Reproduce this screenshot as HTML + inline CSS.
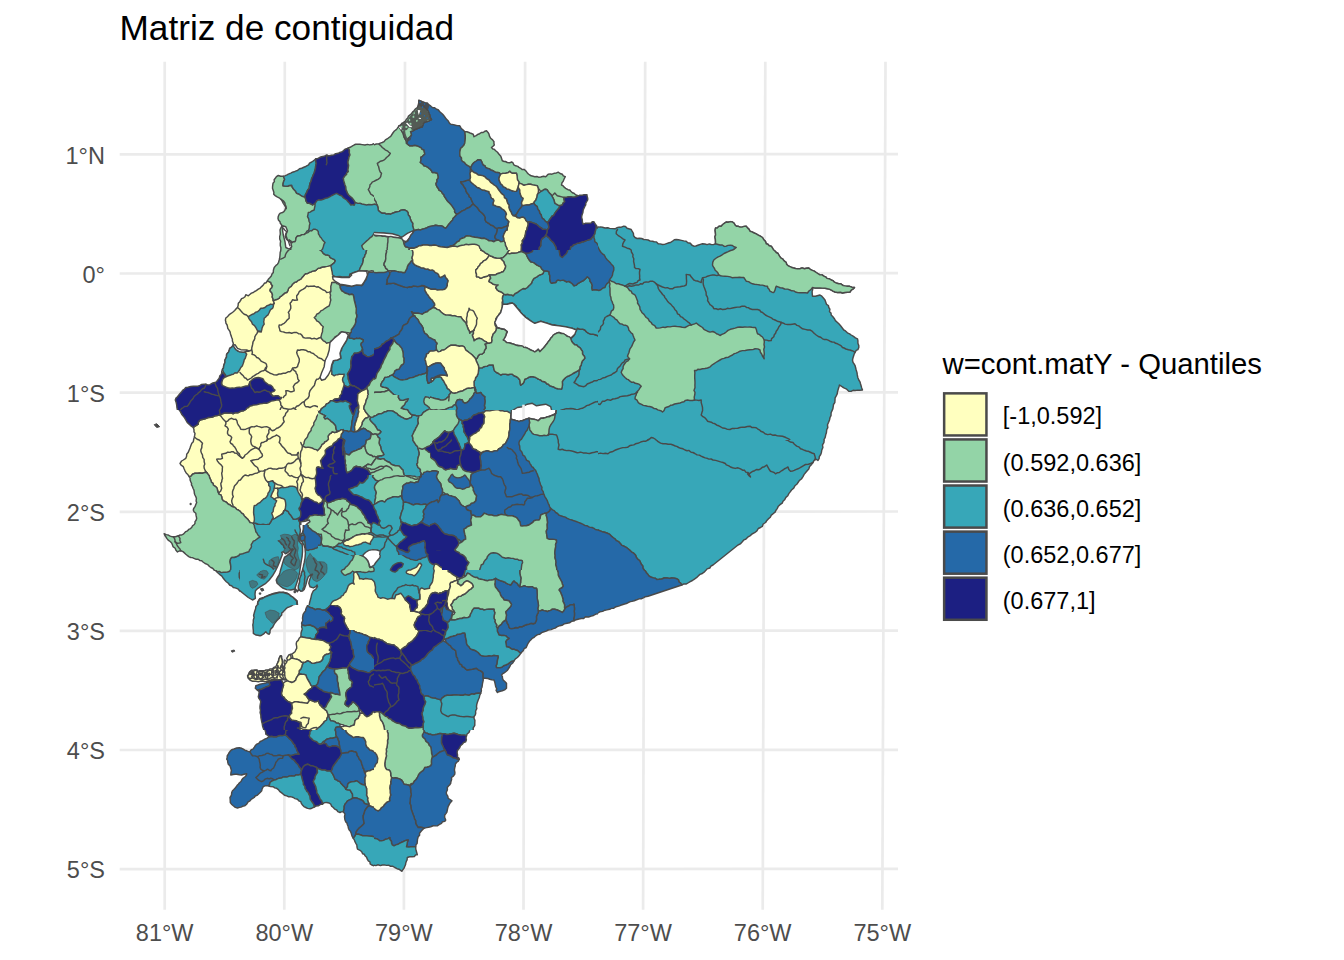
<!DOCTYPE html>
<html><head><meta charset="utf-8"><title>Matriz de contiguidad</title>
<style>
html,body{margin:0;padding:0;background:#fff;}
body{width:1344px;height:960px;overflow:hidden;font-family:"Liberation Sans",sans-serif;}
svg{display:block;}
text{font-family:"Liberation Sans",sans-serif;}
.ax{font-size:23.5px;fill:#4D4D4D;}
.lg{font-size:23.5px;fill:#000;}
.grid line{stroke:#EBEBEB;stroke-width:2.7;}
.p{stroke:#4A4A4A;stroke-width:1.45;stroke-linejoin:round;}
.l{fill:none;stroke:#4A4A4A;stroke-width:1.45;stroke-linejoin:round;stroke-linecap:round;}
</style></head><body>
<svg width="1344" height="960" viewBox="0 0 1344 960">
<defs>
<clipPath id="c0"><rect x="598" y="440" width="336" height="240"/></clipPath>
<clipPath id="c1"><rect x="598" y="90" width="328" height="350"/></clipPath>
<clipPath id="c2"><rect x="150" y="90" width="224" height="160"/></clipPath>
<clipPath id="c3"><rect x="374" y="90" width="224" height="160"/></clipPath>
<clipPath id="c4"><rect x="150" y="250" width="224" height="160"/></clipPath>
<clipPath id="c5"><rect x="374" y="250" width="224" height="160"/></clipPath>
<clipPath id="c6"><rect x="150" y="410" width="224" height="160"/></clipPath>
<clipPath id="c7"><rect x="374" y="410" width="224" height="160"/></clipPath>
<clipPath id="c8"><rect x="150" y="570" width="224" height="160"/></clipPath>
<clipPath id="c9"><rect x="374" y="570" width="224" height="160"/></clipPath>
<clipPath id="c10"><rect x="150" y="730" width="224" height="160"/></clipPath>
<clipPath id="c11"><rect x="374" y="730" width="224" height="160"/></clipPath>
<clipPath id="c12"><rect x="318" y="395" width="112" height="80"/></clipPath>
<clipPath id="c13"><rect x="330" y="550" width="112" height="80"/></clipPath>
<clipPath id="c14"><rect x="240" y="525" width="112" height="80"/></clipPath>
<clipPath id="c15"><rect x="318" y="475" width="112" height="80"/></clipPath>
<clipPath id="c16"><rect x="390" y="90" width="84" height="60"/></clipPath>
</defs>
<rect width="1344" height="960" fill="#fff"/>
<g class="grid">
<line x1="164.7" y1="61.7" x2="164.7" y2="909.7"/>
<line x1="284.8" y1="61.7" x2="284.3" y2="909.7"/>
<line x1="405.0" y1="61.7" x2="403.9" y2="909.7"/>
<line x1="525.1" y1="61.7" x2="523.5" y2="909.7"/>
<line x1="645.2" y1="61.7" x2="643.1" y2="909.7"/>
<line x1="765.3" y1="61.7" x2="762.7" y2="909.7"/>
<line x1="885.5" y1="61.7" x2="882.3" y2="909.7"/>
<line x1="119.7" y1="154.4" x2="898" y2="154.1"/>
<line x1="119.7" y1="273.5" x2="898" y2="273.2"/>
<line x1="119.7" y1="392.7" x2="898" y2="392.4"/>
<line x1="119.7" y1="511.8" x2="898" y2="511.5"/>
<line x1="119.7" y1="630.9" x2="898" y2="630.6"/>
<line x1="119.7" y1="750.0" x2="898" y2="749.8"/>
<line x1="119.7" y1="869.2" x2="898" y2="868.9"/>
</g>
<g id="map">
<g clip-path="url(#c0)">
<polygon class="p" fill="#37A7B8" points="585.5,427.5 824.2,427.5 824.3,430.2 824.6,432.3 823.6,435 824,437.8 824.2,440 823.9,442.6 822.5,444.9 822.9,447.5 821.8,450 821.4,452.4 820.7,454.5 819.3,456.6 819.1,458.6 818,460.5 815.5,458.8 814.1,460.4 813,462.5 811.6,464.4 809.6,466.5 808.8,469 807.4,470.5 805.9,472.3 804,474.6 803,476.6 801.4,479 799.5,480.3 798,482.5 796.8,484.3 794.9,485.8 793.7,488.1 791.5,490 790.4,491.6 788.8,493.6 787.8,495.8 785.9,497.4 784.6,499.8 783,501.2 782.2,503.1 780,504.7 778.1,506.6 777.4,508.3 775.9,510.4 775.1,512.1 773,513.8 771.3,515.1 770.3,517.2 768.3,518.9 766.9,520.4 765.6,522.5 763.2,524 762.3,526.4 760.5,527.5 758.3,528.5 756.9,530.9 754.6,532.7 752,534 750.3,535.6 748.2,536.8 746,539 744,539.8 742.3,541.8 740.3,543.9 738,545 713,565 710.9,566.2 709.8,568 707.1,568.9 705.7,570.6 704.1,572.2 701.7,573.8 699.9,574.4 698,576.2 696.5,577.7 694.1,579.3 692.4,580.5 690.2,581.7 688,583 686.4,583.9 683.8,583.9 681.8,585 680.6,583 679,582 678.5,579.9 676.8,578.8 674.3,578.1 671.8,578 669.4,578.4 666.9,577.9 664.2,578 661.7,579 659.1,579.3 656.8,579.5 655.4,578.3 653.3,577.9 650.7,577 649.2,576.2 648,574.6 646.6,573.1 645.6,571.3 644.2,570 642.9,568.1 642.8,566 641.5,564.6 640.5,562.5 639.6,560.5 637.9,559.3 636.4,557.5 635.5,555 633.7,553.2 631.7,552.1 630,550.4 628,548.8 626.2,547.3 624.2,546.3 621.9,545.4 620.5,543.8 618.7,541.7 616.3,540.7 615.1,539 613,537.5 610.8,535.6 609.3,534.1 606.8,533 604.6,532.2 602.1,531.7 600,530.8 598,530 595.2,530.2 593.3,529.7 590.5,529.1 588.1,528.5 585.5,528.8"/>
<polygon class="p" fill="#2569A8" points="585.5,528.8 588.1,528.5 590.5,529.1 593.3,529.7 595.2,530.2 598,530 600,530.8 602.1,531.7 604.6,532.2 606.8,533 609.3,534.1 610.8,535.6 613,537.5 615.1,539 616.3,540.7 618.7,541.7 620.5,543.8 621.9,545.4 624.2,546.3 626.2,547.3 628,548.8 630,550.4 631.7,552.1 633.7,553.2 635.5,555 636.4,557.5 637.9,559.3 639.6,560.5 640.5,562.5 641.5,564.6 642.8,566 642.9,568.1 644.2,570 645.6,571.3 646.6,573.1 648,574.6 649.2,576.2 650.7,577 653.3,577.9 655.4,578.3 656.8,579.5 659.1,579.3 661.7,579 664.2,578 666.9,577.9 669.4,578.4 671.8,578 674.3,578.1 676.8,578.8 678.5,579.9 679,582 680.6,583 681.8,585 648,596.2 645.3,596.7 643.8,597.6 641.1,598.9 639,598.8 636.7,599.8 634.2,600.7 631.8,601.4 629.7,601.8 627.2,603.2 625.4,603.8 623,604.5 620.6,605.3 618.7,606.1 616,606.7 613.8,608.2 611.4,608.4 609.7,609.3 606.8,609.9 605,610.2 602.6,611.4 600.1,611.7 598,613 595.7,613.7 593.4,614.6 591.9,614.7 589.4,616.1 587.4,616.8 585.5,617.5"/>
<polyline class="l" points="595.5,453 598.2,453.6 600.6,453.1 603.1,453.6 605.3,453.3 608,453.8 609.9,452.3 612.1,451.8 613.9,450.8 615.5,450 617.6,449.2 620.1,448.4 622.8,447.6 625.5,447.5 627.5,447.3 629.5,445.8 631.3,445.2 633.8,444.9 635.5,443.8 637.8,443.3 640,442.4 641.5,441.7 643.8,441.1 645.8,441.2 648,440 649.9,439 651.8,438.8"/>
<polyline class="l" points="654.2,438.8 656.6,440.2 658.1,441.7 660.6,443.1 663,443.8 665.8,443.7 668.1,444.2 670.9,444.2 673,445 675.3,446 676.8,446.4 678.7,447.5 680.7,448.3 683,448.8 685,450 687.1,450.7 688.8,450.4 691.1,452.2 693,452.5 694.8,453.5 697.1,454.9 699.4,455.1 701.1,456.2 703,457 705.2,457.9 707.2,458.3 708.9,459.1 711.1,459 713,460 715.7,460.4 718.1,461.1 720.6,461.9 723,462.5 725.3,463.5 726.3,464.9 728.9,465.9 730.5,467 732.6,467.7 735.2,468.4 738,467.8 740.5,468.8 742.6,470.2 744.4,470.1 745.8,472.1 748,472.5 749.3,474.5 750.5,477 748.7,475.4 747.5,473.8 749.7,473.4 751.5,472.1 753,471.2 754.6,470.7 756.4,469.5 759.1,469.7 760.5,468.8 762.6,467.2 764.5,466.7 766.8,465 767.9,467.2 768.9,469 770.5,471.2 772.4,471.9 774.1,472.5 775.5,473.8 777.5,472.7 779.3,472.5 781.5,470.8 783,470 784.2,469 786.4,467.9 788,467 788.8,469.5 790.5,471.2 792.3,471.1 794.2,470.4 795.8,469.6 798,468.8 800.2,467.7 801.5,466.9 803.6,465.6 805.5,464.5 808.4,464.2 810.7,463.5 813,462.5"/>
<polyline class="l" points="784.2,438.8 786.5,440 788.3,440.6 790.2,442 793,442.5 794.4,444.2 796.7,446.1 799.2,447.1 800.5,448.8 802.3,449.3 804.5,450.3 806.4,451 808,451.2 809.8,452 812,453 814.2,453.8 814.8,455.7 815.4,458.2 815,460"/>
</g>
<g clip-path="url(#c1)">
<polygon class="p" fill="#37A7B8" points="577.5,225 580,225.4 582.1,225.3 584.7,225 587.5,224.5 590.2,225.4 592.8,224.5 595,225 596.2,226.2 598.6,227.1 600.5,226.9 602.5,227.2 605,228 607.8,227.7 609.6,228.4 612.7,228.6 615,228.8 616.8,227.8 619.2,227.1 621.3,227.2 623.8,226.2 625.5,226.5 627.1,228.3 629.6,229 631.2,229.5 632.1,231.2 633.4,233.3 633.6,235.7 635,237.5 637,238.5 639.4,238.3 641.7,238.5 643.8,239.5 645.8,239.6 648.2,240 650.3,241.1 652.5,241.2 654.2,241.8 656.5,241.9 658.2,243.7 660.1,243.9 662.5,244.5 664.5,244.4 666.5,243.6 669,242.8 670.5,242.5 672.5,241.2 674.3,239.8 676.2,239.5 678.5,239.8 681.4,240.4 683.8,240.9 686.2,241.2 687.8,242.7 690.4,243.3 691.7,245 693.8,246.2 695.8,246 698.5,245 700.3,244.4 702.5,243.8 704.9,244 707.1,244.6 709.3,243.9 711.2,244.5 713.4,244.6 715.5,243.8 715.5,241.5 715.4,239.6 714.9,236.8 715.6,235 715.4,232.7 715.1,230.3 715.5,228 717.2,228.1 719,226.3 721.2,226.2 722.7,224.5 724.6,223.2 726.2,222 728,222.3 730.7,221.6 732.5,222 734.2,223.3 735,225 736.4,226.2 738.3,226.3 740,227 741.9,227.1 744,226.4 746.2,226.2 747.5,227.9 749.1,229.4 750,231.2 752,231.9 754.2,233 756.2,233.8 758.3,235.1 760.3,236.2 762.5,237.5 763.6,239.4 765.5,241.4 766.2,243.8 767.9,244.3 769.2,245.8 771.2,246.2 772.5,248 773.4,249.8 774.7,250.8 776.2,252.5 778.1,253.5 779.2,255.7 780.7,257.8 782.5,258.8 784.1,260.9 786.1,262.3 786.7,264.5 788.8,266.2 791.2,267.2 792.7,267.7 795.6,268.5 797.5,268.8 799.8,268.8 802.1,267.9 804.5,268.8 806.3,268.3 808.8,268 810.7,269.7 812.4,270.4 814.3,271.1 816.2,272.5 817.7,273.5 819.6,274.7 822.1,274.9 823.8,276.2 825.8,277 827,278.4 829.1,278.7 831.2,280 832.9,280.6 834.4,282.2 837,283.3 838.8,283.8 840.8,283.8 843.3,285.6 845.1,285.9 847.5,286.2 849.6,286.3 851.8,287.2 854.5,287.5 853.2,288.9 851.2,290.1 850,292 847.4,292.2 844.9,292.5 842.5,293 840.3,292.2 837.5,292.5 835,292 833,291.1 831.4,290.2 829.3,289.1 827.5,288.8 825,288.3 822.5,288.1 820,288 817.7,287.9 814.6,287.9 812.5,287.5 812.7,289.6 812.1,291.6 812.3,294.3 812.5,296.2 815.4,296.3 817.2,295.8 820,295 821.8,296.2 823.6,298.3 825,300 825.7,302 826.5,304.3 828.4,305.5 828.8,307.5 829.9,309.1 829.5,311.7 831,313 831.2,315 832.9,316.7 834.6,319 835.4,320.6 837.5,322.5 839.1,324.1 840.8,326 842.1,327.7 843.8,330 845.5,330.9 847.4,332.8 849.6,333.8 851.2,335 853.5,336.4 855.4,337.8 857.5,338.8 857.9,340.7 857.9,343.2 858.8,345.6 858.8,347.5 857.9,349.6 856.2,350.4 855,352.5 854.2,354 853.6,356.1 853,357.8 852.5,360 853,362.3 854.1,363.9 855.2,365.8 855.6,367.8 856.2,370 857,372.6 857.3,374.9 857.8,377.5 858.8,380 860,381.9 860.5,383.8 861.1,385.8 861.7,387.9 862.5,390 859.8,390.3 857.8,390.1 855,390.5 853.1,390.3 851,391.4 848.8,391.2 846.7,389.2 844.4,388.1 842.5,387 841.2,386.1 839.5,385 839,386.8 838.3,389 837.5,391.7 837.2,393.9 836.1,396.1 835.1,397.9 835,400 834.8,402.7 833.5,404.5 833.2,406.6 832.9,408.6 831.8,411.2 831.1,412.8 831,415.7 830,417.5 829.6,419.7 828.6,422.3 827.5,424.8 827.8,427.6 826.7,429.8 826.4,432.7 825.7,434.8 825.2,437.3 823.8,440 823.4,442.3 822.6,445.1 822.3,447.9 821.2,450 577.5,450"/>
<polygon class="p" fill="#93D4A7" points="715.5,243.8 715.5,241.5 715.4,239.6 714.9,236.8 715.6,235 715.4,232.7 715.1,230.3 715.5,228 717.2,228.1 719,226.3 721.2,226.2 722.7,224.5 724.6,223.2 726.2,222 728,222.3 730.7,221.6 732.5,222 734.2,223.3 735,225 736.4,226.2 738.3,226.3 740,227 741.9,227.1 744,226.4 746.2,226.2 747.5,227.9 749.1,229.4 750,231.2 752,231.9 754.2,233 756.2,233.8 758.3,235.1 760.3,236.2 762.5,237.5 763.6,239.4 765.5,241.4 766.2,243.8 767.9,244.3 769.2,245.8 771.2,246.2 772.5,248 773.4,249.8 774.7,250.8 776.2,252.5 778.1,253.5 779.2,255.7 780.7,257.8 782.5,258.8 784.1,260.9 786.1,262.3 786.7,264.5 788.8,266.2 791.2,267.2 792.7,267.7 795.6,268.5 797.5,268.8 799.8,268.8 802.1,267.9 804.5,268.8 806.3,268.3 808.8,268 810.7,269.7 812.4,270.4 814.3,271.1 816.2,272.5 817.7,273.5 819.6,274.7 822.1,274.9 823.8,276.2 825.8,277 827,278.4 829.1,278.7 831.2,280 832.9,280.6 834.4,282.2 837,283.3 838.8,283.8 840.8,283.8 843.3,285.6 845.1,285.9 847.5,286.2 849.6,286.3 851.8,287.2 854.5,287.5 853.2,288.9 851.2,290.1 850,292 847.4,292.2 844.9,292.5 842.5,293 840.3,292.2 837.5,292.5 835,292 833,291.1 831.4,290.2 829.3,289.1 827.5,288.8 825,288.3 822.5,288.1 820,288 817.7,287.9 814.6,287.9 812.5,287.5 810.9,289.6 808.9,291 807.5,293 805.1,292.8 802.4,292.7 799.9,292.8 797.5,292.5 795.4,292 793.9,290.9 791.7,290.8 790,290 787.6,289.1 784.6,289 782.5,288 780.2,287.7 778.1,286.9 776.2,286.2 775.4,288.6 774.8,290.7 773.8,292.5 772,292.2 770,291.2 769.1,289.3 767.7,287.7 767.5,286.2 765.2,286 762.5,285.1 760,285 757.8,284.6 754.6,284.3 752.5,283.8 750.4,282.8 748.6,281.6 746.2,281.2 744.9,279.1 743.8,277.5 741.6,277.5 739.4,277.2 737.3,277.5 735,277.5 732,277.7 730.3,276.9 727.7,276.4 725,276.2 722.6,276.1 720.6,275.7 718.8,275 717.9,272.9 716.9,271.7 715,270 714.5,268.5 713.2,266.7 712.5,265 712.8,262.1 713.8,260 715.6,258.5 717.7,257.2 720,256.2 721.7,255.1 724,253.5 726.2,252.5 728.2,251.7 730.6,250.5 732.5,250 734.4,249 736.2,247.5 733.9,246.7 732.5,245.5 730.3,245.3 728,245.4 726.2,246.2 724.3,246.4 722.3,245 720,245 718.1,244.5"/>
<polygon class="p" fill="#93D4A7" points="609.5,280 611.4,281.2 614,282.1 616.2,283.8 618.4,283.8 620.4,284.5 623.2,285.3 625,286.2 626.8,287 628.1,288.3 629.6,290.5 631.2,291.2 632.2,293.4 634.1,294.4 635.2,295.3 636.2,297.5 636.8,299.1 637.7,301.2 637.5,303 638.8,305 639.8,306.9 640,309.3 641.2,311.2 642.1,312.8 644,314.4 645,315.9 646.2,317.5 648,318.6 649.4,321.2 651.2,322.5 652.3,324.3 654.7,325.6 656.2,328 658.1,328.1 660.3,327.9 663.1,327.1 665,327.5 667.5,326.7 670,326.9 672.5,326.4 675,326.2 677.6,326.6 680,326.8 682.2,327.2 685,327.5 687.2,326.3 688.9,325.4 691.2,325 693,324.4 694.7,323.9 696.2,323 698.5,324.9 700.3,326.2 702.5,327.5 703.9,329.3 705.4,330.2 707.5,331.2 710,332.1 712.8,331.5 715,332.5 716.5,333.7 718.3,334.4 720,335.5 721.9,334.4 724.4,333.4 726.2,332 728,330.4 730.4,329.3 732.5,328.8 735.1,328.1 737.7,327.3 740,327 742.6,327.3 744.7,327 747.5,327.1 750,327 751.9,327.3 753.9,327.5 755.5,327.5 756.4,329.7 756.8,331.6 757.5,333.8 759.7,334.6 760.5,335.7 762.5,337 763.4,338.5 764.2,340 764.3,342.1 764,344.5 764.5,347 763.8,349.3 764.1,351.8 764.3,354 763.8,356.5 764.2,358.8 762.5,356.2 761.8,354.2 760.4,352.3 760,350 757.8,348.9 755,348.8 752.9,349.6 749.8,349.7 747.5,350 745.2,350.5 742.4,350.6 740,351.2 738.3,352.2 736.2,353.1 734.3,353.6 732.5,355 730.1,356.1 728.5,357.2 726.2,357.5 724,358.4 721.9,358.9 720,360 717.7,361.3 715.8,362.5 713.8,363.8 712,365 710.2,366.8 707.5,368 704.9,368.5 702.4,368.8 700,369.5 697.8,369.3 696.6,370.5 694.5,370.5 694.9,372.9 694.7,375.2 694.7,377.6 694.9,380.4 695,383 694.9,385.2 695,387.6 694,390.5 695,392.3 694.8,394.7 694.2,397.2 694.5,400 692.6,400.5 689.8,400.5 687.5,400 685.4,400.4 684,401.7 681.6,402.3 680,403 677.4,403.5 674.6,404 672.5,405 670.8,405.2 669,406.5 666.5,407.2 665,408 664.1,410.4 662.5,412 660.8,410.7 657.8,409.9 656.2,408.8 654.3,408.6 652.3,407.3 649.7,406.5 647.5,406.2 645.7,405.7 643.3,405.4 641.6,404.4 640,403.8 638.3,402.6 637,400.2 635,398.8 635.2,397 636.3,394.8 636.2,392.5 638,390.9 639.1,389.3 639.8,388.1 641.2,386.2 639.4,384.4 637.5,383.8 635.2,383.3 633.6,382.1 631.7,382.3 630,381.2 628.3,379.6 626.9,379.1 625,377.5 623.3,375.8 622.3,374.5 621.2,372.5 621.9,370.5 623.1,368.7 623.1,366.8 623.8,365 625.2,363 626.3,361.6 628,360.8 629.5,358.8 628.4,357.4 627.5,356.2 628.1,354.6 629,352.4 629.3,351 630,348.8 631.7,346.4 632.5,344.5 633.7,341.7 635,340 634.1,338 633.2,335.8 632.5,333.8 631.1,332.9 630,331.4 628.8,330 628.5,328.1 627.5,326.2 625.4,325.2 623.4,325 622.2,324.1 620,323.8 618.5,322.3 617.1,320.2 615,318.8 613.8,317.3 611.7,316 610,315 610.7,313.2 611.3,311.2 613.3,309.7 613.8,307.5 613.6,305.2 612.7,303.5 612.1,301.5 611.2,300 610.9,297.3 610.2,295.4 610,292.5 610,290.2 610,288.2 609.5,286.2 610,283.9 609.3,281.8"/>
<polygon class="p" fill="#2569A8" points="577.5,232.5 580,233 582.2,232.5 585.1,232.9 587.7,234 590,233.8 591.5,234.7 593.1,236.6 595,237.5 595.4,239.6 595.9,242 596.9,243.6 597.5,246.2 598.5,248.1 599.7,250.5 601.1,252.5 602.5,253.8 604.4,255.2 605.7,257.9 607.2,259.8 608.8,261.2 610,262.4 611.3,264.2 613,265.7 613.8,267.5 613.8,270 612.8,272.7 612.5,275 611.5,277.1 610.6,278.2 609.5,280 608.9,282.1 606.8,283.9 605.6,285.7 605,287.5 603,288 600.9,289.7 598.8,290.5 596.4,289.7 594.1,289.5 591.2,288.8 589.3,288.4 586.7,288.6 584.4,288 581.7,287.8 580.2,287.7 577.5,287.5"/>
<polygon class="p" fill="#1C1F82" points="577.5,222 579.7,222.2 582.7,222.3 584.7,222.2 587.4,222.4 590,222 592.7,222.1 595,221.2 595.5,224.1 596.2,226.2 595.2,228.6 595,231.2 593.4,231.9 591.7,232.8 590,233.8 587.5,233.3 585.4,233.6 582.6,233.7 580,233.9 577.5,233.8 577.2,231.1 577,228.8 577.8,226.9 577.6,224.5"/>
<polyline class="l" points="617.5,229.5 616.4,231.3 616.2,233.8 618,235.3 619.2,236.2 621.2,237.5 622.9,238.9 625,240 623.8,241.9 622.8,243.8 622.5,246.2 625,247.1 627.2,248.2 629.6,248.8 631.2,250 631.4,252 633,254.6 632.8,256.7 633.8,258.8 633.6,261.3 634,263.1 634.5,265.5 634.5,267.5 636,268.6 638.4,268.6 640,269.5 639.5,272 639.5,273.9 639.7,275.9 639.6,278 640,280 638.3,280.5 637,282.4 635,283 633,284 629.7,283.5 627.5,284.5 625,286.2"/>
<polyline class="l" points="625,286.2 627.1,286.6 629.4,285.7 631.2,286.2 633.7,285.7 636.1,284.9 638.8,285 640.7,283.7 642.5,284 643.9,282.4 646.2,282 648.5,282.1 650.3,281.2 652.5,281.2 654.4,282.1 656.2,283.8 658.1,284.8 660.3,286 662.5,287 665.2,287.9 667.5,287.7 670,288.8 672.5,288.8 674.6,287.4 677.5,287 680.1,286.8 682.2,286.3 683.9,286.1 686.2,285 686.5,282.9 686.6,280.9 686.4,278.8 686.4,276.3 686.2,274.5 687.8,274.6 690,275 691.1,276.8 692.4,278.3 693.8,280 695.4,280.7 697.4,281 699.5,281.9 701.2,282.5 701.4,280.5 702.5,278 704.2,277.4 705.7,277.1 707.5,276.2 710.3,275.4 712.5,275 714.3,275 716.9,275.6 718.8,275"/>
<polyline class="l" points="656.2,283.8 657.8,286 658.3,288.5 659.5,290.5 661.2,292.5 662.6,294.5 664.2,295.9 664.9,297.6 666.3,299.3 667.5,301.2 668.9,302.7 670.7,304.1 672.2,305.9 673.8,307.5 674.8,309.4 676.6,311.2 677.5,313.8 679.3,314.7 680.5,316.6 682.5,317.4 683.8,318.8 685.5,320 687.7,321.8 689.3,322.9 691.2,325"/>
<polyline class="l" points="702.5,278 703.4,279.8 703.1,282.1 703.3,284.5 703.8,286.2 704.6,288.2 705.5,290.7 706.1,292.3 706.2,295 707.3,296.8 707.8,298.6 707.6,300.7 708.8,302.5 710,304.6 711.4,305.5 713.1,307.1 713.8,308.8 716.2,308.8 718.1,309.5 720.3,308.8 722.5,309.5 725.3,309.3 727.3,308.3 729.9,308.6 732.5,308 735,307.5 737.3,307.1 740,307 742.1,306.1 745,306.2 746.8,307.6 748.4,307.6 750,308.8 752.3,309.5 754.6,309.4 757.5,309.5 759.8,310.2 760.7,311.8 762.5,312.5 763.8,313.6 765.4,315 767.5,316.2 769.2,316.9 771.3,317.8 772.8,319.1 775,320 777.3,321.2 779.4,321.7 781.2,322.5"/>
<polyline class="l" points="781.2,322.5 780.6,324.6 778.9,326.7 777.6,329.5 776.2,331.2 775.6,333.2 774.3,334.8 773.8,336.8 771.6,338.6 771.2,340.5 768.7,340.8 766.6,340.1 764.2,340"/>
<polyline class="l" points="781.2,322.5 783.5,323.2 785.1,324.1 787.5,324.5 790.4,324.5 792.4,324.2 795,323.8 796.9,325.4 798.8,325.9 800.9,327.7 802.5,328.8 805.2,329.4 807.8,330 810,330 811.6,330.8 813.4,332.6 814.4,333.5 816.2,335 818.3,336.5 820.7,337.3 822.5,338.8 824,339.4 826.2,339.4 828.1,340.1 830,341.2 832.2,342 834,342.1 835.6,343.3 837.5,343.8 839.4,344.8 841,345.7 842.5,347.5 844.1,348 845.9,349 848.4,349.7 850,350 852,350.7 853.7,351.4 855,352.5"/>
<polyline class="l" points="694.5,400 696.8,400.1 698.8,400.5 701.2,400 701.2,402.6 702,405.4 702.5,407.5 702.6,410.5 701.9,412.6 701.2,415 702.9,416.7 704.8,417.7 706.2,419.2 707.5,421.2 709.5,421.8 711.3,422.2 712.7,423.1 715,423.8 716.9,425.2 718.8,425.8 720.3,426.7 722.5,428 724.7,428.2 727.4,429.4 730,429.5 732.4,428.4 734.9,428.4 737.7,428.2 740,427.5 742.3,427.1 744.8,427.3 747.4,426.5 750,426.2 751.7,427.4 753.6,427.4 756.2,427.7 757.5,428.8 759.8,430.1 760.8,431.3 763.4,432.2 765,433.8 767.7,434.6 770.4,434.1 772.6,435.2 775,435 777.5,435.9 779.9,436 782.5,436.2 784.7,437 786.5,437.9 788.7,438.8 790,440"/>
<polyline class="l" points="610,315 608.2,315.7 606.7,316.5 605,317.5 604.2,319.7 603.3,320.9 603.5,323.3 602.5,325 600.8,326.5 600.3,329.3 599.3,330.8 597.5,332.5 595.6,333.3 593.3,334.2 592.1,335 590,336.2"/>
<polyline class="l" points="629.5,358.8 627.6,359.3 625,360 624,362 622.3,362.8 621,364.6 620,366.2 618.3,367.6 617.3,368.9 616.8,371.1 615,372.5 613,373.5 611.2,375 609.2,375.6 607.2,376.4 605,377.5 602.7,378 600.5,379.4 598.2,379.6 596.2,380.1 594.4,381.5 592.2,381.4 590,382.5"/>
<polyline class="l" points="637.5,392.5 635.5,393.5 633.5,394.1 632,394.2 630,395 627.4,395.8 624.9,396 622.5,396.2 620.2,396.6 618.6,397.7 616.8,398.3 615,398.8 612.8,399 610.4,400.3 607.4,399.6 604.7,401.2 602.5,401.2 601.3,402.9 600,404.5 597.5,403.9 595.1,403.6 592.8,403.2 590,402.5"/>
<polyline class="l" points="647.5,440 649.7,439 651.2,437.5 653.4,438 655,439 656.2,440"/>
</g>
<g clip-path="url(#c2)">
<polygon class="p" fill="#37A7B8" points="300,190 383.3,190 383.3,256.7 300,256.7"/>
<polygon class="p" fill="#93D4A7" points="278.3,175.5 280.7,176.3 283.3,176.3 284.7,179.2 283.6,181.6 283.1,183.6 283,185.8 284.9,186.1 287.5,186.3 289.2,185.5 291.7,185.3 292.3,187.3 293.7,189.2 295.4,190.9 296.7,193.3 299,194 300.8,195.3 302.8,196.5 305,196.7 305.7,199.2 306,200.9 307.5,203.3 309.4,203.3 311.2,204 312.5,205 315,203.3 315,205.8 314.5,207.9 314.2,210 312.3,210.7 310.2,212.1 308.3,212.5 307.9,214.8 307.5,216.7 308.7,218.9 309,221.2 310,223.3 309.4,225.6 309.2,228.3 308.5,230.3 306.8,231.2 305.8,233.3 304.1,234.6 302,234.6 300,235.8 298,236 296.7,236.7 295.9,238.4 295.7,240.2 295,241.7 293.5,241.7 291.7,243 290.8,241 289.2,240 289.4,242.5 290,245 290.9,247.1 290.7,249.8 291.2,251.7 291.4,254.5 291.7,256.7 289.1,256.9 286.4,256.8 284,257.3 281.3,256.7 280.6,254.1 280.6,252.2 280.8,250.1 280.9,247.8 280.3,245.6 280.3,243.3 280.6,241.3 279.7,239.1 279.7,236.7 280.3,234.2 280.2,231.9 280,230 280.5,228.7 281.5,226.8 281.7,225 280.3,223.3 280,221.7 278.4,219.9 278,218.3 278.3,216.2 279.2,214.2 280.4,213.1 282.5,212.5 283.9,211.7 285,210 285.8,207.5 284.8,205.6 283.3,203.3 282.2,201.2 280.8,199.2 279.1,197.8 276.7,196.7 275.2,195.6 273.7,194.2 273.9,192.5 273.1,190.1 272.5,188.3 272.6,186.2 273,183.3 274.4,181.6 274.1,179.7 275.3,178.3 276.4,176.6"/>
<polygon class="p" fill="#93D4A7" points="296.7,236.7 298,236 300,235.8 302,234.6 304.1,234.6 305.8,233.3 307.8,232.6 310,230.8 311.6,230.9 313.4,229.3 315,229.2 317.2,230.1 318.3,231.7 318.4,233.8 319.4,235.3 320,236.7 321.3,238 322.5,240 324,241.5 325,242.5 324,244.1 323.3,246.7 322.7,248.6 321.4,250.7 320.7,252.4 319.8,254.6 319.2,256.7 316.5,256.4 314.5,256.4 311.5,256.7 309.5,257.1 306.8,256.6 304.1,257 301.8,256.3 298.9,257.2 296.5,257 293.9,256.9 291.7,256.7 291.4,254.5 291.2,251.7 290.7,249.8 290.9,247.1 290,245 289.4,242.5 289.2,240 290.8,241 291.7,243 293.5,241.7 295,241.7 295.7,240.2 295.9,238.4"/>
<polygon class="p" fill="#FFFFFF" points="282.5,225.8 285.8,226.7 287.5,230.8 285.8,235 287.5,240 290.8,242.5 291.7,246.7 289.2,249.2 285.8,247.5 285,241.7 283.3,235 282.5,230"/>
<polyline class="l" points="283.3,228.3 284.7,230 286.7,231.7 285.7,234.2 285.3,236.7 286.4,239 288.3,240.8 288.9,242.6 289.3,243.9 290,245.8"/>
<polygon class="p" fill="#37A7B8" points="283.3,176.3 284.8,175.9 287,174.9 288.3,174.2 290.8,173.1 292.5,172.2 294.1,171.8 296.1,170.9 297.5,170.5 299.5,168.8 301.7,168.3 303.2,167.5 305.1,166.8 306.7,165.8 308.6,164.8 309.5,163.1 311.7,162 313.4,160.9 314.2,160.2 315.8,158.8 315.7,161.1 316.3,163.3 315.7,165.6 315.5,168.1 315,170 314.4,172.2 313.4,174.5 312.5,176.7 311.6,178.7 311.1,181.1 310,183.3 309.5,185.6 309.2,188.3 307.5,190.2 306.7,192.5 305.5,194.3 305,196.7 302.8,196.5 300.8,195.3 299,194 296.7,193.3 295.4,190.9 293.7,189.2 292.3,187.3 291.7,185.3 289.2,185.5 287.5,186.3 284.9,186.1 283,185.8 283.1,183.6 283.6,181.6 284.7,179.2"/>
<polygon class="p" fill="#1C1F82" points="315.8,158.8 317.6,158.6 319.9,157.3 321.7,156.7 324.2,156.3 326.3,155 328,155.8 329.8,155.8 331.7,155.3 333.8,154.9 335.7,153.7 338.3,153.3 339.6,152.5 341.7,151.9 343.3,150.8 345,149.2 346.5,148.8 348.3,148 349.4,150.1 349.3,152.6 350,155 349,156.8 348.6,159.3 348,161.5 348,163.3 348.6,165.3 348.3,167.6 347.9,169.8 348.3,171.7 346.7,172.8 346.6,174.4 345,175.8 343.3,178.3 343.8,180.9 344.4,182.9 345,185 345.8,186.8 346,189.5 346.9,191.6 347.5,193.3 348.9,195.2 351,197 352.5,198.3 353.8,200.2 355.3,202.5 354.2,205.3 352.8,204.7 350.8,205 349.4,203.1 348.1,201.7 346.7,200 345.1,199 343.1,197.6 341.7,195.8 340,195.3 338.4,194.4 336.7,193.3 334.7,194.1 331.9,195.5 330,196.7 328,197.7 325.6,198.3 323.3,199.2 321,200 318.5,199.8 316.7,200.8 315.5,202.8 314.3,203.9 312.5,205 311.2,204 309.4,203.3 307.5,203.3 306,200.9 305.7,199.2 305,196.7 305.5,194.3 306.7,192.5 307.5,190.2 309.2,188.3 309.5,185.6 310,183.3 311.1,181.1 311.6,178.7 312.5,176.7 313.4,174.5 314.4,172.2 315,170 315.5,168.1 315.7,165.6 316.3,163.3 315.7,161.1"/>
<polyline class="l" points="327.3,155.3 326.6,157.3 326.7,160.3 327,162.8 326.3,164.7"/>
<polygon class="p" fill="#93D4A7" points="348.3,148 350.8,147 352.5,145.8 354.4,144.8 355.8,144.3 357.5,144.2 359.9,144.3 362.1,144.6 365,145 367.4,144.4 369.7,144.9 372.1,144.5 374,143.7 376.5,143.9 378.6,143.4 381.2,143.4 383.3,143.7 383.3,204.2 380.9,204.1 378.6,204.1 376.3,204.8 374,204.2 371.9,204.7 368.8,204.5 366.7,205 364.5,204.5 362,204 360,203.3 357.9,203.4 355.3,202.5 353.8,200.2 352.5,198.3 351,197 348.9,195.2 347.5,193.3 346.9,191.6 346,189.5 345.8,186.8 345,185 344.4,182.9 343.8,180.9 343.3,178.3 345,175.8 346.6,174.4 346.7,172.8 348.3,171.7 347.9,169.8 348.3,167.6 348.6,165.3 348,163.3 348,161.5 348.6,159.3 349,156.8 350,155 349.3,152.6 349.4,150.1"/>
<polyline class="l" points="374,181.3 372.2,182.1 371.4,183.5 370,184.7 369.8,186.7 369.2,188 368.3,189.7 369.5,191.6 370.8,194.2 372.4,195.1 374,196.3"/>
<polygon class="p" fill="#93D4A7" points="383.3,223.3 381.6,225 380.1,226.1 378.5,227.8 377,230.2 375.1,231.4 374,233.3 372.9,235.1 371.7,236.7 369.6,238.2 368.1,239.8 366.7,240.9 365,242.5 363.1,244.3 361.7,245.8 362.6,248.1 364.1,250.3 365,252.1 365.4,254.5 366.7,256.7 369.2,256.9 371.8,256.7 374,257.1 376.2,256.8 378.6,256.2 380.9,256.3 383.3,256.7"/>
<polyline class="l" points="280.8,199.2 283.3,200.8 284.9,203 285.3,205 286,206.4 286.3,208.7"/>
</g>
<g clip-path="url(#c3)">
<polygon class="p" fill="#93D4A7" points="365.7,144.7 367.4,144.7 369.8,145.2 372,144.9 374,144.7 376.3,144 379,143.7 381,142.9 382.3,142.5 384,141.7 385.4,139.9 387.5,138.7 389,137.5 390.7,136.3 391.9,134.5 393.2,132.5 394.4,131 396.3,129.7 397.3,128.3 399,125.8 399.6,127.8 400.7,129.2 402,131.6 403.2,133.3 403.5,134.9 403.9,136.6 404.8,138.3 405.6,139.8 406.4,141.5 406.5,143.3 407.9,144.4 409.8,145.8 412.5,145.8 414.8,145.3 416.9,145.7 419,146.7 421.1,147.7 422,149.1 424,150 424.4,152.2 424.8,154.2 423.7,155.1 422.1,156.7 420.7,157.5 421.1,159.9 420.3,162.5 422.7,164.1 424,165.8 425.6,166.1 427.6,167.1 429,168.3 430.3,169.2 431.5,170.8 432.3,172.5 434.8,172.5 437.3,173.3 438.2,175.9 438.2,178.3 436.9,179.7 437.1,181.6 436,183.3 436.3,185.3 437,186.7 438.2,188.3 439,190.1 441.3,191.3 442.3,193.3 444,194.9 444.3,196.4 445.7,198.3 446.9,200.2 448.2,201.8 449.8,203.3 451.2,204.8 452.4,206.4 453.7,208.3 454.7,209.8 454.6,211.9 455.7,213.3 457,214.2 455.9,215.5 454.5,217 453.2,218.3 452.5,220.3 450.9,221.8 449.8,223.3 448.5,224.6 446.9,226.9 445.7,228.3 443.8,227.4 442.9,226.4 440.7,225.8 438.1,225.7 435.7,225.3 433.7,225.8 431.4,226.1 429,226.7 427.1,227.7 424.5,228.6 422.3,229.2 420.3,230.1 418.4,229.5 416.2,230 414,230.8 413.3,228 412.6,226.1 412.7,223.3 411.3,221.4 410.4,219 409.8,216.7 408.2,214.8 408,212.5 406.5,210.8 404.6,210 403.2,209.7 401.1,210.1 399.2,211.4 397.3,211.7 395.1,212.3 392.6,213.2 390.7,214.2 388.4,213.8 386.2,214.1 384.8,213.2 382.3,213.3 380.8,212.5 379,211.2 378.2,210 378,207.7 377.3,205.3 376.1,204.6 374,204.2 372.1,203.8 370,204.6 367.7,204.3 365.7,204.2"/>
<polyline class="l" points="379,144.2 380.7,145.6 382.3,147.5 384.1,148.8 385.1,149.8 387.3,150.8 388.9,152.2 390.3,153.3 389.2,155.1 388,156.2 386.5,157.5 385.2,159 383.8,160.1 382.3,160.8 380.5,161.2 378.7,162.5 377.3,163.3 377.9,165.3 378.5,166.2 379,168.3 379.4,170 380.2,171.9 381.5,173.3 381,175.1 380.7,176.7 379.8,178 378,179.4 376.5,180 374,181.3"/>
<polyline class="l" points="374,198 374.7,200 376,201.7 376.4,203.5 377.3,205.3"/>
<polygon class="p" fill="#37A7B8" points="365.7,204.2 367.7,204.3 370,204.6 372.1,203.8 374,204.2 376.1,204.6 377.3,205.3 378,207.7 378.2,210 379,211.2 380.8,212.5 382.3,213.3 384.8,213.2 386.2,214.1 388.4,213.8 390.7,214.2 392.6,213.2 395.1,212.3 397.3,211.7 399.2,211.4 401.1,210.1 403.2,209.7 404.6,210 406.5,210.8 408,212.5 408.2,214.8 409.8,216.7 410.4,219 411.3,221.4 412.7,223.3 412.6,226.1 413.3,228 414,230.8 412.4,232.5 411.5,235 409.5,235.6 407.5,236 405.4,236.9 402.7,236.6 400.7,237.5 398.6,237.1 396,236.1 393.2,235.7 391.2,234.6 388.8,234.5 386.4,233.7 384,233.3 381.8,233 379.2,233.3 376.9,233.6 374.7,233.4 372.8,232.8 370.5,233.5 367.9,232.5 365.7,233 365.2,230.4 365.5,228.3 366.1,225.9 365.5,223.1 366,221.4 365.6,218.7 365.9,216.5 365.5,213.9 365.5,211.3 365.6,209.4 366.2,206.5"/>
<polygon class="p" fill="#FAFAFA" points="365.7,232.2 374,232.5 384,233 392.3,233.7 399,235.8 401.5,237.5 407.3,233.3 412.7,230.8 413.2,232.5 409.8,237.5 406.5,241.7 403.2,240.8 400.7,238.3 395.7,237.5 389,236.7 380.7,235.8 374,235.3 365.7,235.3"/>
<polygon class="p" fill="#93D4A7" points="365.7,235.3 367.4,235.2 370,235.7 372.2,235.6 374,235.3 376.1,236 378.3,235.8 380.7,235.8 382.4,236.4 384.9,236.3 386.7,236.7 389,236.7 390.9,236.4 393.6,237.4 395.7,237.5 398.5,237.8 400.7,238.3 402.3,239.2 403.2,240.8 404,243.3 404.7,245.5 405.7,246.7 407.8,247.3 409.8,248.3 409,249.9 408.5,252.1 407.4,254.4 407.3,256.7 365.7,256.7 365.8,254.2 365.7,252.2 365.4,249.5 366.2,247 365.4,244.9 365.4,242.8 365.7,239.8 366.2,237.3"/>
<polyline class="l" points="388.2,236.7 387.9,238.8 387.9,241.8 387.5,244 387.4,246.4 387.1,249.2 387.6,251.5 387.4,254.3 387.3,256.7"/>
<polygon class="p" fill="#2569A8" points="419,100.3 420.5,100.9 422.3,101.7 424.8,102.7 427.3,103 428.7,104.7 430.2,105.6 431.5,106.7 432.8,107.7 434.7,107.8 436.5,109.2 438.2,109.8 439.6,111.5 440.7,112.5 442.4,114 444,115.8 445.2,117.5 446.1,118.8 447.3,120 448.3,121 449.4,123.1 450.7,124.2 453.3,124.6 455.7,125.3 457.5,125.6 459.8,125.8 460.8,127.7 461.4,128.7 463.2,130 464.8,131.7 465.1,134.2 465.3,135.7 465.3,138.3 465.1,140.5 464.8,142.9 464,145 462.2,147.1 460.7,148.3 460.1,150.5 459.8,152 459.8,154.2 460,156 461.5,157.9 461.5,160 462.6,161.4 464.5,162.4 465.7,164.2 467.5,165.4 469.7,166.7 470.7,168.3 470.2,170.2 470.4,172.6 470.3,175 470.5,177.6 469.8,180 467.3,180.4 464.8,181.3 462.8,181.9 460.7,181.7 461.4,183.4 462.9,184.6 464,186.7 465.5,188.7 466.2,191.5 467.3,193.3 468.9,194.9 469.2,196.7 470.8,198 471.5,200 472.5,202.3 473.7,204.2 471.9,204.9 470.6,206.6 469,207.5 466.6,208.5 464.8,209.8 462.3,210.8 460.4,212.1 458.6,213.5 457,214.2 455.7,213.3 454.6,211.9 454.7,209.8 453.7,208.3 452.4,206.4 451.2,204.8 449.8,203.3 448.2,201.8 446.9,200.2 445.7,198.3 444.3,196.4 444,194.9 442.3,193.3 441.3,191.3 439,190.1 438.2,188.3 437,186.7 436.3,185.3 436,183.3 437.1,181.6 436.9,179.7 438.2,178.3 438.2,175.9 437.3,173.3 434.8,172.5 432.3,172.5 431.5,170.8 430.3,169.2 429,168.3 427.6,167.1 425.6,166.1 424,165.8 422.7,164.1 420.3,162.5 421.1,159.9 420.7,157.5 422.1,156.7 423.7,155.1 424.8,154.2 424.4,152.2 424,150 422,149.1 421.1,147.7 419,146.7 416.9,145.7 414.8,145.3 412.5,145.8 409.8,145.8 407.9,144.4 406.5,143.3 407.3,142 407.7,139.9 408.2,138.3 409.8,136.6 411.5,135 410.6,132.9 409.8,131.7 412.4,131.3 414,130 416.4,128.9 418.2,128.3 419.9,127.5 422.3,126.7 423.1,124.4 424,122.5 426,121.8 427.4,121.6 429,120.8 431.5,119.7 430.1,117.3 429.8,115 429,113.8 428.5,111.9 427.3,110 426,108.4 424,106.7 421.3,106.3 419.8,105 419.1,102.5"/>
<polygon class="p" fill="#93D4A7" points="399,125.8 401,125 401.7,123.4 403.2,122.5 405.1,121.3 406.5,119.2 407.9,117.7 408.3,116.4 409.8,115 411.3,113.9 412.5,112.1 414,110.8 415.6,108.8 417.3,107.5 418.5,105.1 418.8,102.4 419,100.3 419.1,102.5 419.8,105 421.3,106.3 424,106.7 426,108.4 427.3,110 428.5,111.9 429,113.8 429.8,115 430.1,117.3 431.5,119.7 429,120.8 427.4,121.6 426,121.8 424,122.5 423.1,124.4 422.3,126.7 419.9,127.5 418.2,128.3 416.4,128.9 414,130 412.4,131.3 409.8,131.7 410.6,132.9 411.5,135 409.8,136.6 408.2,138.3 407.7,139.9 407.3,142 406.5,143.3 406.4,141.5 405.6,139.8 404.8,138.3 403.9,136.6 403.5,134.9 403.2,133.3 402,131.6 400.7,129.2 399.6,127.8"/>
<polygon class="p" fill="#93D4A7" points="464.8,131.7 466.9,131.7 469,132.5 470.8,133.3 473.2,134.2 474,136.7 476.1,135.7 478.2,134.2 479.6,133.7 481.3,132.5 483.2,132.5 485,131.2 486.5,130.8 488,132.4 489,134.2 489.5,136.2 490.7,138.3 492.6,139.9 494,141.7 493.9,143.1 494.3,145 493,146.3 491.5,147.5 492.9,149.1 494.2,149.3 495.7,150.8 497.5,152.3 499,154.2 500.8,156.3 501.5,158.3 502.3,160.8 504.2,161.5 505.5,161.5 507.3,162.5 509.6,162.8 511.5,162 512.9,162.7 513.8,164.8 515.7,165.8 517.8,166.4 518.9,167.4 520.7,168.3 522,169.5 524.1,169.4 525.7,170.8 527,172.4 528.4,174 529.8,175 531.2,175.8 533.2,176.3 534.8,176.7 536.9,176.5 538.5,177.2 540.7,177 543.5,176.3 545.7,176.7 546.9,175.6 548.2,174.2 550.3,173.9 551.9,174.2 554,173.3 556.1,173.1 558.2,172.2 560.1,173.5 562.3,174.2 563.3,175.8 565.3,176.7 564.1,179 563.2,181.3 562,182.7 561.5,185 563.2,185.9 564.2,187.2 565.7,188.3 568,189.7 569.8,190 570.8,191.3 572.4,192.7 574,193.3 575.9,195 578.2,195.8 576.5,196.7 574.2,197.1 572.5,197.1 570.7,196.7 568.6,196.8 566.6,197.4 564,197.5 564.1,199.7 564.8,201.7 563.1,203 562.3,205 559.8,205.8 557.8,205.1 556.7,204.5 554.8,203.3 554.4,201.7 553.9,200 553.2,198.3 551.9,196 550.7,194.2 549.1,192.7 548.1,191.3 547.3,190 545.7,189.2 544.1,189.5 542.6,190.6 540.7,191.7 539.7,190 538.2,188.3 537.3,185.8 535.4,185.4 532.5,184.9 530.7,184.2 528.6,184.2 526.5,184.6 524,185.3 522.5,184.5 521.1,183.6 519,183.3 518.8,181.6 517.5,179.8 517.3,178.3 517.1,175.8 516.5,173.3 514,173.2 512.3,173.3 510.8,172.4 509.8,171.3 507.8,172.8 505.7,173.3 502.7,173.4 500.7,174.2 499.1,172.8 497.3,172.5 495.3,172.2 493.1,170.8 490.7,170 489.5,168.9 487.1,168.2 485.7,167.5 484.9,165.7 483.4,165.3 482.3,163.3 481.6,161.4 480.7,160 478.2,159.7 476.3,161 474,162.5 472.3,164.5 471.3,166.3 470.7,168.3 469.7,166.7 467.5,165.4 465.7,164.2 464.5,162.4 462.6,161.4 461.5,160 461.5,157.9 460,156 459.8,154.2 459.8,152 460.1,150.5 460.7,148.3 462.2,147.1 464,145 464.8,142.9 465.1,140.5 465.3,138.3 465.3,135.7 465.1,134.2"/>
<polyline class="l" points="552,195.8 553.4,194.5 554.8,193 556.1,194.5 557.3,195.8 559.3,196.3 561.8,196.9 564,197.5"/>
<polygon class="p" fill="#2569A8" points="414,230.8 416.2,230 418.4,229.5 420.3,230.1 422.3,229.2 424.5,228.6 427.1,227.7 429,226.7 431.4,226.1 433.7,225.8 435.7,225.3 438.1,225.7 440.7,225.8 442.9,226.4 443.8,227.4 445.7,228.3 446.9,226.9 448.5,224.6 449.8,223.3 450.9,221.8 452.5,220.3 453.2,218.3 454.5,217 455.9,215.5 457,214.2 458.6,213.5 460.4,212.1 462.3,210.8 464.8,209.8 466.6,208.5 469,207.5 470.6,206.6 471.9,204.9 473.7,204.2 475.5,206 477.3,207.5 478.4,209.2 479.9,211.2 481.5,212.5 483.1,214 484.3,215.5 485.3,217.5 485.1,219.8 486,221.7 487.8,222.8 489,223.5 490.7,225 493.1,225.7 495,227.6 497.3,228.7 497.2,230.7 496.5,233.3 495.2,235.6 494.8,237.5 496.1,239 497.3,240 495.5,240.7 494,241.7 491.4,240.8 489,240.8 487.4,239.7 485.5,238.8 484,238.3 481.7,238.5 479.8,238 477.3,237.5 474.9,237.2 472.3,236.7 469.9,236.1 467.3,235.8 465.8,236.2 464.3,237.6 462.3,238.3 460.2,239.1 459.1,241.1 457.3,241.7 455.9,243.3 454.3,244.7 452.3,245.8 450.6,245.7 448.9,247.3 447.3,247.5 445.1,247.3 442.8,247 440.7,246.7 438.2,246.2 436.4,245.4 434,245 432.1,245.4 429.2,245.4 427.3,245 424.7,245 423.2,245 420.7,245.8 419.2,245.7 417.3,247 415.7,247.5 413.8,248.3 411.5,248 409.8,248.3 407.8,247.3 405.7,246.7 404.7,245.5 404,243.3 406.5,241.7 407.9,240.8 408.7,239.4 409.8,237.5 410.7,235.3 411.9,234 413.2,232.5"/>
<polygon class="p" fill="#2569A8" points="460.7,181.7 462.8,181.9 464.8,181.3 467.3,180.4 469.8,180 470.6,181.8 472.3,183.3 474.1,184.8 475.4,185.8 477.3,187.5 478.9,187.8 480.7,189 482.3,190 484.9,190.3 486.5,191 489,191.7 489.2,193.2 490.6,195.2 490.7,196.7 491.7,198.3 493.2,198.9 494,200.8 493.2,202.7 493.2,205 495.2,205.5 496.8,206.5 499,206.7 500.8,207.7 502,208.8 504,210 505.7,212.1 506.5,214.2 505.6,216 505.7,218.3 507.2,219.7 509,221.7 508.2,223.6 508.2,225.8 506.2,226.3 504.7,226.9 503.2,227.5 501.2,228.3 499.2,227.7 497.3,228.7 495,227.6 493.1,225.7 490.7,225 489,223.5 487.8,222.8 486,221.7 485.1,219.8 485.3,217.5 484.3,215.5 483.1,214 481.5,212.5 479.9,211.2 478.4,209.2 477.3,207.5 475.5,206 473.7,204.2 472.5,202.3 471.5,200 470.8,198 469.2,196.7 468.9,194.9 467.3,193.3 466.2,191.5 465.5,188.7 464,186.7 462.9,184.6 461.4,183.4"/>
<polygon class="p" fill="#2569A8" points="497.3,228.7 499.2,227.7 501.2,228.3 503.2,227.5 504.7,226.9 506.2,226.3 508.2,225.8 507.3,227.7 507.3,230 505.7,230.7 504.8,232.5 503.8,234.4 503.2,236.7 503.9,238.4 504,240.8 502.2,241.6 500.7,241.7 498.9,240.2 497.3,240 496.1,239 494.8,237.5 495.2,235.6 496.5,233.3 497.2,230.7"/>
<polygon class="p" fill="#2569A8" points="470.7,168.3 471.3,166.3 472.3,164.5 474,162.5 476.3,161 478.2,159.7 480.7,160 481.6,161.4 482.3,163.3 483.4,165.3 484.9,165.7 485.7,167.5 487.1,168.2 489.5,168.9 490.7,170 493.1,170.8 495.3,172.2 497.3,172.5 499.1,172.8 500.7,174.2 499.6,176.3 499,178.3 499.1,180.1 499.8,181.7 500.7,183.8 502.3,185 503.2,186.7 505.4,187.6 507.3,189.2 509,189.3 510.6,190.1 512.3,190.8 514.3,191.4 516.5,191.3 517.2,189.2 518.2,186.7 518.6,188.1 519.8,190 519.8,192.2 520.7,195 521.5,197 523.2,198.3 522.6,200.3 521.8,201.7 521.5,203.3 522.3,205.8 521.1,207.4 520.2,208.4 519,210 518,211.7 516.9,213.6 515.7,215 513.2,215.8 511.8,214.1 511.1,212 509.8,210 508.9,207.5 509,205 507.8,203.6 506.9,201.1 506.5,199.2 504.4,197.6 504.1,195.5 502.3,194.2 501,192.9 499.4,190.8 498.2,189.2 496.9,187.2 495.7,186 494,185 492,183.3 490.4,182.1 489,180 486.6,178.7 485.4,177.2 483.2,175.8 481,175.4 478.2,175 476.3,173.4 474,172.5 472.8,171.3 471.7,170.2"/>
<polygon class="p" fill="#FFFFBF" points="470.7,169.7 472.4,171.5 474,172.5 476.3,173.4 478.2,175 481,175.4 483.2,175.8 485.4,177.2 486.6,178.7 489,180 490.4,182.1 492,183.3 494,185 495.7,186 496.9,187.2 498.2,189.2 499.4,190.8 501,192.9 502.3,194.2 504.1,195.5 504.4,197.6 506.5,199.2 506.9,201.1 507.8,203.6 509,205 508.9,207.5 509.8,210 511.1,212 511.8,214.1 513.2,215.8 515.3,216.2 517.3,217.5 519.6,217.9 521.4,217.2 523.2,217 525,218.3 526,220.5 527.3,221.7 528,222.9 528.2,225 527.3,227.4 526.9,229.7 525.7,231.7 525.5,234.2 524.8,236.7 523.9,238.7 522.3,240.8 522.5,243 521.3,244.8 521.5,246.7 521.4,249.3 521.2,251.6 521.3,254.1 520.7,256.7 518.7,256.5 516.2,256.5 514.1,256.4 512.3,256.7 511.1,254.5 510.1,253.6 508.5,251.3 507.3,250 506.6,247.5 505.5,245.6 505.2,243.2 504,240.8 503.9,238.4 503.2,236.7 503.8,234.4 504.8,232.5 505.7,230.7 507.3,230 507.3,227.7 508.2,225.8 508.2,223.6 509,221.7 507.2,219.7 505.7,218.3 505.6,216 506.5,214.2 505.7,212.1 504,210 502,208.8 500.8,207.7 499,206.7 496.8,206.5 495.2,205.5 493.2,205 493.2,202.7 494,200.8 493.2,198.9 491.7,198.3 490.7,196.7 490.6,195.2 489.2,193.2 489,191.7 486.5,191 484.9,190.3 482.3,190 480.7,189 478.9,187.8 477.3,187.5 475.4,185.8 474.1,184.8 472.3,183.3 470.6,181.8 469.8,180 470.5,177.6 470.3,175 469.9,173.6 471,171.3"/>
<polygon class="p" fill="#FFFFBF" points="500.7,174.2 502.7,173.4 505.7,173.3 507.8,172.8 509.8,171.3 510.8,172.4 512.3,173.3 514,173.2 516.5,173.3 517.1,175.8 517.3,178.3 517.5,179.8 518.8,181.6 519,183.3 518.6,185.1 518.2,186.7 517.2,189.2 516.5,191.3 514.3,191.4 512.3,190.8 510.6,190.1 509,189.3 507.3,189.2 505.4,187.6 503.2,186.7 502.3,185 500.7,183.8 499.8,181.7 499.1,180.1 499,178.3 499.6,176.3"/>
<polygon class="p" fill="#FFFFBF" points="519,183.3 521.1,183.6 522.5,184.5 524,185.3 526.5,184.6 528.6,184.2 530.7,184.2 532.5,184.9 535.4,185.4 537.3,185.8 538.2,188.3 538.5,190.5 538.2,193.3 537.4,194.5 537,197 536.5,198.3 535.8,200.3 534.3,201.7 534,203.3 532.3,203.7 531,204.2 529,205 527,204.9 524.2,205.4 522.3,205.8 521.5,203.3 521.8,201.7 522.6,200.3 523.2,198.3 521.5,197 520.7,195 519.8,192.2 519.8,190 518.6,188.1 518.2,186.7 518.6,185.1"/>
<polygon class="p" fill="#37A7B8" points="538.2,193.3 540.7,191.7 542.6,190.6 544.1,189.5 545.7,189.2 547.3,190 548.1,191.3 549.1,192.7 550.7,194.2 551.9,196 553.2,198.3 553.9,200 554.4,201.7 554.8,203.3 556.7,204.5 557.8,205.1 559.8,205.8 559,208.3 557.6,209.6 556.1,211.5 554.8,213.3 553.6,215.6 552,216.2 550.7,218.3 549.5,219.7 548.9,221.1 547.3,222.5 545.4,221.4 544,219.4 542.3,218.3 541.6,216.8 541.1,214.8 539.8,213.3 539.4,211.2 537.6,208.9 537.3,206.7 535.2,205.2 534,203.3 534.3,201.7 535.8,200.3 536.5,198.3 537,197 537.4,194.5"/>
<polygon class="p" fill="#2569A8" points="522.3,205.8 524.2,205.4 527,204.9 529,205 531,204.2 532.3,203.7 534,203.3 535.2,205.2 537.3,206.7 537.6,208.9 539.4,211.2 539.8,213.3 541.1,214.8 541.6,216.8 542.3,218.3 544,219.4 545.4,221.4 547.3,222.5 548.2,223.9 548.7,225.9 549,227.5 547.3,230 545.2,229.4 542.3,229.2 541.5,228 539.8,227.2 538.2,225.8 536.2,224 534,223.3 532.5,222.6 530.3,222 528.2,221.7 527.3,221.7 526,220.5 525,218.3 523.2,217 521.4,217.2 519.6,217.9 517.3,217.5 515.7,215 516.9,213.6 518,211.7 519,210 520.2,208.4 521.1,207.4"/>
<polygon class="p" fill="#2569A8" points="545.7,235 547.5,236.6 549.5,238.3 550.7,240 552,241.3 553.7,242.9 554.8,245 556.1,247.1 556.5,249.5 556.8,251.9 558.1,254.4 559,256.7 556.6,256.2 554,256.4 551.8,256.2 549.5,257.2 546.7,257 544.8,257.1 542.2,256.5 539.4,256.3 537.3,256.7 538.1,254.4 538,251.9 538.9,249.9 539.1,247.8 540.7,245.7 540.7,243.3 540.9,241.6 541.4,239.9 542.3,238.3 544.6,236.8"/>
<polygon class="p" fill="#2569A8" points="567.3,256.7 568.3,254.4 568.1,252.7 569.7,250.6 570.3,248.9 570.7,246.7 572.5,246.3 573.4,244.7 575.7,244.2 577.6,243.2 579,243 580.7,242.5 582.1,241.8 583.8,241.7 585.7,240.8 587.1,240.4 588.7,239.8 590.7,239.2 591.6,238 593.3,236.3 594,235 596.1,235.5 598,236.7 600.2,237.2 602.7,236.3 605.2,236.6 607.3,236.7 607.4,239.4 607.4,241.9 606.8,244.2 607.4,247 607,249 607,251.5 607.8,254.5 607.3,256.7"/>
<polygon class="p" fill="#1C1F82" points="578.2,195.8 579.9,195.1 582.3,195.3 584.2,194.6 587,194.7 587.1,196.2 587.7,198.3 587.7,200 586.8,201.5 585.8,203.1 585.7,205 584.8,206.5 583.9,208.5 583.2,210 582.9,212.4 582,215 581.6,217.2 582.3,220 582.4,222 583.2,224.2 585.2,223.3 587.3,223.3 589,223.3 591,223.1 592.2,221.7 594,221.7 595,223.8 596.5,225.8 596.3,227.6 595.7,230 595.2,231.7 595,233.8 594,235 593.3,236.3 591.6,238 590.7,239.2 588.7,239.8 587.1,240.4 585.7,240.8 583.8,241.7 582.1,241.8 580.7,242.5 579,243 577.6,243.2 575.7,244.2 573.4,244.7 572.5,246.3 570.7,246.7 570.3,248.9 569.7,250.6 568.1,252.7 568.3,254.4 567.3,256.7 565.2,256.4 563,256.3 561.3,257.2 559,256.7 558.1,254.4 556.8,251.9 556.5,249.5 556.1,247.1 554.8,245 553.7,242.9 552,241.3 550.7,240 549.5,238.3 547.5,236.6 545.7,235 546.5,233.8 547.1,231.5 547.3,230 549,227.5 548.7,225.9 548.2,223.9 547.3,222.5 548.9,221.1 549.5,219.7 550.7,218.3 552,216.2 553.6,215.6 554.8,213.3 556.1,211.5 557.6,209.6 559,208.3 559.8,205.8 562.3,205 563.1,203 564.8,201.7 564.1,199.7 564,197.5 566.6,197.4 568.6,196.8 570.7,196.7 572.5,197.1 574.2,197.1 576.5,196.7"/>
<polygon class="p" fill="#1C1F82" points="528.2,221.7 530.3,222 532.5,222.6 534,223.3 536.2,224 538.2,225.8 539.8,227.2 541.5,228 542.3,229.2 545.2,229.4 547.3,230 547.1,231.5 546.5,233.8 545.7,235 544.6,236.8 542.3,238.3 541.4,239.9 540.9,241.6 540.7,243.3 540.7,245.7 539.1,247.8 538.9,249.9 538,251.9 538.1,254.4 537.3,256.7 534.6,256.6 532.5,257 530,256.9 527.5,256.6 525.5,256.5 522.9,256.2 520.7,256.7 521.3,254.1 521.2,251.6 521.4,249.3 521.5,246.7 521.3,244.8 522.5,243 522.3,240.8 523.9,238.7 524.8,236.7 525.5,234.2 525.7,231.7 526.9,229.7 527.3,227.4 528.2,225 528.3,223.4"/>
<polygon class="p" fill="#37A7B8" points="596.5,225.8 598,228.3 600.1,228.2 602.6,228.7 604.8,228.9 607.3,228.3 607.1,230.9 607.7,233 607.5,235.3 607,237.2 607.7,239.6 607,241.9 607.5,244 607.3,246.7 604.7,245.8 602.5,246 600.4,245.6 598,245 596.6,242.8 594.8,241.7 594.7,239.8 594,237.6 594,235 595,233.8 595.2,231.7 595.7,230 596.3,227.6"/>
<polygon class="p" fill="#93D4A7" points="452.3,245.8 454.3,244.7 455.9,243.3 457.3,241.7 459.1,241.1 460.2,239.1 462.3,238.3 464.3,237.6 465.8,236.2 467.3,235.8 469.9,236.1 472.3,236.7 474.9,237.2 477.3,237.5 479.8,238 481.7,238.5 484,238.3 485.5,238.8 487.4,239.7 489,240.8 491.4,240.8 494,241.7 495.5,240.7 497.3,240 498.9,240.2 500.7,241.7 502.2,241.6 504,240.8 505.2,243.2 505.5,245.6 506.6,247.5 507.3,250 508.5,251.3 510.1,253.6 511.1,254.5 512.3,256.7 447.3,256.7 447.6,254.6 447.3,251.8 446.8,250.1 447.3,247.5 448.9,247.3 450.6,245.7"/>
<polygon class="p" fill="#FFFFBF" points="409.8,248.3 411.5,248 413.8,248.3 415.7,247.5 417.3,247 419.2,245.7 420.7,245.8 423.2,245 424.7,245 427.3,245 429.2,245.4 432.1,245.4 434,245 436.4,245.4 438.2,246.2 440.7,246.7 442.8,247 445.1,247.3 447.3,247.5 450,246.8 452.3,246.2 454.5,246 457.3,246.7 459.8,245.8 462,245.3 464,245 466.2,244.3 468.5,244.8 469.9,244.5 472.3,244.2 474.5,244.3 477,244.8 479,245.8 479.9,248.3 481.5,250 481.5,252.3 482.5,254.1 482.3,256.7 407.3,256.7 407.4,254.4 408.5,252.1 409,249.9"/>
</g>
<g clip-path="url(#c4)">
<polygon class="p" fill="#FFFFBF" points="267.5,280.8 266.1,282.7 264.3,283.3 263.3,285 261.6,286.6 260.2,288.1 258.3,289.2 256.3,290.6 254.6,291.5 253.3,292.5 251.4,293.1 250.1,294.2 248.3,295.8 245.8,294.7 245,296.7 243.6,297.8 241.6,298.7 240.8,300 239.8,301.7 238.3,303.3 238.1,305.6 237.5,307.5 235.8,309.1 234.7,310.5 233.3,311.7 231.4,313.2 229.6,314.3 228.3,315.8 227.1,317 225.8,318 225.4,320.1 225.8,321.7 225.9,323.2 227.1,325 227.5,326.7 227.8,328.3 229.2,330.4 230,331.7 230.4,333.5 231,335.6 231.7,337.5 232.4,339.2 232.4,341.1 233.3,343.3 233,345.3 231.7,347.2 229.7,348.3 229.3,350 228.7,351.9 227.5,353.3 226.6,354.5 226.5,357.1 225.8,358.3 224.9,360.3 225,362.3 224.2,364.2 223.6,366.2 223.5,368 222.5,369.2 221.7,371.5 221.7,373.3 221.7,416.7 358.3,416.7 358.3,266.7 355.8,266.4 353.5,265.9 351,265.9 348,266.5 345.5,266.5 343.4,265.3 340.7,266.1 338.5,265.6 335.7,264.9 333.6,264.8 330.8,265 328.8,265.3 327.1,265.7 325,266.7 322.4,267 320,268 318.3,268.3 316.5,269.8 315,270.8 312.6,271.1 311.1,271.9 309.2,272.5 307.4,273.6 305.4,273.8 304.2,275 303.2,276.2 301.8,277.8 300.8,279.2 298.3,280.3 296.7,281.7 294.6,282.4 292.5,284.2 291.2,286.3 289.2,287.5 288.4,289 287.8,290.8 286.7,292.5 285,292.9 283.3,294.4 281.7,295.8 279.9,296.9 279.3,298.2 277.5,299.2 275.5,299.7 273.3,300.8 273.1,299.1 272.2,297 272.5,295 271.9,292.9 270,290.8 270.4,289 271.8,287.7 272.5,285.8 271.4,284.5 270.8,282.5 269.5,281.8"/>
<polygon class="p" fill="#93D4A7" points="280.8,243.3 320,243.3 319.5,245.9 319.9,247.4 320,250 321.8,251.1 323.3,253.3 325.2,254.7 327.5,255 329.5,255.8 329.9,257.4 331.7,258.3 334,259.3 335.3,260.8 334.2,262.9 332.5,264.2 330,265.8 327.4,266.4 325,266.7 322.4,267 320,268 318.3,268.3 316.5,269.8 315,270.8 312.6,271.1 311.1,271.9 309.2,272.5 307.4,273.6 305.4,273.8 304.2,275 303.2,276.2 301.8,277.8 300.8,279.2 298.3,280.3 296.7,281.7 294.6,282.4 292.5,284.2 291.2,286.3 289.2,287.5 288.4,289 287.8,290.8 286.7,292.5 285,292.9 283.3,294.4 281.7,295.8 279.9,296.9 279.3,298.2 277.5,299.2 275.5,299.7 273.3,300.8 273.1,299.1 272.2,297 272.5,295 271.9,292.9 270,290.8 270.4,289 271.8,287.7 272.5,285.8 271.4,284.5 270.8,282.5 269.5,281.8 267.5,280.8 268.3,279.2 270,277.5 271.3,276 272,274 273.3,272.5 273.4,270.2 274.2,267.5 276,265.4 277.5,264.2 278.6,262.3 279.2,260 279.8,257.3 280,255 280.2,252.3 280.8,250.7 280.1,247.9 280.4,245.3"/>
<polyline class="l" points="280.8,259.2 283,258.2 285,257 285.5,254.7 286.3,253 287.7,251.1 289.7,249.2"/>
<polygon class="p" fill="#37A7B8" points="320,243.3 368.3,243.3 367.6,245.7 367.7,247.6 366.7,250 366.2,251.6 366,253.3 365,255 364.6,256.8 363.3,258.4 363.3,260 362.8,262.6 362.1,264.5 360.8,266.7 360,268.5 359.2,270.8 357.4,271.5 356,271.9 354.2,272.5 352,273.4 350,274.2 349.2,276.7 346.9,277 344.6,276.9 341.7,276.7 339.4,276.4 336.8,276.7 335,276.7 332.5,275 332.2,272.2 331.7,270 331.3,267.9 330.8,265.8 332.5,264.2 334.2,262.9 335.3,260.8 334,259.3 331.7,258.3 329.9,257.4 329.5,255.8 327.5,255 325.2,254.7 323.3,253.3 321.8,251.1 320,250 319.9,247.4 319.5,245.9"/>
<polygon class="p" fill="#93D4A7" points="368.3,243.3 370.7,243.4 373.2,243.2 375.8,243.9 378.6,243.7 381,243.3 383.3,243.3 383.3,246.2 383.5,248.5 382.7,251.3 383.9,253.3 383.7,256.4 383.5,258.4 383.8,261.3 383.5,263.9 383.2,266.4 383.7,269.5 383.3,271.7 381.1,271.9 378.6,271.6 376.6,271 374,271.3 371.8,270.8 368.9,271.4 366.7,270.8 364.4,271 361.9,270.9 359.2,270.8 360,268.5 360.8,266.7 362.1,264.5 362.8,262.6 363.3,260 363.3,258.4 364.6,256.8 365,255 366,253.3 366.2,251.6 366.7,250 367.7,247.6 367.6,245.7"/>
<polygon class="p" fill="#2569A8" points="340,285.8 342.8,285.2 345,285.3 347.4,286.1 349.5,285.8 351.7,286.7 354.1,285.4 356.7,285.3 359.2,285 361.7,285.7 363.3,284.2 363.9,281.9 365.8,280 366.6,278.2 366.6,276.2 367.5,275 368.3,272.5 369.9,272.3 372.1,272.4 374,271.7 376.3,272.1 378.9,272 381.3,272.1 383.3,271.7 383.3,356.7 381.1,356.2 378.8,355.2 376.5,354.3 374,354.2 372.4,355.5 370.1,356.4 368.3,356.7 366.7,356.4 364.8,355 363.3,354.2 362.5,351.8 362.5,349.2 361.8,347.1 360.8,345 361,343.3 362.9,341.7 363.3,340 361.3,339 360,338.3 357.9,338.6 356.4,338.3 354.2,339.2 352,338.4 349.2,338.3 349.6,335.7 350,333.3 351.3,331.9 351.3,329.7 352.5,328.3 353.7,326.5 355,324.4 355.8,321.7 355.6,319.5 356.7,317 356.7,315 356,313 356.2,311 356.3,308.4 355.8,306.7 355.3,304.2 354.8,302.2 354.2,300 353.8,297.4 353.3,295 351.8,294.2 349.1,294.7 347.5,293.7 344.9,293 343.3,291.7 341.7,290.8 340.8,289.2 340.1,287.7"/>
<polygon class="p" fill="#93D4A7" points="331.7,282.5 334.1,282.3 335.8,282.5 337.3,283.9 338.8,284.1 340,285.8 340.1,287.7 340.8,289.2 341.7,290.8 343.3,291.7 344.9,293 347.5,293.7 349.1,294.7 351.8,294.2 353.3,295 353.8,297.4 354.2,300 354.8,302.2 355.3,304.2 355.8,306.7 356.3,308.4 356.2,311 356,313 356.7,315 356.7,317 355.6,319.5 355.8,321.7 355,324.4 353.7,326.5 352.5,328.3 351.3,329.7 351.3,331.9 350,333.3 348,332.7 345.8,332.5 343.9,332.6 341.7,331.7 339.9,332.9 338.3,335 337,335.9 335,337 334.2,338.3 332.6,340 330.9,341.1 330,342.5 327.9,342.7 326.7,343.3 324.9,341.5 323.3,340.8 322,339.3 320.8,337.5 321.3,335.6 321.7,333.7 322.5,331.7 322.6,328.8 323.3,326.7 321.5,325.3 320,323.3 318.3,321.6 316.7,320.8 315.8,319.2 314.2,317.5 315.7,316.4 316.7,314.2 318.4,313.5 319.9,312.2 320.8,310.8 323.1,309.8 325,308.3 326.8,307.2 329.2,305.8 329.8,303.9 330.2,302.1 330.8,300 330.2,297.5 330.6,295.2 330,293.3 330.9,290.6 330.8,288.3 330.8,286.2 331.4,284.6"/>
<polygon class="p" fill="#FFFFFF" points="332.5,276.7 335,276.7 341.7,277.5 349.2,277.5 351.7,275 350,274.2 354.2,272.5 359.2,270.8 366.7,271.3 367.5,275 365.8,279.2 363.3,283.3 361.7,285.3 356.7,285 351.7,286.3 345,285 340,284.2 335.8,281.7 333,279.2"/>
<polygon class="p" fill="#37A7B8" points="348.3,335 348.8,336.3 349.2,338.3 352,338.4 354.2,339.2 356.4,338.3 357.9,338.6 360,338.3 361.3,339 363.3,340 362.9,341.7 361,343.3 360.8,345 361.8,347.1 362.5,349.2 361.4,351.1 359.2,352.5 357.1,353.1 354.2,353.3 353.2,355.3 351.7,356.7 351.5,359.1 350.9,361.4 350.8,363.3 351.1,365.4 350.8,367.8 350,370 348.7,372.1 347.5,374.2 348.2,376.2 348.4,379.1 349.2,380.8 349.6,382.9 350.8,385 349.7,385.9 348.3,387 346.1,386.5 344.2,385 343.9,383 343.1,382 342.5,380 342.8,377.9 343.8,376.5 344.2,374.2 342,374.4 339.2,374.2 337.4,374.8 335.7,374.9 334.2,375.8 331.7,374.2 331.9,372 331.5,369.7 331.9,367 331.7,365 333,363.1 333.3,360.8 335.1,360.2 337.5,360 339,358.9 340.8,358.3 340.7,355.9 340,353.3 340.2,351.3 341.5,350.4 341.7,348.3 342.8,346 344.2,344.2 345.6,342.3 346.7,340 347.3,338.1 347.8,336.7"/>
<polygon class="p" fill="#FFFFFF" points="341.7,331.7 345.8,332.5 348.3,335 346.7,340 344.2,344.2 341.7,348.3 340,353.3 340.8,358.3 337.5,360 333.3,360.8 331.7,365 330.8,370 328.3,375 325,379.2 321.7,380.3 320,377.5 321.7,372.5 324.2,366.7 325,360.8 327.5,355.8 329.2,350 330,342.5 334.2,338.3 338.3,335"/>
<polygon class="p" fill="#1C1F82" points="351.7,356.7 353.2,355.3 354.2,353.3 357.1,353.1 359.2,352.5 361.4,351.1 362.5,349.2 362.5,351.8 363.3,354.2 364.8,355 366.7,356.4 368.3,356.7 370.1,356.4 372.4,355.5 374,354.2 376.4,353.8 378.9,354.4 381.2,354.1 383.3,354.2 382.7,356.6 383.3,359.7 383.3,362.1 382.8,364.3 383,367.2 383.8,369.6 383,372.2 383.4,374.9 383.5,377.8 383.3,380 380.7,379.9 378.4,378.8 375.9,379.1 374,378.3 372.7,379.7 370.9,381.5 370,383.3 369.2,384.7 368,385.8 366.7,387.5 365,388.8 363.6,390.1 361.7,390.8 360,389.7 358.3,388.3 355.8,387 354.2,385.8 352.7,386 350.8,385 349.6,382.9 349.2,380.8 348.4,379.1 348.2,376.2 347.5,374.2 348.7,372.1 350,370 350.8,367.8 351.1,365.4 350.8,363.3 350.9,361.4 351.5,359.1"/>
<polygon class="p" fill="#93D4A7" points="374,378.3 376.6,378 379,378.4 380.8,378.3 383.3,378.3 383.3,416.7 381,416.4 378.9,416.3 376.1,416.5 373.8,416.4 372,416.3 369.6,416.3 367.2,417.2 365,416.7 364.9,414.7 365.1,412.1 365.8,410 366.6,408.7 367.7,407.2 368.3,405 368.1,403.1 367.4,401.2 366.7,400 367.7,398.6 368.1,397.1 368.3,395 367.8,393.2 367.8,390.8 366.7,388.3 367.5,386.5 369.2,385.1 370,383.3 370.9,381.5 372.7,379.7"/>
<polygon class="p" fill="#FFFFBF" points="366.7,388.3 367.8,390.8 367.8,393.2 368.3,395 368.1,397.1 367.7,398.6 366.7,400 367.4,401.2 368.1,403.1 368.3,405 367.7,407.2 366.6,408.7 365.8,410 365.5,412.4 364.5,414.4 364.2,416.7 362,417.3 360.1,416.9 357.5,416.7 357.7,414.2 358.6,411.9 358.3,410 357.8,407.6 357.4,405.6 357.5,403.3 357.5,400.8 357.3,398.8 356.7,396.7 357.7,394 359.2,392.5 361.7,390.8 363.8,390 365,389.5"/>
<polygon class="p" fill="#1C1F82" points="344.2,385 346.1,386.5 348.3,387 349.7,385.9 350.8,385 352.7,386 354.2,385.8 355.8,387 358.3,388.3 360,389.7 361.7,390.8 359.2,392.5 357.7,394 356.7,396.7 357.3,398.8 357.5,400.8 357.5,403.3 357.4,405.6 357.8,407.6 358.3,410 358.6,411.9 357.7,414.2 357.5,416.7 355.5,416.5 353.6,416.5 351.2,416.4 349.2,416.7 349.6,414.1 349.8,412 349.9,409.2 350,406.7 349.9,404.6 349.2,402.5 347,402.5 344.6,401.2 341.7,400.8 339.5,401.1 337.3,401.1 335,401.7 332.4,401.1 330,400.8 331.7,400.4 333.1,399.4 335,399.2 336.9,398.1 338.3,398 340,396.7 340.6,395.1 341.7,393.5 341.7,391.7 342.7,389.5 343.3,387.5"/>
<polygon class="p" fill="#37A7B8" points="330,400.8 332.4,401.1 335,401.7 337.3,401.1 339.5,401.1 341.7,400.8 344.6,401.2 347,402.5 349.2,402.5 349.9,404.6 350,406.7 349.9,409.2 349.8,412 349.6,414.1 349.2,416.7 346.6,417.1 344.1,417 341.5,416.2 338.8,416.7 337,416.3 334.6,416.6 332,417.1 329,417 326.9,416.6 324.6,416.8 321.7,416.7 321.9,414.6 322.5,412.1 323.3,410 324.4,408.3 325.4,406.5 325.8,405 327.4,403.6 328.8,402.1"/>
<polygon class="p" fill="#37A7B8" points="248.3,316.7 250.4,315.4 252.5,314.2 253.9,313.8 255.8,312.1 257.5,311.7 259.2,310.2 260.8,308.3 262.8,308.3 265,307.5 267.1,305.6 269.2,305 270.4,304.1 272.7,304.5 274.2,303.3 273.5,304.9 273.2,307 272.5,308.3 270.9,309.4 270,310.6 269.2,312.5 268.1,314.8 266.7,315.8 265.5,317.2 264.2,318.3 264,320.2 263.7,321.9 264.2,324.2 262.8,326.2 262,328.3 261.8,329.6 261.3,331.7 259.7,331.3 257.5,330.8 256.8,329.4 255.8,327.5 254.5,325.6 252.5,324.2 251.5,321.7 250,320 248.8,318.3"/>
<polygon class="p" fill="#37A7B8" points="233,345.3 234.6,346.6 235,348.3 236.3,349.1 237.5,350.8 239.4,351.5 240.8,351.3 243.1,352.2 245,352 246.7,354.2 245.8,356.5 245.3,358.3 244.2,359.8 243.8,361.8 243.3,363.3 242.3,365.9 240.8,367.5 239.7,369.8 238.3,371.7 237.1,373 235,372.8 233.3,374.2 231.7,374.5 230,375.3 228.3,375.8 225.8,376.7 225.6,375 224.2,373.3 223.2,371.6 222.5,369.2 223.5,368 223.6,366.2 224.2,364.2 225,362.3 224.9,360.3 225.8,358.3 226.5,357.1 226.6,354.5 227.5,353.3 228.7,351.9 229.3,350 229.7,348.3 231.7,347.2"/>
<polygon class="p" fill="#FFFFFF" points="233,345.3 235,344.7 237.5,348.3 240.8,349.7 246.7,350 248.7,351 243.3,352.3 239.2,351.7 235.8,349.7"/>
<polygon class="p" fill="#1C1F82" points="222,372.5 224.2,374.2 225.8,376.7 223.3,378.3 222.4,380.3 221.7,381.9 221.3,383.3 222.1,385.1 223.3,385.8 225.7,386.9 227.5,387.6 230,388.3 232.4,387.9 234.2,388.1 236.7,387.5 239.2,387.1 241.1,387.5 243.3,386.7 246,386 248.3,385.8 249.3,383.4 250,381.7 251.6,380.3 253,379.1 254.2,378.3 256.4,377.8 258.3,377.5 259.7,377.8 262.1,378.5 263.3,379.2 264.1,380.9 265.3,382.2 266.7,383.3 268.3,384.6 270.8,385.2 272.5,386.7 273.5,388.9 275,390 274,391.4 271.9,392.1 270.8,393.3 271.9,395.2 273.3,396.3 275.5,395.8 278.3,395.8 280,397.2 281.7,397.5 280.7,399 279.2,400 277.1,399.8 275.5,400.4 273.3,400.8 271.2,401.1 268.5,402.5 266.7,403.3 264.3,403.1 262.5,403.5 260.2,403.7 258.3,404.2 256.5,404.9 253.4,405 251.7,405.8 249.6,406.3 248.6,407.5 246.7,408.3 245.6,410.6 246.1,412.7 245.9,414.4 245,416.7 178.3,416.7 178.2,414.1 177.5,412.1 177.4,409.9 176.9,407.3 176.7,405 176.1,402.2 175.3,400 176,398.1 177.5,396.7 178.9,394.9 180.1,393.4 181.7,391.7 182.6,390.4 184.5,389 185.8,387.5 187.9,387.2 190.8,386.5 193.3,386.3 195.4,386.3 198.1,386.2 200,385.3 201.7,384.4 204.1,384.2 205.8,384.2 207.6,384.9 210,384.7 211.6,383.7 212.9,383 215,382.5 216.7,381.5 218,379.7 219.2,378.3 219.8,375.9 221,374.8"/>
<polyline class="l" points="205.8,384.2 205.4,386.4 204.2,388.3 202.7,388.8 201.1,390.3 200,391.7 198.3,392.9 197.5,394 195.8,395 194.1,396.5 193.1,398.5 191.7,400 190.5,401.3 189.7,403 188.3,405 187.2,406.2 184.5,406.5 183.3,407.5 181.5,408.7 180,410.8"/>
<polyline class="l" points="204.2,391.7 206.1,392.3 208.1,392.5 210,393.3 211.7,394.2 213.2,394.4 215,395 217.3,395.6 219.2,395.8"/>
<polyline class="l" points="215,383.3 215.8,385.2 216.2,386.4 217.5,388.3 217.9,390.8 218.4,393 219.2,395.8 220.1,397.6 220.5,398.9 220.8,400.8 221.1,402.8 221.7,405 221.4,407 220.2,409 219.2,410.8"/>
<polyline class="l" points="250,381.7 250.3,383.7 251,386.5 251.7,388.3 253.1,389.5 253.7,390.9 255,392.5 257.1,391.7 259,392.3 260.8,391.7 262.5,390.8 265,390 266.9,391.2 269.2,391.7 270.4,393.6 271.5,394.6 273.3,396.3"/>
<polyline class="l" points="237.5,307.5 239.3,309 240.8,310.8 242.5,312.7 244.2,314.2 246.5,315 248.3,316.7"/>
<polyline class="l" points="274.2,303.3 273.3,300.8"/>
<polyline class="l" points="261.3,331.7 259.5,331.7 257.5,331.7 257.1,333.4 255.8,335 254.8,336.8 254.8,338.5 254.2,340 253.1,341.6 252.9,343 252.5,345 251.8,347.8 251.7,350 249.9,350.7 248.3,351.3"/>
<polyline class="l" points="251.7,350 252.4,352.3 252,354.2 254,354.9 255.5,355.9 256.7,357.5 258.3,358 259.8,359.4 260.8,360.8 262.1,361.7 264.2,362.6 265.8,363.3 266.6,364.9 266.7,366.7 266.2,368.9 265,370 266.4,371 268.7,372.3 270,373.3 272,373.9 274.1,374.9 276.7,375 279,374 280.8,374 283.3,373.3 285.6,373.2 288,371.8 290,371.7 291.8,370.1 292.5,368.3 294.3,367.6 295.7,367.8 297.5,366.7 297.9,365.1 298.5,363.4 299.2,361.7 299.3,359 298.3,356.7 297.2,354.3 296.7,352.5 297.5,350 299.7,350.2 301,349.8 303.3,349.7 305.8,350.2 307.9,351.7 310,351.7 311.3,352.9 313.4,353.5 315,355 316.6,356 318.1,357.6 320,358.3 321.6,358.7 323.5,360.5 325,360.8"/>
<polyline class="l" points="330.8,291.7 329.1,292.1 326.7,292.5 325.1,290.6 323.3,290 321.8,289.2 319.6,287.7 318.3,286.7 316.2,287 314.5,286 312.5,286.3 310.9,286.1 308.4,286.5 306.7,285.8 305.2,287.9 303.3,289.2 301.3,290.1 299.2,291.7 298.2,294 296.7,295.8 296.7,297.9 297.5,300 294.6,300.2 292.5,299.7 291.5,301.8 290,303.3 290.7,305.7 290.8,308.3 289.9,310.2 288.3,312.5 289.1,314 289.1,316.3 289.2,318.3 287,320.1 285.8,321.7 284.2,323.3 282.5,324.2 281.2,325.1 279.2,325 278.9,326.7 279.6,328.9 280,330.8 281.4,331.6 283.2,331.9 285,332.5 286.9,332.9 289.2,332.5 291.7,333.3 294.2,332.4 296.7,332.5 298.5,333.7 300.4,333.9 301.7,335 303.3,337.5 305.4,338.1 307.6,337.9 310,338 311.9,338.9 314.5,338.3 316.7,339.2 318.9,338 320.8,337.5"/>
<polyline class="l" points="266.7,366.7 265.4,368.1 264.8,369.8 263.3,370.8 261.6,371.1 260,372 258.3,373.3 256.5,374.1 254.4,375.7 252.5,376.7 251.3,378 249.3,379.2 247.5,380 246,378.3 244.6,377.8 243.3,375.8 241.7,374.4 240,372.5"/>
<polyline class="l" points="292.5,368.3 294,370.4 295.8,371.7 296.1,373.1 297.3,374.8 297.5,376.7 297.9,379.1 299.2,380.8 297.5,382.5 295.8,383.3 294.5,384.6 293.3,386.7 294,389.1 294.2,390.8 292.2,391.7 290,391.7 287.7,390.7 285.8,390.8 286.2,393.2 285.8,395 284.2,396.2 283.3,397.5"/>
<polyline class="l" points="320,377.5 318.4,379 316.7,379.2 315.4,381.4 315,383.3 314.3,385.6 312.5,387.5 311.4,388.9 310,390.8 309.2,393.4 309.2,395.8 308.2,397.9 306.7,399.2 305.4,400.1 304.2,401.7 304.3,403.9 304.8,405.3 305.8,406.7 308,406.8 310,407.5 311.3,406.8 313.3,405.9 315,405.8 317.8,406.8 320,406.7 322.2,405.7 323.3,404.2 325.8,405"/>
<polyline class="l" points="279.2,400 280.2,401.9 280.7,402.9 280.8,405 282.3,406.7 283.3,408.3 286,408.7 288.3,409.2 291.2,409.1 293.3,408.3 295.4,407.9 296.6,406.3 298.3,405.8 300,404.5 302.2,402.4 304.2,401.7"/>
<polyline class="l" points="293.3,408.3 295.2,409 296.7,410.8"/>
<polyline class="l" points="281.7,406.7 280.4,408.8 280,410.8"/>
</g>
<g clip-path="url(#c5)">
<polygon class="p" fill="#37A7B8" points="478.7,368.3 480.2,367.9 482.5,367.7 484,366.7 485.4,366.4 487.2,366.2 489,365 490.8,364.9 493.2,365 493.4,366.8 494,369.2 494.6,371 496.5,372.5 498.6,373.5 500.7,375 502.9,374.1 505.7,374.2 508.1,374.7 510,374.2 512.3,374.2 514,375.8 516.5,376.7 518.2,378 519.8,380 520.1,381.7 520.3,383.9 520.7,385.3 522,384.2 523.2,383.3 524.2,381.4 524.8,379.2 527.1,378.4 528.7,377.3 530.7,376.7 533,376.8 535.7,377.5 537.3,378.5 538.9,379.4 540.7,380 542,381.2 544.3,381.7 545.7,382.5 546.7,383.7 548.4,384.3 549.8,385.8 552,386.5 553.9,387 555.7,388.3 557.9,388.7 559.9,388.9 561.5,389.2 562.3,386.6 562.5,384.2 562.3,381.7 563.1,380.3 564.5,378.7 565.7,377.5 567.2,376.5 569.3,375.7 570.7,375 573,373.5 574.8,372.5 576.5,371.6 578.5,370.5 579.8,369.2 580,366.8 581.2,365.2 581.5,363.3 582.2,361.3 583.3,360.1 584.8,358.3 584.5,356.5 583.2,355 582.5,353.8 582.5,351.4 581.5,350 580.1,347.9 578.2,346.7 576.7,345 574.9,344.9 573.2,343.3 571.8,341.5 571.2,340 570.7,338.3 572.4,337.3 573.9,335.7 574.8,334.2 575.1,332 576.5,330 577.3,328.3 579.9,329.2 582.7,329.1 584.8,330 586.6,332 588.7,333.4 590.7,334.2 592.9,334.1 596,335 598,335.8 600.2,335.6 602.2,336.4 605,336.1 607.3,336.7 607.3,416.7 484,416.7 484.6,414.8 484.2,412.1 483.9,409.6 485.1,408.1 484.4,405.7 484.8,403.3 485,401.1 484.6,398.5 484.8,396.7 483.4,395.8 481.7,393.9 480.7,392.5 478.7,393.1 476.5,393.3 475.6,391.3 475.7,389.5 474.8,387.5 474.1,385.6 474.1,383.8 474,381.7 475.2,379.5 475.7,377.5 477.1,375.9 478.2,373.3 478.5,370.7"/>
<polygon class="p" fill="#37A7B8" points="502.3,298.3 502.7,296.2 504,294.2 505.8,294.7 507.3,294.2 509.2,294.7 511.6,294.9 513.2,295.8 514.3,294.4 515.3,293.3 517.3,292.5 519.1,291.2 520.7,290 523.1,288.5 525.2,288.8 527.3,287.5 528.9,285.8 530,284.8 531.5,283.3 532,281.7 532.9,280 534,278.3 536.5,277.2 538.2,275.8 539.5,275 541.6,274.4 543.2,273.3 544,270.8 546.8,271 549,271.7 549.2,274.1 549.9,275.8 549.8,278.3 549.9,279.7 550.5,282.1 551.5,283.3 553.3,282.7 555.7,282.5 556.9,280.7 558.2,280 560.2,280.6 563,280.1 564.8,280.8 566.5,281.9 568.8,281.4 570.7,282.5 572.3,283.8 574,285.8 576.4,285.1 578.2,283.3 580,282.4 581.6,281.4 583.2,280.8 584.7,279.4 585.9,278.2 587.3,276.7 588.8,278 589.8,279.2 590.1,281.4 591.5,283.3 592.3,285.4 591.9,287.5 592.3,290 594,289.6 596.1,289.7 598,290 600.4,289.7 602.6,290.2 605.1,290.7 607.3,290.8 607.3,336.7 605,336.1 602.2,336.4 600.2,335.6 598,335.8 596,335 592.9,334.1 590.7,334.2 588.7,333.4 586.6,332 584.8,330 582.7,329.1 579.9,329.2 577.3,328.3 576.5,330 574.5,329.1 572.3,328.3 569.7,327.9 567.5,327.5 565.7,326.7 563.6,326.7 561.3,326.5 559,325.8 556.7,325.7 554.7,324.8 552.3,325 551,324.5 548.7,323.9 547.3,323.3 544.7,322.8 542.5,322 540.7,321.3 538.7,322.1 536.8,322.9 534.8,323.3 532.8,322.6 530.7,320.8 529.4,319.9 527.4,318.1 525.7,317.5 524.4,315.4 522.9,314.8 521.5,313.3 519.8,312.1 519.9,310.4 518.2,309.2 516.4,307.4 516.1,305.8 514,304.2 512.3,303 509.7,303.1 507.3,304.2 505.2,304.6 502.7,304.2 502.8,302.1 502.4,300.4"/>
<polygon class="p" fill="#2569A8" points="365.7,271.7 367.5,271.2 370.1,272.5 371.7,272.5 374,272 376.3,272.3 379.1,272 381.3,271.7 384,272.2 386.2,271.2 388.2,270.8 389.8,272.5 389.7,274.5 389.2,275.9 388.2,277.5 387.2,279.6 387.2,282.3 386.5,284.2 388.6,283.4 391.5,283.4 394,283.3 396.1,284 398.1,284.8 400.7,285.8 402.8,286.5 405.1,287.1 407.3,287.5 409.6,286.8 411.3,287 413.5,286 415.7,286.3 417.7,286.6 420,286.3 421.8,285.5 424,285.8 425,287.5 424.8,290.1 425.7,291.7 426.6,293.4 427.7,294.7 429,296.7 430.6,298.8 432.3,300 433.3,302 434.4,303.2 434.8,305 433.2,307.5 431.5,308.7 428.9,310.2 427.3,311.7 425.3,312.3 423.6,313.2 422.3,314.2 420.2,313.6 418,313.3 415.7,313.3 413.5,313 411.5,311.7 412.6,314 414,315.8 411.9,316.5 409.8,318.3 409,319.7 408.4,321.5 407.3,323.3 406,324.1 404,325 402.6,326.5 402.4,328.3 401.5,330 400,331.8 399,334.2 396.9,335.3 394.8,336.7 392.4,337.7 390.7,338.3 389.5,339.7 387.7,340.6 385.7,341.7 384,343.3 381.9,344.5 381.1,346.1 379.5,347.2 377.3,348.3 374.4,348.9 373.1,350.6 370.5,351.6 368.3,352.6 365.7,353.3"/>
<polygon class="p" fill="#2569A8" points="388.2,277.5 387.2,279.6 387.2,282.3 386.5,284.2 388.6,283.4 391.5,283.4 394,283.3 396.1,284 398.1,284.8 400.7,285.8 402.8,286.5 405.1,287.1 407.3,287.5 409.6,286.8 411.3,287 413.5,286 415.7,286.3 417.7,286.6 420,286.3 421.8,285.5 424,285.8 426.1,287 428.2,288 430.7,289.2 432.8,289.2 435.3,289.2 437.3,290 440.1,289.7 442.2,289.9 444.8,289.2 446.5,287.4 447.3,285.8 447.3,283.6 448.2,280.8 447.2,279.1 445.7,277.5 444.8,275 442.7,276.4 440.7,277.5 439.2,276.6 438.5,274.5 437.3,273.3 435.1,272.4 434,270.8 432.3,270 430.2,270.3 427.8,269 425.7,269.2 423.5,268 420.9,267.7 419,266.7 417.1,266 414.9,264.9 413.2,263.3 412.7,260.3 410.8,261.7 409.8,263 408.2,264.7 407.3,266.7 407,268.4 405.8,270.5 404.8,272.5 402.8,272.5 400.9,271.9 399,271.7 397,271.4 394.7,270.8 392.3,270.8 389.8,272.5 389.7,274.5 389.2,275.9"/>
<polygon class="p" fill="#93D4A7" points="365.7,243.3 367.8,243.1 371.1,242.9 372.9,243.4 375.5,243.3 378.4,243 380.3,243.4 383,243.6 385.7,243.3 385.9,245.3 386.7,247.7 386.5,250 386.6,252.1 386,254.1 385.7,256.7 385.8,258.6 385.4,260.9 384.2,263.1 384,265 385.2,266.5 385.7,268.3 387.1,269.2 388.2,270.8 386.2,272 384,272.5 381.8,272.5 378.9,272.5 376.3,272.8 374,272.5 371.8,272.7 370,272.5 367.5,273 365.7,272.5 365.7,270.4 365.6,268 365.3,265.1 365.5,263 365.7,260.1 365.2,258.2 365.3,255.7 365.9,253.4 366,250.9 366,248.4 366,245.7"/>
<polygon class="p" fill="#93D4A7" points="385.7,243.3 388,243.6 390.8,243.5 392.8,242.8 395.4,243.4 398.2,242.8 400.4,243.8 402.4,243.4 404.8,243.4 407.7,242.9 410.1,243.9 412.3,243.3 411.7,245.3 411.9,247.5 412.3,250 413,252.3 412.9,254.8 412,257.9 412.7,260 411.1,261.1 409.8,263 408.2,264.7 407.3,266.7 407,268.4 405.8,270.5 404.8,272.5 402.8,272.5 400.9,271.9 399,271.7 397,271.4 394.7,270.8 392.3,270.8 390.6,270.8 388.2,270.8 387.1,269.2 385.7,268.3 385.2,266.5 384,265 384.2,263.1 385.4,260.9 385.8,258.6 385.7,256.7 386,254.1 386.6,252.1 386.5,250 386.7,247.7 385.9,245.3"/>
<polygon class="p" fill="#FFFFBF" points="412.3,243.3 480.7,243.3 481.3,245.6 480.4,247.6 480.7,250 482.6,250.8 484,251.7 485.4,253.1 487.6,254 489,255 488.2,257.1 487.3,258.3 486,259.8 483.5,260.9 482.3,262.5 480.4,263.7 479.6,265.5 478.2,266.7 477.5,268.2 475.8,270.1 475.7,271.7 476.5,273.9 476.5,276.7 478.4,276.9 480.7,278.3 483,277.3 484.8,276.7 487.1,276.3 489,275 490.1,276.3 490.7,278.3 489.5,279.8 489,281.7 491,282.6 493.2,284.2 496,284.9 498.2,285 496.8,286 495.7,287.5 497.3,290 499.1,291.3 500.7,291.7 502.5,292.8 504,294.2 502.7,296.2 502.3,298.3 502.7,300.7 502.1,302.4 502.3,304.7 502.3,306.7 502.1,308.6 501.1,310.9 500.7,312.5 499.4,313.5 498.5,315.7 497.3,316.7 495.8,318.7 495.8,320.2 494.8,322.5 494.9,324.4 495.3,325.7 496.5,327.5 496.3,329.4 496,330.7 494.8,332.5 493.2,334.1 492.3,336.7 491.7,338.5 492.1,340.3 491.5,342.5 489.8,343.2 487.3,343.3 486.2,341.8 484,340.8 482,339.2 479.8,338.3 478,338.5 475.6,339.6 474,340.8 473.7,338.8 472.9,337.2 472.3,335 473.5,333.1 473.1,331.9 474,330 473.1,331.2 471.2,331.7 469.8,333.3 469.3,331 468,329.1 467.3,326.7 466.4,324.7 465.9,323.1 464.8,321.7 463.3,320.4 461.8,318.4 460.7,316.7 458.8,316.8 456.5,316.4 454.2,315.6 452.3,315.8 450.2,315.2 447.8,315.1 445.7,315 443.7,314.1 442.2,313 440.7,311.7 439.4,310.1 437,309.4 435.7,308.3 433.2,307.5 434.8,305 434.4,303.2 433.3,302 432.3,300 430.6,298.8 429,296.7 427.7,294.7 426.6,293.4 425.7,291.7 424.8,290.1 425,287.5 424,285.8 426.1,287 428.2,288 430.7,289.2 432.8,289.2 435.3,289.2 437.3,290 440.1,289.7 442.2,289.9 444.8,289.2 446.5,287.4 447.3,285.8 447.3,283.6 448.2,280.8 447.2,279.1 445.7,277.5 444.8,275 442.7,276.4 440.7,277.5 439.2,276.6 438.5,274.5 437.3,273.3 435.1,272.4 434,270.8 432.3,270 430.2,270.3 427.8,269 425.7,269.2 423.5,268 420.9,267.7 419,266.7 417.1,266 414.9,264.9 413.2,263.3 412.7,261.6 412.7,260 412,257.9 412.9,254.8 413,252.3 412.3,250 411.9,247.5 411.7,245.3"/>
<polyline class="l" points="469,308.3 470.2,309.9 472.8,310.4 474,311.7 475.1,314.2 476.3,316.5 477.3,318.3 476.6,320.3 476.6,322.5 476.5,324.2 475.9,325.9 474.9,327.8 474,330 473.1,331.2 471.2,331.7 469.8,333.3 469.3,331 468,329.1 467.3,326.7 466.5,324.3 466.9,322 466.5,320 466.6,317.9 467.2,315.8 467.3,313.3 468.2,311.4 468.9,310.3 469,308.3"/>
<polygon class="p" fill="#FFFFBF" points="489,255 490.4,256 492.2,256.5 494,257.5 496.6,258 498.2,258.1 500.7,258.3 502.5,260.3 504,261.7 504.6,264.1 505.7,265.8 505.4,267.9 504.4,269.9 503.2,271.7 501.2,272.3 499,273.3 497.1,273.8 495.9,274.7 494,275 491.7,274.9 489,275 487.1,276.3 484.8,276.7 483,277.3 480.7,278.3 478.4,276.9 476.5,276.7 476.5,273.9 475.7,271.7 475.8,270.1 477.5,268.2 478.2,266.7 479.6,265.5 480.4,263.7 482.3,262.5 483.5,260.9 486,259.8 487.3,258.3 488.2,257.1"/>
<polygon class="p" fill="#93D4A7" points="480.7,243.3 512.3,243.3 511.3,245.7 510.1,246.9 509.7,249.7 508.3,251.4 507.3,253.3 505.6,255.3 504,256.7 502.8,257.8 500.7,258.3 498.2,258.1 496.6,258 494,257.5 492.2,256.5 490.4,256 489,255 487.6,254 485.4,253.1 484,251.7 482.6,250.8 480.7,250 480.4,247.6 481.3,245.6"/>
<polygon class="p" fill="#FFFFBF" points="507.3,253.3 508.3,251.4 509.7,249.7 510.1,246.9 511.3,245.7 512.3,243.3 514.7,243.3 517.4,242.9 519.5,243.3 521.4,243 524,243.3 523.6,245.3 522.3,247.8 521.6,249.6 520.7,251.7 518.5,252.3 516.5,253.1 514,253.3 511.6,253.2 509.6,253.9"/>
<polygon class="p" fill="#93D4A7" points="500.7,258.3 502.8,257.8 504,256.7 505.6,255.3 507.3,253.3 509.6,253.9 511.6,253.2 514,253.3 516.5,253.1 518.5,252.3 520.7,251.7 522.8,251.9 524.3,252.8 525.7,253.3 526.5,254.8 527.2,256.5 528.2,258.3 529.5,260.3 530.7,261.7 532.8,262.4 534.1,262.7 535.7,264.2 537.1,265.2 539.1,266.1 540.7,266.7 541.6,268.6 542.3,269.5 544,270.8 543.2,273.3 541.6,274.4 539.5,275 538.2,275.8 536.5,277.2 534,278.3 532.9,280 532,281.7 531.5,283.3 530,284.8 528.9,285.8 527.3,287.5 525.2,288.8 523.1,288.5 520.7,290 519.1,291.2 517.3,292.5 515.3,293.3 514.3,294.4 513.2,295.8 511.6,294.9 509.2,294.7 507.3,294.2 505.8,294.7 504,294.2 502.5,292.8 500.7,291.7 499.1,291.3 497.3,290 495.7,287.5 496.8,286 498.2,285 496,284.9 493.2,284.2 491,282.6 489,281.7 489.5,279.8 490.7,278.3 490.1,276.3 489,275 491.7,274.9 494,275 495.9,274.7 497.1,273.8 499,273.3 501.2,272.3 503.2,271.7 504.4,269.9 505.4,267.9 505.7,265.8 504.6,264.1 504,261.7 502.5,260.3"/>
<polygon class="p" fill="#2569A8" points="528.2,258.3 527.2,256.5 526.5,254.8 525.7,253.3 524.9,251.1 524.3,248.4 523.9,246 524,243.3 607.3,243.3 607.3,290.8 605.1,290.7 602.6,290.2 600.4,289.7 598,290 596.1,289.7 594,289.6 592.3,290 591.9,287.5 592.3,285.4 591.5,283.3 590.1,281.4 589.8,279.2 588.8,278 587.3,276.7 585.9,278.2 584.7,279.4 583.2,280.8 581.6,281.4 580,282.4 578.2,283.3 576.4,285.1 574,285.8 572.3,283.8 570.7,282.5 568.8,281.4 566.5,281.9 564.8,280.8 563,280.1 560.2,280.6 558.2,280 556.9,280.7 555.7,282.5 553.3,282.7 551.5,283.3 550.5,282.1 549.9,279.7 549.8,278.3 549.9,275.8 549.2,274.1 549,271.7 546.8,271 544,270.8 542.3,269.5 541.6,268.6 540.7,266.7 539.1,266.1 537.1,265.2 535.7,264.2 534.1,262.7 532.8,262.4 530.7,261.7 529.5,260.3"/>
<polygon class="p" fill="#1C1F82" points="520.7,243.3 522.7,243.5 525.1,243.5 527.4,243.1 529.8,243 531.8,243.8 534,243.3 533.2,245.1 532.9,247.1 533,249.6 532.3,251.7 530.6,252.4 529,253.1 527.3,253.3 525.2,252.9 522.9,252 521.5,250.8 521.4,248.5 520.4,245.5"/>
<polygon class="p" fill="#1C1F82" points="559,243.3 561,242.8 564,243.6 565.8,242.8 568.1,243.8 570.7,243.3 570.1,245.8 569.1,247.3 567.9,249.6 567.3,251.7 566.2,253.8 564.2,255.5 562.3,257.5 560.5,256.4 559.8,255 559.6,253 559.1,250.5 559.5,247.6 558.9,245.8"/>
<polygon class="p" fill="#FFFFFF" points="502.7,304.2 507.3,304.2 512.3,303 514,304.2 518.2,309.2 521.5,313.3 525.7,317.5 530.7,320.8 534.8,323.3 540.7,321.3 547.3,323.3 552.3,325 559,325.8 565.7,326.7 572.3,328.3 576.5,330 574.8,334.2 570.7,338.3 565.7,335 559,332.5 554.8,334.2 550.7,338.3 547.3,343.3 543.2,348.3 539.8,351.7 538.2,349.2 534.8,352 530.7,350 525.7,347.5 520.7,345.8 515.7,345 510.7,343.3 506.5,342.5 503.2,340 505.7,335.8 507.3,331.7 504,329.2 499.8,328.3 497.3,327.5 494.8,322.5 497.3,316.7 500.7,312.5 502.3,306.7"/>
<polyline fill="none" stroke="#EBEBEB" stroke-width="2.6" points="523.8,318 523.8,347"/>
<polygon class="p" fill="#93D4A7" points="496.5,327.5 498.4,328.3 499.8,328.3 502,329.3 504,329.2 505.9,330.6 507.3,331.7 506.3,333.4 505.7,335.8 504.4,338.3 503.2,340 505.1,340.9 506.5,342.5 508.8,342.7 510.7,343.3 512.1,343.8 514.2,344.3 515.7,345 518.3,345.8 520.7,345.8 522.8,346.1 523.7,347.3 525.7,347.5 527.4,348.2 528.8,348.9 530.7,350 533,350.9 534.8,352 536.5,350.9 538.2,349.2 539.8,351.7 541.7,349.8 543.2,348.3 544.9,346.4 545.9,344.9 547.3,343.3 548.2,341.7 549.8,340 550.7,338.3 552.3,336.8 553.1,335.1 554.8,334.2 557,333 559,332.5 561.2,333.5 563.4,333.5 565.7,335 567,336.2 569.6,336.9 570.7,338.3 571.2,340 571.8,341.5 573.2,343.3 574.9,344.9 576.7,345 578.2,346.7 580.1,347.9 581.5,350 582.5,351.4 582.5,353.8 583.2,355 584.5,356.5 584.8,358.3 583.3,360.1 582.2,361.3 581.5,363.3 581.2,365.2 580,366.8 579.8,369.2 578.5,370.5 576.5,371.6 574.8,372.5 573,373.5 570.7,375 569.3,375.7 567.2,376.5 565.7,377.5 564.5,378.7 563.1,380.3 562.3,381.7 562.5,384.2 562.3,386.6 561.5,389.2 559.9,388.9 557.9,388.7 555.7,388.3 553.9,387 552,386.5 549.8,385.8 548.4,384.3 546.7,383.7 545.7,382.5 544.3,381.7 542,381.2 540.7,380 538.9,379.4 537.3,378.5 535.7,377.5 533,376.8 530.7,376.7 528.7,377.3 527.1,378.4 524.8,379.2 524.2,381.4 523.2,383.3 522,384.2 520.7,385.3 520.3,383.9 520.1,381.7 519.8,380 518.2,378 516.5,376.7 514,375.8 512.3,374.2 510,374.2 508.1,374.7 505.7,374.2 502.9,374.1 500.7,375 498.6,373.5 496.5,372.5 494.6,371 494,369.2 493.4,366.8 493.2,365 490.8,364.9 489,365 487.2,366.2 485.4,366.4 484,366.7 482.5,367.7 480.2,367.9 478.7,368.3 478.5,365.9 477.3,363.3 476.3,361.1 475.7,359.2 477.2,358.1 478.2,355.8 479.7,354.4 482.1,354 484,352.5 484.6,350.1 486,348.3 485.9,346.1 484.8,344.2 487.3,343.3 489.8,343.2 491.5,342.5 492.1,340.3 491.7,338.5 492.3,336.7 493.2,334.1 494.8,332.5 496,330.7 496.3,329.4"/>
<polygon class="p" fill="#93D4A7" points="411.5,311.7 413.5,313 415.7,313.3 418,313.3 420.2,313.6 422.3,314.2 423.6,313.2 425.3,312.3 427.3,311.7 428.9,310.2 431.5,308.7 433.2,307.5 435.7,308.3 437,309.4 439.4,310.1 440.7,311.7 442.2,313 443.7,314.1 445.7,315 447.8,315.1 450.2,315.2 452.3,315.8 454.2,315.6 456.5,316.4 458.8,316.8 460.7,316.7 461.8,318.4 463.3,320.4 464.8,321.7 465.9,323.1 466.4,324.7 467.3,326.7 468,329.1 469.3,331 469.8,333.3 471.2,331.7 473.1,331.2 474,330 473.1,331.9 473.5,333.1 472.3,335 472.9,337.2 473.7,338.8 474,340.8 475.6,339.6 478,338.5 479.8,338.3 482,339.2 484,340.8 486.2,341.8 487.3,343.3 484.8,344.2 485.9,346.1 486,348.3 484.6,350.1 484,352.5 482.1,354 479.7,354.4 478.2,355.8 477.2,358.1 475.7,359.2 474.9,357.8 473.6,356.4 472.3,355 470.4,353.5 469,352.5 467.6,351.3 465.7,350 465.1,348.3 464,346.7 462,345.9 459.4,346.3 457.3,345.8 455.4,345.2 452.9,345.1 450.7,345.3 449.3,346.2 447.3,347.5 445.5,349 444,350 442,350.1 440.3,351.4 438.2,351.7 436.5,350 436.2,347.4 436.3,345.2 437,343.3 435.5,341.7 434.8,340 433,339.5 430.7,338.1 429,337.5 427.7,335.8 426.6,334.3 424.8,333.3 423.8,331.4 423.3,330 423.2,328.3 422.3,326.5 420.7,324.2 419.2,322.6 418.2,320 416.8,318.5 415.6,317.5 414.8,315.8 413.4,315 412.6,312.9"/>
<polygon class="p" fill="#2569A8" points="414,315.8 414.8,315.8 415.6,317.5 416.8,318.5 418.2,320 419.2,322.6 420.7,324.2 422.3,326.5 423.2,328.3 423.3,330 423.8,331.4 424.8,333.3 426.6,334.3 427.7,335.8 429,337.5 430.7,338.1 433,339.5 434.8,340 435.5,341.7 437,343.3 436.3,345.2 436.2,347.4 436.5,350 434.3,350.9 433,351.1 430.7,350.8 429.4,351.6 428.2,353.3 426.5,354.2 426.4,355.9 425.4,357.8 424.8,359.2 425.6,361 426,363.1 426.5,365 427.3,366.7 426.7,368.9 426.9,370.4 426.5,372.5 424.5,373.8 422.3,374.2 421,374.9 419,374.8 417.3,375.8 415.5,376.3 413.8,377.2 412.3,377.5 410.2,377.8 408.8,378.4 407.3,379.2 405,379.6 402.3,380 400.3,379.7 399.1,379.4 397.3,378.3 395.7,377.6 393.6,376.3 392.3,375 394.1,373.1 394.8,370.8 396.7,369.5 399,369.2 400.2,367 401.5,365 402.9,364.4 404,362.5 403.8,360.4 404,358.6 403.2,356.7 403.2,354.4 402.9,351.8 402.3,350 401.8,348.4 400,346.3 399,345 397.5,344.1 395.7,342.5 394,340 392.8,338.9 390.7,338.3 392.4,337.7 394.8,336.7 396.9,335.3 399,334.2 400,331.8 401.5,330 402.4,328.3 402.6,326.5 404,325 406,324.1 407.3,323.3 408.4,321.5 409,319.7 409.8,318.3 411.9,316.5"/>
<polygon class="p" fill="#1C1F82" points="390.7,338.3 392.8,338.9 394,340 393.3,341.6 392.7,343.5 391.5,345 389.9,347.4 389.9,349.4 388.2,351.7 386.9,354 386,356.2 384.8,358.3 383.8,360.2 382.7,363.2 381.5,365 380.9,367.3 379.6,369.5 378.2,371.7 376.9,373.6 376.4,375.7 375.7,378.3 373.3,379.4 371.9,380.3 369.6,381.3 367.6,382 365.7,383.3 365.7,353.3 368.3,352.6 370.5,351.6 373.1,350.6 374.4,348.9 377.3,348.3 379.5,347.2 381.1,346.1 381.9,344.5 384,343.3 385.7,341.7 387.7,340.6 389.5,339.7"/>
<polygon class="p" fill="#93D4A7" points="394,340 395.7,342.5 397.5,344.1 399,345 400,346.3 401.8,348.4 402.3,350 402.9,351.8 403.2,354.4 403.2,356.7 404,358.6 403.8,360.4 404,362.5 402.9,364.4 401.5,365 400.2,367 399,369.2 396.7,369.5 394.8,370.8 394.1,373.1 392.3,375 390.3,375.6 389,376.7 387.3,377.1 384.8,377.5 383.8,379.9 382.3,381.7 381.3,383.5 380.7,385.8 382,386.8 383.8,387.3 385.7,387.5 387.9,388.5 389,390 386.9,390.8 384.5,391.7 382.3,391.7 380.6,392.3 378.4,392.3 375.8,392.3 374,392.5 371.7,392.7 370.2,393.2 368.1,393.2 365.7,393.3 365.9,391.2 365.7,388.6 366,386.2 365.7,383.3 367.6,382 369.6,381.3 371.9,380.3 373.3,379.4 375.7,378.3 376.4,375.7 376.9,373.6 378.2,371.7 379.6,369.5 380.9,367.3 381.5,365 382.7,363.2 383.8,360.2 384.8,358.3 386,356.2 386.9,354 388.2,351.7 389.9,349.4 389.9,347.4 391.5,345 392.7,343.5 393.3,341.6"/>
<polygon class="p" fill="#37A7B8" points="392.3,375 393.6,376.3 395.7,377.6 397.3,378.3 399.1,379.4 400.3,379.7 402.3,380 405,379.6 407.3,379.2 408.8,378.4 410.2,377.8 412.3,377.5 413.8,377.2 415.5,376.3 417.3,375.8 419,374.8 421,374.9 422.3,374.2 424.5,373.8 426.5,372.5 427.1,374.2 426.5,376.1 427,378.3 427.3,380.6 428.2,383.3 430.1,382.4 431.5,381.7 433.2,380.4 434.3,378.5 435.7,377.5 437.8,377.1 439.8,376.7 441.2,377.3 442.3,379.2 443.7,381 444.8,383.3 445.7,384.7 446.8,386.7 447.3,388.3 449.2,389.6 450.7,391.7 450.6,393.4 449.2,394.5 449,396.7 447.4,397.5 445.7,399.2 442.9,400.1 440.7,400 438.5,399.3 435.9,398.7 434,398.3 432.2,397.6 429.3,397 427.3,396.7 425.9,398.5 424,400 423.6,402.2 423.2,404.2 424.8,404.9 426.1,406.5 427.3,407.5 429,408.3 430.7,409.4 432.2,409.7 434,410 436.2,409.6 438.6,410.4 440.7,410 442.9,409.7 445,409.4 447.3,408.3 448.7,407.6 450.6,407.1 452.3,406.7 453.7,405.1 455.7,404.2 456.6,406.5 457.3,408.3 456.5,410 456.7,412.3 455.8,414.7 455.7,416.7 400.7,416.7 402.2,414.4 402.5,412.6 403.3,410.8 404,408.3 405.2,406.5 406.4,404.7 408.2,403.3 407,401.6 405.7,400 403,399.1 400.7,399.2 399.4,398.2 397.8,396.7 396.5,395.8 394.1,394.9 392.3,393.3 390.8,391.9 389,390 387.9,388.5 385.7,387.5 383.8,387.3 382,386.8 380.7,385.8 381.3,383.5 382.3,381.7 383.8,379.9 384.8,377.5 387.3,377.1 389,376.7 390.3,375.6"/>
<polygon class="p" fill="#93D4A7" points="365.7,392.5 367.4,392.8 370.1,392.8 371.9,392.1 374,392.5 375.8,392.3 378.4,392.3 380.6,392.3 382.3,391.7 384.5,391.7 386.9,390.8 389,390 390.8,391.9 392.3,393.3 394.1,394.9 396.5,395.8 397.8,396.7 399.4,398.2 400.7,399.2 403,399.1 405.7,400 407,401.6 408.2,403.3 406.4,404.7 405.2,406.5 404,408.3 403.3,410.8 402.5,412.6 402.2,414.4 400.7,416.7 365.7,416.7 365.1,414.5 365.9,411.6 366,409.2 365.7,407.2 366.1,404.2 365.8,402.2 365.2,400.1 365.4,397.2 365.5,394.8"/>
<polygon class="p" fill="#FFFFBF" points="436.5,350 438.2,351.7 440.3,351.4 442,350.1 444,350 445.5,349 447.3,347.5 449.3,346.2 450.7,345.3 452.9,345.1 455.4,345.2 457.3,345.8 459.4,346.3 462,345.9 464,346.7 465.1,348.3 465.7,350 467.6,351.3 469,352.5 470.4,353.5 472.3,355 473.6,356.4 474.9,357.8 475.7,359.2 476.3,361.1 477.3,363.3 478.5,365.9 478.7,368.3 478.5,370.7 478.2,373.3 477.1,375.9 475.7,377.5 475.2,379.5 474,381.7 474.1,383.8 474.1,385.6 474.8,387.5 472.9,387.8 470.6,388.4 469,388.3 467.1,388.4 465.9,389.2 464,390 462.5,391.1 461.1,391.3 459,391.7 457.3,392.6 454.8,393.3 452.5,393 450.7,391.7 449.2,389.6 447.3,388.3 446.8,386.7 445.7,384.7 444.8,383.3 443.7,381 442.3,379.2 441.2,377.3 439.8,376.7 437.8,377.1 435.7,377.5 434.3,378.5 433.2,380.4 431.5,381.7 430.7,379.2 432.1,377.9 433.8,377.9 435.7,376.7 438,375.8 440.2,375 442.3,375 445.2,375.3 447.3,375.8 446.6,374 445.7,371.7 444.4,370 444.3,368.1 443.2,366.7 441.7,365 440.7,363.3 438,362.9 435.7,363.3 433.8,364 431.5,365 429.5,366.4 427.3,366.7 426.5,365 426,363.1 425.6,361 424.8,359.2 425.4,357.8 426.4,355.9 426.5,354.2 428.2,353.3 429.4,351.6 430.7,350.8 433,351.1 434.3,350.9"/>
<polygon class="p" fill="#2569A8" points="427.3,366.7 429.5,366.4 431.5,365 433.8,364 435.7,363.3 438,362.9 440.7,363.3 441.7,365 443.2,366.7 444.3,368.1 444.4,370 445.7,371.7 446.6,374 447.3,375.8 445.2,375.3 442.3,375 440.2,375 438,375.8 435.7,376.7 433.8,377.9 432.1,377.9 430.7,379.2 431.5,381.7 430.1,382.4 428.2,383.3 427.3,380.6 427,378.3 426.8,376.7 427.2,374.4 427.3,372.5 427.6,370.7 427.2,368.3"/>
<polygon class="p" fill="#93D4A7" points="450.7,391.7 452.5,393 454.8,393.3 457.3,392.6 459,391.7 461.1,391.3 462.5,391.1 464,390 465.9,389.2 467.1,388.4 469,388.3 470.6,388.4 472.9,387.8 474.8,387.5 474.7,389.6 475.7,391.7 474.2,393 473.4,395.2 472.3,396.7 471.2,398.2 469.8,399.2 469,400.8 467.1,402.5 464.8,403.3 463,401.9 462.3,400 459.6,399.5 457.3,400 456.1,402.4 455.7,404.2 453.7,405.1 452.3,406.7 450.6,407.1 448.7,407.6 447.3,408.3 445,409.4 442.9,409.7 440.7,410 438.6,410.4 436.2,409.6 434,410 432.2,409.7 430.7,409.4 429,408.3 427.3,407.5 426.1,406.5 424.8,404.9 423.2,404.2 423.6,402.2 424,400 425.9,398.5 427.3,396.7 429.3,397 432.2,397.6 434,398.3 435.9,398.7 438.5,399.3 440.7,400 442.9,400.1 445.7,399.2 447.4,397.5 449,396.7 449.2,394.5 450.6,393.4"/>
<polyline class="l" points="449,396.7 448.9,398.9 448.7,400.8"/>
<polygon class="p" fill="#2569A8" points="474.8,387.5 475.7,389.5 475.6,391.3 476.5,393.3 478.7,393.1 480.7,392.5 481.7,393.9 483.4,395.8 484.8,396.7 484.6,398.5 485,401.1 484.8,403.3 484.4,405.7 485.1,408.1 483.9,409.6 484.2,412.1 484.6,414.8 484,416.7 481.1,416.8 478.8,416.2 476.7,416.3 473.5,416.8 471.2,416.8 468.7,416.5 466.3,416.8 463.3,416.5 461.2,416.9 457.9,416.2 455.7,416.7 455.8,414.7 456.7,412.3 456.5,410 457.3,408.3 456.6,406.5 455.7,404.2 456.1,402.4 457.3,400 459.6,399.5 462.3,400 463,401.9 464.8,403.3 467.1,402.5 469,400.8 469.8,399.2 471.2,398.2 472.3,396.7 473.4,395.2 474.2,393 475.7,391.7 474.7,389.6"/>
<polyline class="l" points="579.8,369.2 579.1,371.4 579,374.2 578,376.6 576.5,378.3 575.4,380.7 574,382.5 575.5,383.3 577.5,384.7 579,385.8 581.5,386.3 584,386.7 585.5,385.9 587.2,384 589,383.3 590.7,382.5 592.4,382 594,380.8 596.4,380.7 599,380"/>
<polygon class="p" fill="#FFFFFF" points="513.2,410 517.3,407.5 522.3,406.7 527.3,404.2 532.3,403.3 536.5,405.8 540.7,405 545.7,404.2 550.7,406.7 553.2,416.7 512.3,416.7"/>
<polyline fill="none" stroke="#EBEBEB" stroke-width="2.6" points="523.5,404.7 523.5,416.7"/>
<polyline class="l" points="557,411 559.2,411 561.6,410 563.6,409.5 566.3,408.6 568.5,408.7 570.8,408.5 573.1,408.8 575.9,409.5 578,409.7 580.4,408.6 582.3,408.3 584.6,407.2 586.6,405.6 589,405 590.6,404.2 592.3,403.3 594,402.5 595.7,401.8 597.4,401.9 599,400.8"/>
</g>
<g clip-path="url(#c6)">
<polygon class="p" fill="#FFFFBF" points="193.3,427.5 195.1,426.1 196.4,425.3 198.3,424.2 198.2,422.6 199.2,420.8 200.9,419.7 203.3,419.2 205.1,418.8 206.9,418.1 208.3,417.5 211,417.4 213.3,416.7 215.5,415.7 217.1,415.6 219.2,415 221.7,414.2 224.4,413 226.7,413 229,413.1 231.5,413 233.3,413.7 235.2,412.7 237.8,412.8 240,411.7 241.4,411 243.6,410.7 245,410 245.2,408 244.8,405.9 245,403.3 383.3,403.3 383.3,526.7 250,526.7 250.2,524.6 250,522.5 249.1,521.1 248.1,519.6 246.7,518.3 245.2,516.9 244.1,515.6 243.3,514.2 241.6,513.1 240.2,511.4 238.3,510 236.7,509.3 235.3,507.7 233.3,506.7 231.5,506.3 229.9,504.8 228.3,504.2 226.7,502.5 225.3,501.7 223.3,500.8 222,499.1 221.7,496.7 220.8,494.7 219.1,494.4 218.3,492.5 217.7,491.1 217.3,489 216.7,487.5 214.9,486.1 213.3,485 213,483.4 211.4,482.1 210.8,480 209.7,477.9 209.2,475.8 208.1,474.4 206.7,472.5 204.6,472.5 202.4,473.2 200,473 197.5,473.3 195,473.3 192.5,474.2 191.1,476.1 189.2,476.7 187.5,474.2 186.2,473 185,470.8 184.1,468.7 183.3,466.7 181.1,465.2 180,463.3 181.6,461 183.3,460 185.8,458.3 186.6,456.3 186.7,454.2 188.1,452.6 189.2,450 190,448.1 190.8,445.8 191.8,443.2 193.3,441.7 193.7,439.4 194.2,437.5 194.7,435.4 195,433.3 194,431.8 194,429.7"/>
<polygon class="p" fill="#1C1F82" points="179.2,403.3 245,403.3 244.8,405.9 245.2,408 245,410 243.6,410.7 241.4,411 240,411.7 237.8,412.8 235.2,412.7 233.3,413.7 231.5,413 229,413.1 226.7,413 224.4,413 221.7,414.2 219.2,415 217.1,415.6 215.5,415.7 213.3,416.7 211,417.4 208.3,417.5 206.9,418.1 205.1,418.8 203.3,419.2 200.9,419.7 199.2,420.8 198.2,422.6 198.3,424.2 196.4,425.3 195.1,426.1 193.3,427.5 190.8,425.8 188.8,423.9 187.2,422.5 185.8,420 184.6,417.8 183.2,416.1 181.7,414.2 180.4,411.7 179.2,410 179,407.4 179.4,405.5"/>
<polyline class="l" points="219.2,409.2 219.6,411.6 220,414.2"/>
<polygon fill="#4A4A4A" stroke="#4A4A4A" stroke-width="1" points="154.2,424.7 156.7,423.7 159.7,426.7 156.7,427.5"/>
<polygon fill="#4A4A4A" stroke="#4A4A4A" stroke-width="1" points="190,503.3 191.2,503.3 191.2,504.7 190,504.7"/>
<polygon class="p" fill="#93D4A7" points="189.2,476.7 191.1,476.1 192.5,474.2 195,473.3 197.5,473.3 200,473 202.4,473.2 204.6,472.5 206.7,472.5 208.1,474.4 209.2,475.8 209.7,477.9 210.8,480 211.4,482.1 213,483.4 213.3,485 214.9,486.1 216.7,487.5 217.3,489 217.7,491.1 218.3,492.5 219.1,494.4 220.8,494.7 221.7,496.7 222,499.1 223.3,500.8 225.3,501.7 226.7,502.5 228.3,504.2 229.9,504.8 231.5,506.3 233.3,506.7 235.3,507.7 236.7,509.3 238.3,510 240.2,511.4 241.6,513.1 243.3,514.2 244.1,515.6 245.2,516.9 246.7,518.3 248.1,519.6 249.1,521.1 250,522.5 251.9,522.9 253.3,523.3 254.1,525 255,526.7 255.2,529.1 256.3,530.2 256.7,532.5 257.6,534.5 258.8,535.5 260,537.5 258.3,538.7 256.7,540 254.7,541.3 253.3,543.3 252.4,545.3 250.8,546.7 250.8,549.6 250,551.7 248,551.9 246.3,552.6 245,553.3 242.1,553.4 240,554.2 238.5,555.9 236.7,556.7 234.3,557.5 231.7,557.5 230.5,559.1 230,561.7 230.5,564.2 230.8,566.7 230.7,569 230.3,571.9 230.1,574 230,576.7 227.4,577 225.3,576.9 222.6,576.4 220,576.7 218.3,575.3 217.3,573.5 215.7,571.3 214.2,570 212.6,568.2 210.8,567.5 209.5,566.5 208.1,564.9 206.7,564.2 205.1,563.5 203,562 201.7,560.8 200,560.6 198.2,559.2 195.8,559.2 193.9,558.3 192.4,557.6 190.8,557.5 189.2,556.8 187.1,555.3 185.8,554.2 184.4,552.9 183,551.6 180.8,550.8 179.1,551 177.5,552 175.8,550 175.2,548.3 173,546.6 172.5,545 171.9,543.4 170.7,542 169.2,540.8 167.9,539.9 166.8,538.4 165.8,536.7 164.9,535.5 164.2,533.7 166.2,534.6 168.3,535 169.6,535.9 171.6,536.6 173.3,536.7 175.5,536.7 178.3,535.8 180.1,535 181.3,535.1 183.3,534.2 184.4,533.1 185.8,531.6 187.5,530.8 189,529.2 190,528.8 191.7,527.5 192.5,525.8 194.3,524.5 195,523.3 195,521.6 196.1,520.2 196.7,518.3 196.1,515.7 195.8,513.3 194,511.7 193.3,510 193.7,508.5 195,506.7 195.7,504.8 196.7,502.5 196.1,501 196.4,498.2 195.8,496.7 194.9,495 194.4,493.6 194.2,491.7 193.9,490 193,488.2 192.5,486.7 191.4,484.8 191.6,483.6 190.8,481.7 190.1,479.9 190.1,478.2"/>
<polyline class="l" points="173.3,536.7 174.4,538.2 175,539.9 175,541.7 177.5,543.3 179.4,543.1 180.8,542.5 179.8,540.3 180,538.3 178.3,535.8"/>
<polyline class="l" points="175,541.7 176.2,543.2 177.3,545.7 178.6,547.4 179.8,548.7 180.8,550.8"/>
<polygon class="p" fill="#37A7B8" points="253.3,523.3 255.5,523.2 258.3,524.2 260.8,524.8 263.1,524.3 265,524.7 267,524.5 269.2,524.2 270.6,522.2 271.7,520 273.3,519 275,518.3 276.4,517.4 278.5,516.1 280.2,515.2 281.7,514.2 283.2,512.9 283.6,511.1 285,510 286.6,510.6 288.3,511.7 289.3,513.8 290.7,515.1 291.7,516.7 293.3,519.2 296,519.1 298.3,518.3 298.6,519.7 299.5,521.6 300,523.3 300,525.4 299.9,528.1 299.2,530 299.5,532.1 300.7,534.6 300.8,536.7 301.5,539 302,541.1 302.5,543.3 303.5,545.6 304.1,547.2 304.2,550 304.6,551.4 305.3,553.2 305.8,555 307.3,553.9 308.2,552.8 310,551.7 312.6,550.9 314.5,550.1 316.7,549.2 318,548 320,547.7 321.7,546.7 324.2,547.1 326.7,547.5 328.8,548.1 330.9,548.1 332.5,548.3 333.8,547.7 335.3,546 336.7,545 338.4,544.4 340,543.3 342.5,543.3 344.6,544.3 345.8,545.8 348.2,546.5 350,546.7 352.5,546.8 354.2,546.4 356.7,545.3 358.8,544.9 361.3,545.4 363.3,545 365.3,544.7 367.5,544.1 370,543.3 372,541.9 374,541.7 376.2,541.8 378.8,541.3 381,542.2 383.3,541.7 383.3,576.7 230,576.7 230.1,574 230.3,571.9 230.7,569 230.8,566.7 230.5,564.2 230,561.7 230.5,559.1 231.7,557.5 234.3,557.5 236.7,556.7 238.5,555.9 240,554.2 242.1,553.4 245,553.3 246.3,552.6 248,551.9 250,551.7 250.8,549.6 250.8,546.7 252.4,545.3 253.3,543.3 254.7,541.3 256.7,540 258.3,538.7 260,537.5 258.8,535.5 257.6,534.5 256.7,532.5 256.3,530.2 255.2,529.1 255,526.7 254.1,525"/>
<polygon class="p" fill="#37A7B8" points="267.5,481.7 269.8,481.5 272.5,480.8 273.8,482.3 275,483.3 274.5,486.1 274.2,488.3 273.6,490.7 272.5,492.5 271.7,494.4 270.8,496.7 272.9,498 274.2,499.2 276.7,500.8 275.9,502.5 275,504.1 275,505.8 273.8,507.4 273.3,510 273.1,511.6 271.7,513.3 272.4,515.1 273.3,517.5 271.7,520 270.6,522.2 269.2,524.2 267,524.5 265,524.7 263.1,524.3 260.8,524.8 258.3,524.2 255.5,523.2 253.3,523.3 254.1,521.5 254.4,519.2 254.2,516.7 253.8,514.7 253.6,512.6 253.7,510 253.8,508 254.2,505.8 256.3,505.1 258.3,503.3 260.1,502.5 261.3,501.1 262.5,500 264.1,498.6 265.3,498.3 266.7,496.7 267.8,494.8 268,493.1 269.2,491.7 270.1,489.5 270,486.7 268.7,485.4 268.7,482.9"/>
<polygon class="p" fill="#37A7B8" points="277.5,488.3 279.4,488.2 281.4,487.5 283.3,487.5 285.3,487.6 287.8,487 290,486.3 292.3,486.1 295,486.7 296.9,488.3 297.5,490 298,491.5 299.1,493.7 300,495 301.1,496.7 301.6,499.2 302.5,500.8 301.4,502.6 300.8,505 300.3,507 299.2,508.3 299.6,510.1 300.6,511.2 300.8,513.3 300.7,515.4 300,517.5 298.3,518.3 296,519.1 293.3,519.2 291.7,516.7 290.7,515.1 289.3,513.8 288.3,511.7 286.6,510.6 285,510 285.5,507.2 285.8,505 285.6,502.7 285,500 283.9,498.9 281.7,498.3 280,497.5 278.3,497.5 277.8,495.8 277.5,493.3 278.1,490.7"/>
<polyline class="l" points="274.2,499.2 276.4,497.9 278.3,497.5"/>
<polyline class="l" points="275,488.3 277.5,488.3"/>
<polyline class="l" points="281.7,514.2 283.2,512.9 283.6,511.1 285,510"/>
<polygon class="p" fill="#1C1F82" points="302.5,500.8 303.8,498.7 305.8,497.5 307.9,497.7 310,499.2 312.5,500.4 314.2,501.7 316.5,502.1 318.3,503.3 320.9,502.4 323.3,502.5 325,505 324.9,507.8 324.2,510 324.9,512.2 325,514.2 322.1,514.5 320,515 317.4,515.3 315,514.7 312.6,515.5 310,515.8 308.8,517.2 307.5,519.2 306,519.3 304.2,520.8 301.9,522.3 300,523.3 299.5,521.6 298.6,519.7 298.3,518.3 300,517.5 300.7,515.4 300.8,513.3 300.6,511.2 299.6,510.1 299.2,508.3 300.3,507 300.8,505 301.4,502.6"/>
<polygon class="p" fill="#93D4A7" points="325,500.8 326.7,501.7 328.3,501.7 329.8,501.2 331.5,500.6 333.3,500 335,499.8 336.7,499.3 338.3,498.3 340.6,497.8 343.3,497.5 346.1,497.4 348.3,498.3 350,499.6 351.7,500.8 353.7,501.7 354.5,502.8 355.8,504.2 357.1,505.9 358.8,506 360,507.5 360.7,509.2 362,510.5 363.3,511.7 364.5,512.9 365.7,514.5 366.7,516.7 367.6,517.7 368.7,519.4 370,520.8 372.2,521.5 374,523.3 376.6,523.4 379,524.2 381,525 383.3,525 383.3,527.2 383,529.3 383.3,530.9 383.3,533.3 380.7,533.9 378.3,533.7 376.5,534 374,534.2 371.8,534.3 369.1,535.1 366.7,535 364.8,535.6 362.1,535.1 360,535.8 358,536.1 355.5,537.3 353.3,537.5 351,538.3 349.5,538.3 347.5,539.2 345.5,540.1 343.3,540.8 341.6,541.6 340,543.3 338.4,544.4 336.7,545 335.3,546 333.8,547.7 332.5,548.3 330.9,548.1 328.8,548.1 326.7,547.5 324.2,547.1 321.7,546.7 321.8,544.5 320.8,541.7 320.4,540 320.2,538.3 319.2,536.7 317.3,535.4 316.7,533.5 315,532.5 313.2,531.6 311.9,529.9 310,529.2 308.7,528.1 306.7,526.7 306.9,525 305.8,523.3 306.9,521.1 307.5,519.2 308.8,517.2 310,515.8 312.6,515.5 315,514.7 317.4,515.3 320,515 322.1,514.5 325,514.2 324.9,512.2 324.2,510 324.9,507.8 325,505 323.3,502.5"/>
<polygon class="p" fill="#1C1F82" points="338.3,438.3 339.8,439.2 341.5,439.5 343.3,440 343.4,441.7 343.8,443.7 344.2,445.8 343.7,447.7 343.7,450 343.3,451.7 344.2,454.2 344.1,456.3 344.2,458.3 344.6,460.1 345,462.8 345,465 345.7,467.4 345.9,469.6 345.8,472.5 347.5,471.2 350,470.8 351.6,470.4 353.7,469 355,468.3 357.9,468.7 360,469.2 362,469.9 363.2,469.7 365,470.8 367.5,470.7 369.2,471.7 367.6,474 366.7,475.8 364.7,477.6 363.3,479.2 361.2,480 359.2,481.7 357.5,483.2 355,484.2 353,484.8 351.8,486.4 350,487.5 349.2,490 350.9,491.6 352.5,493.3 354.3,493.8 355.6,494.7 357.5,495.8 358.8,496.6 360.6,497.9 362.5,498.3 364.3,499 365.2,500.6 366.7,501.7 367.7,502.8 368.9,504.7 370,505.8 370.5,507.9 372.5,510 373.8,511.5 374,513.3 376.7,513.9 378.4,513.8 380.6,513.5 383.3,513.3 383.1,515.6 382.9,517.8 383.5,520.5 383.7,522.8 383.3,525 381,525 379,524.2 376.6,523.4 374,523.3 372.2,521.5 370,520.8 368.7,519.4 367.6,517.7 366.7,516.7 365.7,514.5 364.5,512.9 363.3,511.7 362,510.5 360.7,509.2 360,507.5 358.8,506 357.1,505.9 355.8,504.2 354.5,502.8 353.7,501.7 351.7,500.8 350,499.6 348.3,498.3 346.1,497.4 343.3,497.5 340.6,497.8 338.3,498.3 336.7,499.3 335,499.8 333.3,500 331.5,500.6 329.8,501.2 328.3,501.7 326.7,501.7 325,500.8 323.3,502.5 322.5,500 321.4,498.7 320,496.7 318.2,495.1 316.7,493.3 315.7,491.4 315.6,490.3 315,488.3 315.9,485.9 315.8,483.3 315.6,480.9 315,478.3 315.4,476.7 316.2,475.2 316.7,473.3 316.5,471 316.3,469.3 316.7,467.5 317.9,466.8 320.1,466.6 321.7,465.8 322.5,463.7 323.3,461.9 323.3,460 324.7,458 325.8,455.8 325.7,453.3 326.7,450.8 328.1,450.3 329.3,448.6 330.8,447.5 332.1,446.4 334.2,445.8 335.5,444.2 336.7,441.7 337.9,439.9"/>
<polyline class="l" points="334.2,445.8 334.2,448.4 333.3,450.7 333.3,453.3 334.1,455.2 333.3,457.6 334.2,460 333.5,461.2 332.8,463.4 332.5,465 331.1,466.3 329.2,466.7 331.7,468.3 332.7,470.1 334.2,471.7 333.9,473.9 333.3,476.7 332.7,478.5 330.8,480 330.4,482.3 330,485 329.3,486.6 329.5,489 329.2,490.8 328.2,492.8 326.7,495 326.6,497.2 325.8,498.9 325,500.8"/>
<polyline class="l" points="334.2,471.7 336.2,473.4 338.3,474.2 340.3,473.2 343.1,473.3 345.8,472.5"/>
<polygon class="p" fill="#2569A8" points="340.8,435 342.6,433.2 344.2,432.5 346.9,431.7 349.2,431.7 351,432.1 353.3,432.5 355.2,431.6 357.5,430.8 359.5,430 361.3,429.8 362.5,429.2 364.4,429.8 366.7,430.8 368.3,432 370.8,433.3 371.5,434.9 371.7,436.7 370.5,438.8 369.2,440.8 367.9,442.5 366.7,443.3 365.5,445.6 364.2,447.5 361.7,448.1 360,449.2 357.6,449.6 355,450 352.9,451.2 350.8,452.5 349.1,452.7 347.5,454.2 346.3,453.1 345,451.7 344.6,449.9 344.5,448.2 344.2,445.8 343.8,443.7 343.4,441.7 343.3,440 341.5,439.5 339.8,439.2 338.3,438.3 340,436.7"/>
<polygon class="p" fill="#37A7B8" points="321.7,403.3 324.2,403.1 326.8,403 329.1,403.2 332.3,402.9 334.2,402.7 337.2,403 339.5,403.7 342.4,403.9 345.2,403.8 347.5,402.8 350,403.3 350.5,405.6 351.1,407.8 352.5,410 352.6,412.2 352.3,414.8 351.7,416.7 351.8,418.6 351,421.3 350.8,423.3 351.6,426.1 351.7,428.3 350.2,430.2 349.2,431.7 346.9,431.7 344.2,432.5 342.6,432.1 340.8,430.8 338.8,429.9 336.7,428.3 335.7,426.6 334.1,425.9 333.3,424.2 331.6,422.8 331.2,421.1 330,420 328.8,418.7 326.7,417.5 325.4,415.8 323.3,415 321.7,414.4 320,413.3 319.4,411.6 318.3,410 319,407.5 320.6,405.5"/>
<polygon class="p" fill="#1C1F82" points="350,403.3 352,403.6 354.2,403 355.8,403.7 358.3,403.3 358.4,405.4 357.5,407.1 357.2,409.4 357.5,411.7 356.5,413.1 356.7,415.1 355.8,416.7 355.4,418.6 354.2,420 352.5,418.3 351.9,416.1 351.7,413.3 351.5,410.5 351.1,407.9 350.5,406.1"/>
<polygon class="p" fill="#2569A8" points="352.5,418.3 354.2,420 355.4,418.6 355.8,416.7 356.3,418.7 356.7,420 355.8,422 355.8,425 355.8,427.2 356.5,429.1 356.7,431.7 355.2,432.4 353.3,432.5 352.8,430.3 351.7,428.3 351.6,426.1 350.8,423.3 351.9,421.9 352.2,419.9"/>
<polygon class="p" fill="#FFFFBF" points="358.3,403.3 360.8,403.2 363.2,402.9 365.2,403 367.9,403.1 370,403.3 369.6,406.2 368.8,408.4 368.1,411 368.3,413.3 367.1,415.1 366,416.3 365,418.3 363.3,419.1 362.2,421.1 360.8,421.7 360.3,423.7 358.7,424.9 358.3,426.7 357.5,428.5 357.5,430.8 356.7,431.7 356.5,429.1 355.8,427.2 355.8,425 355.8,422 356.7,420 356.3,418.7 355.8,416.7 356.7,415.1 356.5,413.1 357.5,411.7 357.2,409.4 357.5,407.1 358.4,405.4"/>
<polygon class="p" fill="#93D4A7" points="370,403.3 372.3,403.4 374.7,403.8 377,403.8 379,402.7 381.2,403.2 383.3,403.3 383.8,405.7 383.8,408.8 383.3,411.3 383.6,413.4 383.5,416.1 383.2,419.1 383.3,421.2 382.8,423.9 383.4,426.4 383.6,429.5 383.3,431.7 381.1,431 379,430.3 376.3,430.3 374,429.2 372.7,430.3 372.1,432.5 370.8,433.3 368.3,432 366.7,430.8 364.4,429.8 362.5,429.2 363.4,427.2 363.3,425 364.8,423.3 366.7,421.7 367.7,420 368.3,418.3 368.8,415.6 368.3,413.3 368.1,411 368.8,408.4 369.6,406.2"/>
<polygon class="p" fill="#93D4A7" points="318.3,414.2 321.2,414.3 323.3,415 325.4,415.8 326.7,417.5 328.8,418.7 330,420 331.2,421.1 331.6,422.8 333.3,424.2 334.1,425.9 335.7,426.6 336.7,428.3 335,430.8 333.6,431.9 331.6,432.7 330,434.2 328.6,435.8 328.1,437.5 326.7,438.3 325.8,440.6 324,441.7 323.3,443.3 322.4,445.6 320.9,446.8 320,448.3 318.8,449.2 317.5,450.8 316.4,449.6 314.2,449.2 312.1,448 310,447.5 308,447.1 305.8,447.5 304,446.8 302.5,445.8 304,443.6 304.2,441.7 305,439.8 306.1,438.6 307.5,436.7 308,434.9 308.8,433.2 310,431.7 311.1,430.5 311.2,428.6 312.5,426.7 313.8,424.9 313.8,422.8 315,420.8 316.1,419.1 316.7,416.7"/>
<polyline class="l" points="336.7,428.3 338.8,429.9 340.8,430.8 343.3,430.8 342,432.6 340.8,435"/>
<polygon class="p" fill="#93D4A7" points="347.5,454.2 349.1,452.7 350.8,452.5 352.9,451.2 355,450 357.6,449.6 360,449.2 361.7,448.1 364.2,447.5 365.5,445.6 366.7,443.3 367.9,442.5 369.2,440.8 370.5,438.8 371.7,436.7 371.5,434.9 370.8,433.3 372.1,432.5 372.7,430.3 374,429.2 376.3,430.3 379,430.3 381.1,431 383.3,431.7 383.3,471.7 380.9,471.1 378.7,471.6 376.1,471.1 374,470.8 371.7,470.7 369.2,471.7 367.5,470.7 365,470.8 363.2,469.7 362,469.9 360,469.2 357.9,468.7 355,468.3 353.7,469 351.6,470.4 350,470.8 347.5,471.2 345.8,472.5 345.9,469.6 345.7,467.4 345,465 345,462.8 344.6,460.1 344.2,458.3 344.7,456.3 345,455"/>
<polyline class="l" points="365,447.5 366,449 366.2,451.7 366.7,453.3 368.6,454.9 370,456.7 371.9,457 373.1,457.9 375,458.3"/>
<polyline class="l" points="366.7,468.3 368.5,467.7 370.1,465.7 371.7,465 373.3,464.2 375,463.3"/>
<polygon class="p" fill="#37A7B8" points="369.2,471.7 371.7,470.7 374,470.8 376.1,471.1 378.7,471.6 380.9,471.1 383.3,471.7 383.3,513.3 380.6,513.5 378.4,513.8 376.7,513.9 374,513.3 373.8,511.5 372.5,510 370.5,507.9 370,505.8 368.9,504.7 367.7,502.8 366.7,501.7 365.2,500.6 364.3,499 362.5,498.3 360.6,497.9 358.8,496.6 357.5,495.8 355.6,494.7 354.3,493.8 352.5,493.3 350.9,491.6 349.2,490 350,487.5 351.8,486.4 353,484.8 355,484.2 357.5,483.2 359.2,481.7 361.2,480 363.3,479.2 364.7,477.6 366.7,475.8 367.6,474"/>
<polyline class="l" points="327.5,505.8 328.7,507.7 330.5,508.9 331.7,510 332.9,511.3 333.9,513.1 335,514.2 336.6,513 337.8,511.5 339.2,510 341.7,508.3 343.2,506.9 344.2,505 346.2,504.7 348.3,505.1 350,505.8"/>
<polyline class="l" points="335,514.2 333,515.5 330.8,516.7 330.4,518.3 328.6,519.7 328.3,521.7 326.9,523.5 326.9,524.8 325.8,526.7 323.9,527.9 322.5,529.2 324.6,530.6 326.7,531.7 328.2,532.8 330.2,534.2 331.7,535 333.4,536.7 335,537.5 336.7,538.3 339.4,538.7 341.1,539.4 343.3,540.8"/>
<polyline class="l" points="341.7,508.3 341.8,510.7 341.7,513.3 342.8,515.4 344.2,516.7 346.7,517.3 348.3,518.3 349.3,520.9 349.2,523.3 349.5,525.4 350.3,527.4 350,529.2 348.4,530.1 346.6,531.8 345,532.5 344.2,534.3 344.1,536.7 344.2,538.3"/>
<polyline class="l" points="349.2,523.3 350.8,523.6 352.7,523.8 355,524.2 356.2,523.6 358.5,523.4 360,522.5 362.4,523 364.3,524.4 366.7,525 368,523.3 368.8,521.7 370,520.8"/>
<polyline class="l" points="350,529.2 352.2,528.5 354.5,528.5 356.7,527.5 358.7,527.9 361.1,528 363.3,528.3 365.6,528.4 367.5,529.2 370,530 371.8,530.8 373.7,532.4 375,534.2"/>
<polyline class="l" points="350,505.8 351.1,508.2 352.5,510 354.1,511.2 356.5,512.1 358.3,513.3 359.8,512.2 362.1,512.7 363.3,511.7"/>
<polygon class="p" fill="#FFFFBF" points="343.3,540.8 345.5,540.1 347.5,539.2 349.5,538.3 351,538.3 353.3,537.5 355.5,537.3 358,536.1 360,535.8 362.1,535.1 364.8,535.6 366.7,535 369.1,535.1 371.8,534.3 374,534.2 376.5,534 378.3,533.7 380.7,533.9 383.3,533.3 383.1,535.8 383.3,537.3 383.4,539.9 383.3,541.7 381,542.2 378.8,541.3 376.2,541.8 374,541.7 372,541.9 370,543.3 367.5,544.1 365.3,544.7 363.3,545 361.3,545.4 358.8,544.9 356.7,545.3 354.2,546.4 352.5,546.8 350,546.7 348.2,546.5 345.8,545.8 344.6,544.3 342.5,543.3"/>
<polygon class="p" fill="#2569A8" points="304.2,520.8 305.8,523.3 306.9,525 306.7,526.7 308.7,528.1 310,529.2 311.9,529.9 313.2,531.6 315,532.5 316.7,533.5 317.3,535.4 319.2,536.7 320.2,538.3 320.4,540 320.8,541.7 321.8,544.5 321.7,546.7 320,547.7 318,548 316.7,549.2 314.5,550.1 312.6,550.9 310,551.7 308.2,552.8 307.3,553.9 305.8,555 305.3,553.2 304.6,551.4 304.2,550 304.1,547.2 303.5,545.6 302.5,543.3 302,541.1 301.5,539 300.8,536.7 300.7,534.6 299.5,532.1 299.2,530 299.9,528.1 300,525.4 300,523.3 301.9,522.3"/>
<polygon fill="#4A4A4A" fill-opacity="0.5" stroke="#4A4A4A" stroke-opacity="0.7" stroke-width="0.8" points="281.7,535 288.3,534.2 293.3,536.7 296.7,533.3 298.3,540 296.7,546.7 300,551.7 299.2,558.3 300.8,565 300,576.7 286.7,576.7 288.3,568.3 285.8,563.3 288.3,558.3 283.3,555 280,550 283.3,545 279.2,541.7"/>
<polygon fill="#4A4A4A" fill-opacity="0.5" stroke="#4A4A4A" stroke-opacity="0.7" stroke-width="0.8" points="266.7,560 271.7,557.5 276.7,559.2 280,556.7 281.7,563.3 278.3,568.3 273.3,566.7 268.3,565"/>
<polygon fill="#4A4A4A" fill-opacity="0.5" stroke="#4A4A4A" stroke-opacity="0.7" stroke-width="0.8" points="308.3,560 312.5,556.7 315,561.7 320,563.3 325,562.5 326.7,566.7 321.7,569.2 316.7,576.7 308.3,576.7 310,566.7"/>
<polyline class="l" points="263.3,560.8 264.3,563.1 265.8,565 267.6,566.6 270,567.5 271.5,567.8 273.5,569.1 275,570"/>
<polyline class="l" points="310,555 311.3,553.8 312.5,551.7 313.3,553.6 314,555 314.2,556.7"/>
<polyline class="l" points="316.7,560 317.3,557.8 318.3,556.7 319.4,559.1 320.8,560.8"/>
<polygon class="p" fill="#FFFFFF" points="283.3,552.5 288.3,550.8 293.3,548.3 290,553.3 285.8,556.7 283.3,563.3 281.7,576.7 277.5,576.7 280,563.3 281.7,556.7"/>
<polygon class="p" fill="#FFFFFF" points="300.8,521.7 305,521.3 309.2,520 310,521.7 306.7,524.2 304.2,526.7 303.3,531.7 301.7,536.7 303.3,541.7 305.8,545 306.7,551.7 305.8,560 306.7,576.7 302.5,576.7 302.5,560 303.3,551.7 301.7,545.8 299.2,541.7 298.3,536.7 300,531.7 300.8,526.7"/>
<polygon class="p" fill="#2569A8" points="300.8,536.7 302.5,535.8 303.3,537.9 304.2,539.2 302.5,541.7 302.2,539.9 301.1,538.3"/>
<polygon class="p" fill="#FFFFFF" points="365,555 370,551.7 374,550.8 383.3,550.8 383.3,568.3 374,566.7 370,563.3 366.7,559.2"/>
<polygon class="p" fill="#93D4A7" points="355,555 357.8,555.1 360,555.8 362.2,555.2 365,555 366,557.1 366.7,559.2 367.5,560.7 369,561.6 370,563.3 371.5,564.1 372.6,565.7 374,566.7 376.2,566.5 378.7,567.7 380.9,567.4 383.3,568.3 383.2,570.6 382.9,572.1 382.7,574.2 383.3,576.7 343.3,576.7 344.5,574.5 345.2,572.6 345.6,570.6 346.7,568.3 347.3,566 349.4,563.8 350,561.7 351.5,560.1 352.5,557.5 354.1,556.5"/>
<polyline class="l" points="332.5,548.3 335.1,549.4 336.7,550.8 339.3,551.3 341.5,552.6 343.3,553.3 345.3,554.1 347.4,554.9 350,555.8 352.5,555.7 355,555"/>
<polyline class="l" points="340,543.3 341.7,544.5 344.2,545.8"/>
<polyline class="l" points="195,437.5 197.1,439.2 199.2,440 200.8,441.5 202.5,443.3 201.9,445.3 201.8,447.6 200.8,450 201,451.8 201.5,453.1 202.5,455 202.7,457.3 204.1,459.3 204.2,461.7 204.8,464.1 204,466.1 204.2,468.3 205.3,470.8 206.7,472.5"/>
<polyline class="l" points="219.2,415 220.9,416.1 222.2,417.9 223.3,419.2 224.5,420.4 225.8,421.7 225.9,423.9 225,425.8 227.1,427.1 228.3,429.2 227.6,431.4 227.5,433.3 228.4,435 230.7,436.1 231.7,437.5 231.1,439.6 230,441.7 230.8,443.4 232.7,444.5 233.3,445.8 234.8,447.1 235.8,448.8 236.7,450.8 237.9,452.5 239.2,453.6 240,455.8 240.8,457.2 242.5,458.3 244.3,456.6 245,455 246.7,454 248.3,452.5 249.5,451.2 250.9,450 252.5,449.2 254.1,448.4 255.8,447.5"/>
<polyline class="l" points="225.8,421.7 227.7,421.1 229.5,419.1 231.7,418.3 233.8,419.4 235.8,419.2 236.9,420.7 237.4,423.2 238.3,425 239.9,427.1 240.8,429.2 243.5,429.5 245.8,429.2 247.8,428.4 250,427.5 252,426.6 254.2,426.9 256.7,425.8 258,426.4 259.9,426.9 261.7,427.5 264.3,426.9 266.7,426.7 268.3,427.4 270,428.3 270.8,429.6 272.5,430.8 274.6,430 276.7,428.3 278.4,427.7 280,426.6 281.7,425 283.1,423 284.2,421.7 283.5,419.9 283.3,417.5 285.1,415.6 285.8,413.3 287.7,411.3 288.3,409.2"/>
<polyline class="l" points="250,427.5 249.3,429.5 249.2,431.7 249.4,433.4 250.9,435 251.7,436.7 250.9,439.5 250.8,441.7 251.3,444.1 252.5,445.8 253.8,446.4 255.8,447.5 257.5,448.5 259.2,449.2 259.5,447.6 260.8,445.8 260.8,443.7 261.7,442.5 263.2,442.5 264.7,441.6 266.7,440.8 267.5,438.9 266.8,436.6 267.5,435 268.9,432.8 268.8,430.1 270,428.3"/>
<polyline class="l" points="266.7,440.8 267.9,439.3 270.3,438.6 271.7,437.5 273.3,436.6 275.2,435.8 276.7,435 278.8,436.3 280,437.5 279.9,440.2 279.2,442.5 280.6,444 281.7,445.8 282.7,446.9 284.2,448.3 285.6,450.2 286.7,451.7 287.9,453 290.5,453.8 291.7,455 294.4,454.9 296.7,455 298.3,452.5"/>
<polyline class="l" points="255.8,447.5 257.4,448.3 258.7,449.3 260,450.8 261,452.7 262.1,454 262.5,455.8 261.4,457.2 259.4,458.2 258.3,459.2 255.7,459.6 253.3,460 250.8,460.8 252.1,462.2 252.9,463.3 254.2,465 255.5,466.2 257.5,467.5 258.4,469.8 259.2,471.7 260.9,471.1 263.4,471.1 265,470 266.7,469.6 268.7,468.4 270.8,468.3 272.9,469 274.5,468.9 276.7,469.2 279,468.3 281.7,468.3 284.1,467.6 285.8,466.7 286.9,464.5 288.3,463.3 290.9,463.5 293.3,462.5 294.7,461.2 296.2,459.5 298.3,458.3 298,456.1 297.8,454.5 298.3,452.5"/>
<polyline class="l" points="242.5,458.3 240.6,456.8 238.7,455.4 236.7,453.3 234.6,453.1 233.4,451.8 231.7,451.7 230.1,452.4 227.7,452.2 225.8,453.3 223.4,453.7 221.7,454.2 222,456.5 222.5,458.3 220.4,459.1 218.3,459 216.7,459.2 217.5,461.1 219.2,463.3 221.1,464.9 222.5,466.7 222.3,468.9 222.3,471.3 221.7,473.3 222.1,476.1 222.5,478.3 221.9,480.1 221.7,481.8 220.8,483.3 221,485.5 221.7,488.3 220.7,491 219.2,492.5 218.3,492.5"/>
<polyline class="l" points="259.2,471.7 257.4,473 255.1,473.4 253.3,474.2 251.7,474.8 249.8,474.8 248.3,475.8 246.9,475.5 245,475 243.3,476.3 241.7,478.3 240.4,480 238.7,480.5 237.5,482.5 236.6,483.7 234.9,485.4 234.2,486.7 233.8,488.5 233.1,489.9 232.5,491.7 232.5,494.5 233.3,496.7 232.3,498.4 231.7,500.8 232,502.8 232.9,505.1 233.3,506.7"/>
<polyline class="l" points="265,470 264.6,472.2 264.2,473.8 264.2,475.8 264.9,477.9 265.8,480 267.5,481.7"/>
<polyline class="l" points="285.8,466.7 285.4,468.8 285,470.8 286.3,472.3 287.8,473.6 288.3,475 290.1,476.1 291.5,475.6 293.3,476.7 295.9,477.6 298.3,477.5 299.9,476 300.8,474.2 301,472.1 300.4,470.2 300,468.3 301,465.9 300.8,463.3 300.2,461.7 299.4,459.6 298.3,458.3"/>
<polyline class="l" points="272.5,480.8 273.8,482.5 274.9,483.1 276.7,484.2 278.1,484.7 279.7,485.1 281.7,485.8 283.3,487.5"/>
<polyline class="l" points="298.3,477.5 298.1,479.4 296.7,481.7 297.6,483.9 297.5,486.7 297.6,488.2 297.5,490"/>
<polyline class="l" points="302.5,445.8 302.2,447.7 301.9,449.6 300.8,451.7 300.4,454.1 300.4,456.4 300,458.3 300.5,460.9 300.8,463.3"/>
<polyline class="l" points="300.8,474.2 302.7,475.4 304.2,476.7 305.9,477.6 308.5,477.4 310,478.3 312.2,478.7 315,478.3"/>
<polyline class="l" points="300.8,474.2 301.9,475.9 302.9,478.2 303.3,480 303.4,481.6 301.7,483.5 301.7,485 300.8,486.6 300.6,488.2 300,490 300.8,492 301.8,493 302.5,495 302,497.2 302.3,498.9 302.5,500.8"/>
<polyline class="l" points="302.5,445.8 301.5,444.4 300.8,442.5"/>
</g>
<g clip-path="url(#c7)">
<polygon class="p" fill="#37A7B8" points="365.7,401.7 607.3,401.7 607.3,576.7 365.7,576.7"/>
<polygon class="p" fill="#93D4A7" points="365.7,403.3 409,403.3 409.2,405.2 409.1,407.6 409.4,409.9 409.3,411.7 410.9,413.1 411.5,415 411.1,416.4 409.8,418 407.6,418.6 406,418.4 404,418.3 402.7,417.4 400.5,416.4 399,415.8 397.7,415.1 395.5,414.4 394,414.2 391.9,414 390,413 388.2,412.5 386.4,412.4 384.4,412.2 382.3,412 380.8,412.6 379.3,413.3 377.3,414.2 376,415.4 374,416.7 371.7,416.6 370,417.4 367.6,417.3 365.7,417.5 365.3,415.3 365.6,412.7 365.4,410.1 365.2,407.7 365.6,405.7"/>
<polyline class="l" points="409.3,411.7 411.4,412.2 412.8,413.3 414,414.2 416.7,415.1 419,415 420.8,413.8 422.5,413.2 424,412.5 424.7,410.7 425.7,409.2"/>
<polygon class="p" fill="#93D4A7" points="425.7,403.3 428.3,403.3 431.1,402.8 432.9,403.3 436.1,403.6 438.3,402.9 440.7,403.2 443.4,403.1 445.4,403.6 448.6,402.9 450.9,403.3 452.8,403 455.7,403.3 456.2,405.7 456.3,408.1 456.4,410.1 456.6,412.4 456.5,415 457.7,417.6 459,419.2 459,421.2 458.2,423.3 457.3,424.8 455.7,426.7 454.5,428.3 453.2,430.8 451.4,431.7 449,432.5 446.5,432 444.8,430.8 443.2,432.6 441.5,434.2 440.5,435.6 439,437 437.3,438.3 435.8,439.4 434.3,440.4 433.2,441.7 432.3,443.7 430.7,445 428.5,445.5 426.6,447.7 424.8,448.3 422.9,448.4 420.6,447.2 419,447.5 417.8,445.1 416.5,443.3 415.4,441.3 414,440 413.7,437.9 413.3,436.1 412.3,435 412.7,433.4 413.9,431.8 414.8,430 415.6,428.1 416.4,426.6 416.5,425 417.2,422.8 417.7,420.9 417.3,419.2 418.3,417.5 419.8,415.8 421,414.2 422.8,413.4 424,412.5 424.7,410.7 425.7,409.2 425.2,407.4 425.5,405.5"/>
<polygon class="p" fill="#2569A8" points="455.7,403.3 487.3,403.3 486.7,405.9 486.5,408.6 485.7,410.8 484.1,412.2 482.3,412.5 480.6,412.9 478.2,413.3 476.3,414.5 474,415 472.2,416.5 471.5,418.3 469.5,418.5 467.3,420 464.7,420.2 462.3,421.3 461.1,420.1 459,419.2 457.7,417.6 456.5,415 456.6,412.4 456.4,410.1 456.3,408.1 456.2,405.7"/>
<polyline class="l" points="459,419.2 461.1,420.1 462.3,421.3 462.1,423.5 463.5,425 463.2,426.7 463.9,428.8 464,431.7 465.1,433.2 466,435.3 467.3,436.7 467.8,438.6 468.4,439.7 469,441.7 466.8,443.4 464.8,444.2 464.8,446.4 464,449.2"/>
<polygon class="p" fill="#1C1F82" points="462.3,421.3 464.7,420.2 467.3,420 469.5,418.5 471.5,418.3 472.2,416.5 474,415 476.3,414.5 478.2,413.3 480.6,412.9 482.3,412.5 483.8,414.2 484.8,416.7 484.1,418.7 484.1,421.4 484,423.3 482.4,425 481.5,427.5 480,428.3 479.2,430.6 477.3,431.7 475.6,433.2 473.2,434.2 471.6,435.5 469.8,436.7 469.7,439.4 469,441.7 468.4,439.7 467.8,438.6 467.3,436.7 466,435.3 465.1,433.2 464,431.7 463.9,428.8 463.2,426.7 463.5,425 462.1,423.5"/>
<polygon class="p" fill="#FFFFBF" points="482.3,412.5 484.1,412.2 485.7,410.8 487.7,410.8 489.9,410.9 492.1,410.3 494,410 495.9,409.8 498.1,409.7 500,410.7 502.3,410.5 504.4,411.4 507.3,411.3 509.4,412.5 511,413.7 510.7,416.2 510.7,418.3 510.3,420 510.2,422.8 509.7,424.2 509.8,426.7 509.9,428.5 509.6,430.5 509,432.8 509,435 508.4,437.7 507.6,439.3 506.5,441.7 505.2,443.8 503.4,444.6 502.3,446.7 500.8,447.8 498.6,449 497.3,450.8 494.6,450.9 492.3,451.7 489.6,451.5 487.3,450.8 485.3,451.3 484.1,451.5 482.3,452.5 480.3,452.4 479,451.7 477,450.8 476.2,449.7 474,449.2 472.5,448.2 471.7,446.3 470.7,445 469.2,443.3 469,441.7 469.7,439.4 469.8,436.7 471.6,435.5 473.2,434.2 475.6,433.2 477.3,431.7 479.2,430.6 480,428.3 481.5,427.5 482.4,425 484,423.3 484.1,421.4 484.1,418.7 484.8,416.7 483.8,414.2 482.3,412.5"/>
<polygon class="p" fill="#FFFFFF" points="511.5,403.3 557.3,403.3 555.7,413.3 550.7,415.8 545.7,417.5 540.7,418.3 538.2,420.8 534,419.2 529,418.3 524,420 519,421.7 514,420 511,419.2"/>
<polyline fill="none" stroke="#EBEBEB" stroke-width="2.6" points="523.5,403.3 523.5,418.7"/>
<polygon class="p" fill="#93D4A7" points="529,418.3 531.4,419.1 534,419.2 536.5,419.9 538.2,420.8 539.7,419.4 540.7,418.3 543.1,418.4 545.7,417.5 547.5,416.8 549.5,416.7 550.7,415.8 552.9,415.3 554.5,414.3 555.7,413.3 555,415.5 554.7,418 554,420 553.2,421.5 551.6,423.6 550.7,425 549.7,426.9 549.3,428.4 549,430 548.9,432.6 548.2,435 546.4,435.6 544.2,435.3 542.3,435.8 539.7,435.7 537.3,435 535.2,434.6 533.9,434.4 532.3,433.3 531.1,431.5 529.8,430 529.6,427.8 529,425 529.6,422.9 529.3,420.6"/>
<polyline class="l" points="557.3,403.3 556.5,405.6 556.4,408.3 556.1,410.6 555.7,413.3"/>
<polyline class="l" points="548.2,435 549.8,434.1 552.3,434.2 554.4,434.6 556.5,435 557.2,436.6 557.7,438.5 558.2,440 558.3,442.6 559,445 558.6,446.7 558.2,449.2 560.2,449.8 562.2,449.3 564,450 566.5,450.6 568.2,450.4 570.7,450.8 572.8,451.2 575.1,452 577.2,452.7 579,452.5 580.7,452.1 583.1,452.9 585.6,452.9 587.3,453.3 589.6,453.5 592,452.8 594.6,452.3 596.5,451.6 599,451.7"/>
<polygon class="p" fill="#2569A8" points="511,419.2 514,420 515.7,420.5 517.6,420.8 519,421.7 520.4,420.8 522.7,420.7 524,420 525.4,419.3 527.6,418.8 529,418.3 529.3,420.6 529.6,422.9 529,425 528.7,426.8 527.8,428.5 527.3,430 525.7,431.8 525,433.4 524,435 522.8,436.8 521.5,439.2 519.8,440.5 519,442.5 519,444.2 519.7,446 519.8,448.3 520.1,450.1 521.7,451.7 522.3,453.3 523,455.3 524.7,456.2 525.7,458.3 526.5,460.1 529.1,461.5 529.8,463.3 531,465 531.8,466.7 533.2,467.5 534.4,469.3 535.6,470.4 536.5,472.5 537.5,474.6 537.9,476.2 539,478.3 539.2,480.7 540.1,483.1 540.7,485 542,487.3 541.7,489.4 543.2,491.7 543.6,493.6 544.2,494.8 544.8,496.7 546.4,499 547.4,500.9 548.2,503.3 549.2,505.2 549.5,506.6 550.7,508.3 550.1,510.2 549,511.7 546.5,513.3 544.6,513.3 542.6,514.1 540.7,515 540.3,517.1 540.2,518.3 539,520 536.4,520.1 534,520.8 532.9,522.3 530.5,523.9 529,525 526.2,525.8 524,525.8 522.1,526.1 520.7,525.8 520.3,523.9 519.8,521.7 518.3,520 517.3,518.3 515.6,517 514.1,516.5 512.3,515.8 509.8,515.8 507.8,515.8 505.7,515 503.3,514.8 501.3,514.4 499,515 496.9,515.8 494,515.8 491.2,514.9 489,515 487.1,514.4 485.4,513.6 484,513.3 482.8,515 480.7,516.7 478.2,516.9 475.7,516.7 473.8,515.3 471.5,515 470.8,513.3 470.7,510.8 469,510.5 467.3,510 466.3,508.7 465.7,506.7 467.4,505.7 469.8,505 471.3,503.3 473.8,502.6 475.7,500.8 476,498.4 476.5,495.8 474.7,493.7 474,491.7 473.2,490.4 473.2,487.9 472.3,486.7 471.2,484.8 469.8,483.3 470.4,480.8 470.5,478.7 470.7,476.7 471,474.7 472.3,473.3 474.2,472.4 476.4,471.5 478.4,470.9 480.7,470 480.5,468.2 481.1,465.8 480.7,463.3 480.6,460.8 480.1,458.7 479.8,456.7 480.7,454.2 482.3,452.5 484.1,451.5 485.3,451.3 487.3,450.8 489.6,451.5 492.3,451.7 494.6,450.9 497.3,450.8 498.6,449 500.8,447.8 502.3,446.7 503.4,444.6 505.2,443.8 506.5,441.7 507.6,439.3 508.4,437.7 509,435 509,432.8 509.6,430.5 509.9,428.5 509.8,426.7 509.7,424.2 510.2,422.8 510.3,420 510.7,418.3"/>
<polyline class="l" points="480.7,470 482.6,470 484.8,470 486.7,469.1 489,468.3 490.1,469.9 490.8,471.1 491.5,473.3 493.8,475 495.7,475.8 498.4,476.7 500.7,476.7 502.3,478.7 503.2,480.8 503.7,482.9 504.4,484.8 505.7,486.7 505.9,488.4 505.2,490.2 504.8,492.5 505.6,494.3 506.5,496.7 508.7,496.7 510.2,496.6 512.3,496.7 514.6,495.6 516.6,495 519,494.2 521.5,493.9 523.5,495.3 525.7,495 528.2,495.5 530,496.9 532.3,497.5 533.7,496.6 535.6,495.9 537.3,495.8 539.4,495.1 540.8,494.4 543.2,494.2"/>
<polyline class="l" points="507.3,447.5 509,448.8 510.5,448.8 512.3,450 513.1,451.2 514.5,452.5 515.7,454.2 516.7,456.2 516.3,458.2 517.3,460 517.7,462.3 518.6,464.9 519.8,466.7 521.1,468.6 521.8,471.1 522.3,473.3 524.6,473.1 527.3,472.5 529.1,472.4 531,471.2 533.2,470.8"/>
<polyline class="l" points="532.3,497.5 529.8,498.3 527.3,498.3 526.3,500 524.8,501.7 524.7,503.6 524,505 521.8,504.5 519.9,504.6 517.3,504.2 514.5,504.7 512.3,505 510.6,506.7 508.7,507.2 507.3,508.3 504.8,510 504.7,512.5 505.7,515"/>
<polygon class="p" fill="#1C1F82" points="424.8,448.3 426.6,447.7 428.5,445.5 430.7,445 432.3,443.7 433.2,441.7 434.3,440.4 435.8,439.4 437.3,438.3 439,437 440.5,435.6 441.5,434.2 443.2,432.6 444.8,430.8 446.5,432 449,432.5 451.4,431.7 453.2,430.8 453.8,432.3 454,434.2 455.2,436 456.5,438.3 457.2,440 458,441.9 459,443.3 459.5,445.3 460.3,446.9 460.7,448.3 461.5,450 461.2,452.6 460.7,455 459.7,457.7 459.8,460 460.1,462.2 460.7,465 459.1,465 457.3,465.8 457.3,467.3 456.5,469.2 454.2,469.2 452.3,469 450.7,468.3 449.5,469.1 447.3,469.4 445.7,470 444,469.2 442.3,467.5 439.8,466.8 438.2,465.8 436.6,463.5 435.7,461.7 434.8,460.6 432.9,459.1 431.5,458.3 430.5,457.1 429.9,454.9 429.8,453.3 428.4,451.9 427.3,450.8 426.7,449.4"/>
<polyline class="l" points="433.2,441.7 435.3,442.6 437.3,443.3 439.1,441.9 441.7,441.9 443.2,440.8 444.8,439.9 445.9,438.4 447.3,436.7 448.3,434.3 449,432.5"/>
<polyline class="l" points="438.2,450.8 439.1,449.7 441.3,448.8 442.3,447.5 443.9,446.8 445.8,445.9 447.3,444.2 449.1,442.7 450.6,441.4 451.5,440"/>
<polyline class="l" points="438.2,450.8 439.8,451 442.3,451.1 444,451.7 446.3,452.3 448.3,452.4 449.8,453.3 451.8,452.6 453.9,451.3 455.7,450.8 457.6,450.7 459.9,450.4 461.5,450"/>
<polyline class="l" points="433.2,441.7 434.4,443.3 435.3,445.4 435.7,447.5 436.5,449.1 438.2,450.8"/>
<polygon class="p" fill="#1C1F82" points="464,449.2 464.8,446.4 464.8,444.2 466.8,443.4 469,441.7 469.2,443.3 470.7,445 471.7,446.3 472.5,448.2 474,449.2 476.2,449.7 477,450.8 479,451.7 480.7,454.2 479.8,456.7 480.1,458.7 480.6,460.8 480.7,463.3 481.1,465.8 480.5,468.2 480.7,470 478.8,470.6 477.3,470.8 475.3,472 473.2,472.5 470.9,472.3 469,471.7 466.7,471.5 464.8,470.8 463,469.6 462.3,468.3 461.1,466.9 460.7,465 460.1,462.2 459.8,460 459.7,457.7 460.7,455 461.2,452.6 461.5,450"/>
<polygon class="p" fill="#93D4A7" points="419,447.5 420.6,447.2 422.9,448.4 424.8,448.3 426.7,449.4 427.3,450.8 428.4,451.9 429.8,453.3 429.9,454.9 430.5,457.1 431.5,458.3 432.9,459.1 434.8,460.6 435.7,461.7 436.6,463.5 438.2,465.8 439.8,466.8 442.3,467.5 444,469.2 445.7,470 447.3,469.4 449.5,469.1 450.7,468.3 452.3,469 454.2,469.2 456.5,469.2 457.3,467.3 457.3,465.8 459.1,465 460.7,465 461.1,466.9 462.3,468.3 463,469.6 464.8,470.8 466.7,471.5 469,471.7 470.9,472.3 473.2,472.5 472.3,473.3 471,474.7 470.7,476.7 470.5,478.7 470.4,480.8 469.8,483.3 471.2,484.8 472.3,486.7 473.2,487.9 473.2,490.4 474,491.7 474.7,493.7 476.5,495.8 476,498.4 475.7,500.8 473.8,502.6 471.3,503.3 469.8,505 467.4,505.7 465.7,506.7 463.6,506.4 461.5,505 460.1,503.4 459,500.8 457.1,498.9 455.7,497.5 454.4,496.9 452,496.3 450.7,495.8 448.8,495.4 447.6,494.3 445.7,494.2 444.1,492.8 442.3,491.7 442.5,489.7 441.5,487.5 441.1,486 440.7,483.6 439.8,482.5 438.5,480.9 437.3,479.2 436.5,477.2 436.5,475.8 437.6,473.6 438.2,471.7 435.8,471 433.2,470.8 430.9,471.4 428.2,471.7 425.8,471.4 423.2,470.8 422.4,469.1 421.5,466.7 419.7,465.8 419.1,464.2 417.3,463.3 417.7,461.3 418.4,459.3 419,457.5 419.5,455.1 419.8,452.5 419.1,449.9"/>
<polygon class="p" fill="#2569A8" points="452.3,474.2 453.8,476.3 455.7,477.5 457.9,477.9 460.7,477.5 463.1,476.4 464.8,475 466.2,476.6 467.3,478.3 468.7,479.8 469.8,481.7 470,484.1 470.3,485.8 468.9,487.1 466.5,487.5 464.4,488.8 462.3,489.2 460.3,488.3 457.3,488.3 455.3,487.3 454,485.8 452.8,484.1 450.7,482.5 449.1,481.8 448.2,480 449.8,477.5 451,475.3"/>
<polygon class="p" fill="#2569A8" points="423.2,470.8 425.8,471.4 428.2,471.7 430.9,471.4 433.2,470.8 435.8,471 438.2,471.7 437.6,473.6 436.5,475.8 436.5,477.2 437.3,479.2 438.5,480.9 439.8,482.5 440.7,483.6 441.1,486 441.5,487.5 442.5,489.7 442.3,491.7 442.3,493.8 441.5,495 440.5,496.5 439.8,498.3 439.6,500.4 438.2,502.5 437.3,500 436,500.5 434.4,501.5 432.3,501.7 431.1,502.5 428.7,503 427.3,503.3 424.6,504.3 422.3,504.2 419.5,505 417.3,505 414.9,505.1 412.3,505.3 410.5,505 408.8,504.5 407.3,503.3 404.7,502.2 403.2,500.8 403.5,498.8 402.2,496.8 402.3,495 402.7,493.3 402.7,491.3 403.2,489.2 404,487.2 404,485 405.6,484.2 407.3,483.1 409,482.5 411.3,482.6 412.8,482.5 414.8,481.7 416.7,480.2 419,479.2 419.7,477.3 420.7,475 421.7,472.6"/>
<polygon class="p" fill="#2569A8" points="441.5,495 443.5,494.8 445.7,494.2 447.6,494.3 448.8,495.4 450.7,495.8 452,496.3 454.4,496.9 455.7,497.5 457.1,498.9 459,500.8 460.1,503.4 461.5,505 463.6,506.4 465.7,506.7 466.3,508.7 467.3,510 469,510.5 470.7,510.8 470.8,513.3 471.5,515 471.6,517.3 470.7,520 471.2,522.7 471.5,525 469.1,526 467.3,526.7 465.9,528.2 464,529.2 464.3,531.8 464.8,534.2 465.5,536.5 465.7,539.2 463.7,540 462.3,541.7 460.4,541 459,539.5 457.3,539.2 456.1,537.2 454,535.8 451.7,535.3 449,535 447.3,534.5 445.2,534 444,533.3 442.7,532 441.5,530.9 440.7,529.2 439.1,527.6 438.2,525.8 436.3,524.4 434.8,523.3 432.8,524.1 430.7,525 428.6,524.4 426.5,524.2 424.1,524.6 422.3,525 422.7,523.2 423.9,522.2 424,520 424.5,517.6 424.8,515 423.7,512.9 422.3,510.8 422.9,509.2 424,507.5 424.6,505.9 426.3,504.8 427.3,503.3 428.7,503 431.1,502.5 432.3,501.7 434.4,501.5 436,500.5 437.3,500 438.2,502.5 439.6,500.4 439.8,498.3 440.5,496.5"/>
<polyline class="l" points="403.2,500.8 402.4,503.2 402.7,505.6 402.3,507.5 402.5,509.2 401.7,511.2 401.5,513.3 401.6,516 400.7,518.3 401.7,520.6 403.2,522.5"/>
<polygon class="p" fill="#1C1F82" points="403.2,522.5 405.4,523.4 407.3,524.2 408.8,525 410.2,525.3 412.3,525.8 414,525.3 415.4,524.3 417.3,524.2 420,524.7 422.3,525 424.1,524.6 426.5,524.2 428.6,524.4 430.7,525 432.8,524.1 434.8,523.3 436.3,524.4 438.2,525.8 439.1,527.6 440.7,529.2 441.5,530.9 442.7,532 444,533.3 445.2,534 447.3,534.5 449,535 451.7,535.3 454,535.8 456.1,537.2 457.3,539.2 458.3,541 459,543.3 458.2,545.3 457.3,546.7 455.8,548.4 454.8,550 456.5,551.4 459,552.5 460.2,553.9 462.4,554.7 464,555.8 465.8,557.8 466.5,560 467.7,561.3 469,562.5 467.7,564.9 466.5,566.7 466.6,569.5 466.2,571.8 465.6,573.9 465.7,576.7 463.1,577.1 461.1,577 458.8,576.8 455.9,576.4 453.5,576.7 451,576.3 448.9,576.6 446.4,577.1 444,576.7 443.4,574 442.2,571.8 440.5,569.6 439.7,567.6 439,565 437.2,564.8 434.8,564.2 433.3,562.8 432.1,561.7 430.7,560.8 429.3,558.9 428.2,556.7 427.8,554.8 427.3,552.5 425.6,550.4 424.8,548.3 424.6,545.4 424,543.3 422,543.2 419.8,541.7 418.1,542.1 415.9,542.6 414,543.3 411.3,543.8 409.8,545 409.7,547.4 409,550 406.9,550.3 404.8,551.7 403.1,551.1 400.7,550.8 398.9,549.8 397.3,547.5 398.4,545.3 399,543.3 400.5,542.5 401.6,540.8 403.2,539.2 405,537.6 405.7,535.8 404.5,534.1 403.2,531.7 402.2,529.3 400.7,527.5 401.5,525.4 402,523.8"/>
<polygon class="p" fill="#2569A8" points="409.8,545 411.3,543.8 414,543.3 415.9,542.6 418.1,542.1 419.8,541.7 422,543.2 424,543.3 424.6,545.4 424.8,548.3 425.6,550.4 427.3,552.5 427.8,554.8 428.2,556.7 426.1,557.4 424,558.3 422.2,558.6 420.7,560 419,560 416.6,560 414,560.8 412.2,560.1 410.7,559.3 409,558.3 407.2,557.5 405.9,555.9 404.8,555 403.2,554.1 401.6,553.2 400.7,551.7 402.9,551.7 404.8,551.7 406.9,550.3 409,550 409.7,547.4"/>
<polygon class="p" fill="#93D4A7" points="471.5,515 473.8,515.3 475.7,516.7 478.2,516.9 480.7,516.7 482.8,515 484,513.3 485.4,513.6 487.1,514.4 489,515 491.2,514.9 494,515.8 496.9,515.8 499,515 501.3,514.4 503.3,514.8 505.7,515 507.8,515.8 509.8,515.8 512.3,515.8 514.1,516.5 515.6,517 517.3,518.3 518.3,520 519.8,521.7 520.3,523.9 520.7,525.8 522.1,526.1 524,525.8 526.2,525.8 529,525 530.5,523.9 532.9,522.3 534,520.8 536.4,520.1 539,520 540.2,518.3 540.3,517.1 540.7,515 542.6,514.1 544.6,513.3 546.5,513.3 546.2,515.3 547.1,518 547.3,520 547.6,522.5 547.2,524.7 547.3,526.7 547.4,528.7 546.3,531.1 546.5,533.3 547,536 547.3,538.3 549.4,539.2 552.3,539.2 554.7,539.4 556.5,540 556.6,542.3 555.6,544.1 555.7,546.7 555.3,549.1 555,551 554.8,553.3 555.2,555.3 555,557.5 555.7,560 556.1,562.4 555.7,564.3 556.5,566.7 556.8,569.1 556.9,571.5 556.5,574.3 556.5,576.7 520.7,576.7 521.2,574 521.1,571.5 521.2,569.5 521.5,566.7 521.8,564.3 522.6,562.6 522.3,560.8 521,560.3 519.1,560.3 517.3,559.2 514.8,559.2 513.2,558.4 510.7,558.3 508.2,557.7 505.7,558.3 504.2,557.8 502.3,557.3 500.7,555.8 499,554.4 497.3,553.4 495.7,553 493.3,552.8 490.7,553.3 488.7,554.9 487.3,556.7 486.8,558.5 485,560.3 484,561.7 483.3,563.8 481.2,565 480.7,566.7 480,568.7 479.6,570.7 478.6,572.4 478.3,574.4 477.3,576.7 474.6,576.4 472.7,576.4 470.6,576.6 467.7,577.3 465.7,576.7 465.6,573.9 466.2,571.8 466.6,569.5 466.5,566.7 467.7,564.9 469,562.5 467.7,561.3 466.5,560 465.8,557.8 464,555.8 462.4,554.7 460.2,553.9 459,552.5 456.5,551.4 454.8,550 455.8,548.4 457.3,546.7 458.2,545.3 459,543.3 461,542.5 462.3,541.7 463.7,540 465.7,539.2 465.5,536.5 464.8,534.2 464.3,531.8 464,529.2 465.9,528.2 467.3,526.7 469.1,526 471.5,525 471.2,522.7 470.7,520 471.6,517.3"/>
<polygon class="p" fill="#2569A8" points="550.7,508.3 552.5,509.9 554.2,510.6 555.7,512.5 557.6,513.5 558.8,515 560.7,515.8 563,516.5 565.4,517.1 567.3,518.3 569.6,519.4 572,520 574,520.8 576.2,521.5 578.4,522.4 580.7,523.3 582.7,524.1 585.2,525.6 587.3,525.8 589.4,527.1 592.2,527.5 594,528.3 595.4,529.5 598,530 600.5,530.6 602.6,531.2 605.2,532.6 607.3,533.3 607.3,576.7 556.5,576.7 556.5,574.3 556.9,571.5 556.8,569.1 556.5,566.7 555.7,564.3 556.1,562.4 555.7,560 555,557.5 555.2,555.3 554.8,553.3 555,551 555.3,549.1 555.7,546.7 555.6,544.1 556.6,542.3 556.5,540 554.7,539.4 552.3,539.2 549.4,539.2 547.3,538.3 547,536 546.5,533.3 546.3,531.1 547.4,528.7 547.3,526.7 547.2,524.7 547.6,522.5 547.3,520 547.1,518 546.2,515.3 546.5,513.3 549,511.7 550.1,510.2"/>
<polygon class="p" fill="#93D4A7" points="365.7,460 368,460.5 370.1,460.4 372,460 374,460 376.5,460 379,459.2 380.5,460 382.4,461.4 384,461.7 385.3,462.6 387.3,464.1 389,465 390.2,465.8 391.9,466.3 394,466.7 396.9,466.8 399,467.5 401,469.2 403.2,470 404,471.8 404,474.2 405.8,475 407.5,476.3 409.8,476.7 411.2,477.7 413.5,477.6 415.7,478.3 417,478.5 419,479.2 416.7,480.2 414.8,481.7 412.8,482.5 411.3,482.6 409,482.5 407.3,483.1 405.6,484.2 404,485 404,487.2 403.2,489.2 402.7,491.3 402.7,493.3 402.3,495 400.3,495.4 399,496.7 396.6,497.4 395,498.1 392.3,498.3 390.3,499.1 387.5,499.8 385.7,500.8 383.6,500.2 380.7,500 378.6,500.7 377.1,501.5 375.7,502.5 372.9,503.1 371.1,503.8 368.4,503.9 365.7,505"/>
<polyline class="l" points="374,468.3 376.2,469.3 379,469.2 380.5,468.3 382.6,467.8 384,466.7 385.9,466.8 387.8,467.4 389,468.3 390.4,469.6 392.3,470"/>
<polyline class="l" points="374,473.3 376.4,474.1 378.5,475.2 380.7,475.8 382.9,476.5 385.3,475.9 387.3,476.7 389.8,477 391.4,476.5 394,475.8 396.3,475.1 399,475 401.5,474.2 404,474.2"/>
<polyline class="l" points="377.3,483.3 376.7,485.4 376.5,488.3 377.2,490.8 377.3,493.3 377.7,495 379,496.8 379,498.3 380.7,500"/>
<polygon class="p" fill="#93D4A7" points="365.7,425 368.1,424.7 370.9,425.9 372.9,425 375.7,425.8 376.2,428 377.3,430 378.5,430.9 380.7,431.7 379,433 377.3,434.2 376.5,435.4 375.7,437.5 376.9,439.1 378.2,440.8 379,443.3 379.4,445.5 379.8,447 380.7,449.2 381.2,451.1 382.3,452.5 382.3,454.2 380.7,455.9 379,456.7 377.2,456.8 375.6,458.3 374,458.3 371.5,458.3 369.9,458.7 367.8,460.1 365.7,460"/>
<polygon class="p" fill="#1C1F82" points="365.7,506.7 367.5,507.2 369.6,507.7 372,508.5 374,509.2 375.1,511.7 376.5,513.3 377.1,515.6 378.3,516.9 379,519.2 379.5,521.3 380.6,523.1 380.7,525 379.6,523.9 377.3,523.3 375.6,521.9 374,520.8 371.9,520.4 369.5,519.3 367.8,519.1 365.7,518.3 365.3,516.3 365.9,513.8 365.4,511.5 365.3,509.4"/>
<polyline class="l" points="374,526.7 376.6,526.9 379,527.5 381.5,527 383.9,526.8 385.7,525.8 388.4,526.4 390.7,526.7 391.2,528.8 392.3,530 391.6,531.3 390.4,532.8 389,534.2 386.5,534.7 384.6,535.8 382.3,535.8 380.5,536.5 378.1,535.7 376.1,536.5 374,536.7"/>
<polyline class="l" points="389,534.2 391.1,535.7 392.3,537.5 393.8,538.6 395.3,539.5 396.5,540.8 398.3,542 399,543.3"/>
<polyline class="l" points="387.3,540 386.6,542.8 384.9,544.7 384,546.7 382.5,547.9 380.7,548.3 378.4,548.9 376.5,549.1 374,549.2"/>
<polyline class="l" points="387.3,540 388.8,540.7 390.5,542.2 392.3,543.3 393.8,545.2 395.5,546.3 397.3,547.5"/>
<polygon class="p" fill="#FFFFFF" points="365.7,549.2 377.3,550 380.3,553.3 379,559.2 375.7,564.2 365.7,565.8"/>
<polygon class="p" fill="#1C1F82" points="390.7,569.2 392.9,567.8 393.6,565.6 395.7,564.2 397.3,563.9 399.1,563.5 400.7,562.5 402.3,564.2 400.8,565.9 399,567.5 398.1,569.6 396.7,572.4 395.8,574.5 394.8,576.7 392.7,576.6 390.7,577.3 389,576.7 390,574 390.2,571.9"/>
<polygon class="p" fill="#FFFFBF" points="412.3,569.2 413.5,567.6 415.3,567.1 416.5,565.8 418.1,564.6 419,563.3 419.8,564.6 421.5,565.8 419.9,567 418.2,568.3 417.9,570.8 417.2,572.4 416.6,574.4 415.7,576.7 413,576.6 410.7,576.7 411.1,574.5 412.2,571.5"/>
<polygon class="p" fill="#FFFFBF" points="434.8,564.2 437.2,564.8 439,565 439.7,567.6 440.5,569.6 442.2,571.8 443.4,574 444,576.7 441.7,576.2 438.9,576.7 436.6,576.6 434,576.7 433.7,574.6 433.9,571.4 435.1,569.2 434.6,567.1"/>
</g>
<g clip-path="url(#c8)">
<polygon class="p" fill="#37A7B8" points="213.3,563.3 276.7,563.3 276.8,565.7 276.3,567.7 276.5,570 275.8,571.7 274.7,574 274.2,575.8 272.6,577.8 270.8,579.2 270,580.4 267.7,581.6 266.7,582.5 265.2,583.3 263.3,585.1 261.7,585.8 259.8,587 257.5,588.3 255.8,589.9 255,591.7 254.7,593.6 255.9,595.7 255.8,597.5 254.5,598.3 253.3,600 251.2,599.4 250.2,598.4 248.3,597.5 246.9,595.6 244.6,594.8 243.3,593.3 242.1,591.9 239.7,591 238.3,589.2 236.6,588.4 235.2,587.9 233.3,587.5 231.6,585.8 229.8,585.2 228.3,583.3 226.3,581.7 224.7,580 223.3,578.3 221.9,576.1 220.2,574.8 218.3,573.3 217.2,572.3 215.7,570.5 214.2,570 214.3,567.7 214.1,565.4"/>
<polygon class="p" fill="#93D4A7" points="213.3,563.3 215.7,563.4 217.7,563.8 220.7,563.7 222.5,563.2 225.6,563.6 227.3,563.4 230,563.3 229.5,565.6 229.5,567.2 230.3,569.3 229.7,571.3 227.5,572 225.2,572.2 223.3,572.3 221,572.6 219.4,571.4 217.5,571.7 216.1,570.5 214.2,570 214.3,567.7 214.1,565.4"/>
<polyline class="l" points="240,569.2 240.3,571.5 239.2,573.2 239.2,575 239.3,577.5 240.3,579.2 240.8,581.7 241.4,583.9 241.7,586.7 242.5,588.6 242.7,590.8 243.3,593.3"/>
<polygon fill="#4A4A4A" fill-opacity="0.5" stroke="#4A4A4A" stroke-opacity="0.7" stroke-width="0.8" points="249.2,580 254.2,579.2 258.3,581.7 256.7,585.8 252.5,588.3 250,585.8"/>
<polygon fill="#4A4A4A" fill-opacity="0.5" stroke="#4A4A4A" stroke-opacity="0.7" stroke-width="0.8" points="256.7,572.5 263.3,570 270,569.2 273.3,573.3 269.2,577.5 263.3,579.2 258.3,577.5"/>
<polygon class="p" fill="#37A7B8" points="281.7,563.3 284.3,562.8 286.2,562.9 288.8,562.9 290.5,563 293.5,563.8 295.4,563.1 298,563 300,563.3 300,565.8 300.5,567.7 300.8,570 300.4,572 299.2,574.5 299.2,576.7 298.5,578.4 297.2,579.8 296.7,581.7 296.2,583.1 296.1,585 295,586.7 293.5,588.3 291.7,589.2 288.9,588.4 286.7,588.3 284.3,586.9 282.5,585.8 280.9,584.2 278.3,583.3 277.9,580.8 276.7,579.2 278.4,577.3 279.2,575 279.3,573 280.1,571.5 280.8,570 280.5,568.1 281.3,565.2"/>
<polygon fill="#4A4A4A" fill-opacity="0.5" stroke="#4A4A4A" stroke-opacity="0.7" stroke-width="0.8" points="279.2,576.7 285,575 291.7,574.2 296.7,576.7 293.3,583.3 288.3,586.7 282.5,585"/>
<polygon class="p" fill="#37A7B8" points="302.5,563.3 305.3,563.8 307.2,563.7 310,563.3 309.6,565.7 308.8,567.6 308.7,570.3 308.2,572.6 308.3,575 307.3,577.5 306.8,579.6 306.7,581.7 305.9,584 306,586.2 305.8,588.3 304.2,589.4 303.3,590.8 301.6,590.5 300,589.2 299.4,587.3 298.3,585 298.8,582.9 299,580.1 300,578.3 301,576.6 301.2,574.3 301.7,571.7 301.4,569.8 302.5,567.8 302.4,565.6"/>
<polygon class="p" fill="#37A7B8" points="312.5,563.3 355,563.3 354.6,565.3 354.2,567.9 354.2,570 354.2,571.8 353.7,574.3 354.2,576.7 353.9,579 353.4,581.3 352.5,583.3 350.4,584.9 348.3,585.8 347.3,588.1 345.8,590 344.7,591.8 344.6,593.1 343.3,595 341.6,596.4 340,598.3 338.1,599 336.4,598.9 335,600 332.8,601.5 330.8,601.7 330.9,603.7 331.7,605 330,605.7 328.3,607.5 326.4,609.1 324.2,610 322.3,610.2 320,609.2 317.6,608.9 315,609.7 313.5,608.7 311.9,607.9 310,607.5 307.5,605.8 308.1,604 309.1,602.2 309.2,600 309.4,598.3 309.8,596.9 310.8,595 312.3,593.7 313.6,591.8 314.2,590 315.2,587.7 316.7,586.7 315.5,585.5 315,583.3 313.7,585 312.5,585.8 310,586.7 309.1,584.9 309.2,582.5 309.8,580.9 310.1,578.6 310.8,576.7 311.9,574.5 311.3,572.5 312.5,570 312.5,567.4 312.8,565.6"/>
<polygon fill="#4A4A4A" fill-opacity="0.5" stroke="#4A4A4A" stroke-opacity="0.7" stroke-width="0.8" points="310,568.3 316.7,566.7 325,568.3 327.5,573.3 323.3,578.3 316.7,580 311.7,578.3"/>
<polygon class="p" fill="#93D4A7" points="341.7,563.3 383.3,563.3 382.8,565.1 383.1,567.6 383.7,569.3 383.3,571.7 381.1,571.7 379,572.6 376.5,572.3 374,572.5 371.5,572.3 369.4,572 366.7,572.5 364.7,572.1 362.2,572.3 360.5,571.9 358.3,571.7 356.6,570.5 355,570 353.6,570.6 351.9,571.9 350,572.5 348.1,572.8 346.8,573.6 345,574.2 343.4,572.5 341.7,571.7 341.7,569.5 341.1,567.6 341.9,565.2"/>
<polygon class="p" fill="#37A7B8" points="358.3,571.7 360.5,571.9 362.2,572.3 364.7,572.1 366.7,572.5 369.4,572 371.5,572.3 374,572.5 376.5,572.3 379,572.6 381.1,571.7 383.3,571.7 383.8,573.7 383.3,575.5 383.4,578 383.3,580 381,580.2 378.6,579 376.2,578.3 374,578.3 371.6,578.7 369,578.7 366.7,578.3 364.6,577.9 363.2,577.8 361.7,576.7 359.9,576 358.3,574.2"/>
<polygon class="p" fill="#FFFFBF" points="355,570 355.9,571.6 357,573.4 358.3,574.2 359.9,576 361.7,576.7 363.2,577.8 364.6,577.9 366.7,578.3 369,578.7 371.6,578.7 374,578.3 376.2,578.3 378.6,579 381,580.2 383.3,580 383.3,640 381.2,639.7 378.6,639.1 376.2,639.4 374,638.7 372.4,637.6 370,637.5 368.3,636.5 367,635.7 365,635 363.1,634.4 361.9,633.6 360,633.3 358.6,632.8 356.9,632.5 355,631.7 353.9,630.7 352.3,629.1 350.8,628.3 349,627 348.5,625.8 347.5,624.2 346.3,621.8 345,620 344.4,618.4 343.8,616.4 343.3,615 342.2,613.3 342.1,612.1 341.7,610 340.8,608.3 340,605.8 337.8,606.3 335,605.8 333.3,605.7 331.7,605 330.9,603.7 330.8,601.7 332.8,601.5 335,600 336.4,598.9 338.1,599 340,598.3 341.6,596.4 343.3,595 344.6,593.1 344.7,591.8 345.8,590 347.3,588.1 348.3,585.8 350.4,584.9 352.5,583.3 353.4,581.3 353.9,579 354.2,576.7 353.7,574.3 354.2,571.8 354.2,570"/>
<polygon class="p" fill="#37A7B8" points="258.3,600 259.8,599.1 261.4,598.9 263.3,598.3 265.9,597.9 267.5,596.2 270,595.8 271.9,594.7 274.4,594.4 276.7,593.3 278.8,592.4 280.7,592.8 282.5,592.5 284.9,593.5 286.7,594.2 288.4,595 290.2,595.9 291.7,597.5 293.6,598.2 295.4,598.7 296.7,600 296.5,602.1 295,604.2 293,604.7 291.7,605.8 289.4,606.9 287.5,607.5 285.8,608.9 284.4,610.4 283.3,611.7 281.7,613.1 281.7,614.9 280,616.7 279.4,618.3 278,619.4 276.7,620.8 275.3,622.6 274.3,623.9 273.3,625.8 272.5,627.4 271,628.6 270,630.8 270,632.6 269.2,634.2 267.4,633.6 265.8,631.7 264.5,633.1 263.3,634.2 261.7,635.2 260,635.8 257.9,635.2 255.8,635 253.3,633.3 253.4,630.9 253.1,628.5 253,626.7 252.8,624.8 253.3,622.6 253.3,620 254.1,617.5 253.6,615.5 254.2,613.3 254.8,611 255.6,608.8 255.8,606.7 257.2,604.9 257.5,602.5"/>
<polygon fill="#4A4A4A" fill-opacity="0.5" stroke="#4A4A4A" stroke-opacity="0.7" stroke-width="0.8" points="265,612.5 270,610 275,610.8 279.2,613.3 278.3,618.3 275,621.7 272.5,623.3 269.2,620 266.7,617.5"/>
<polygon fill="#4A4A4A" stroke="#4A4A4A" stroke-width="1" points="260,588.3 262,588 262.7,590 260.7,590.7"/>
<polygon fill="#4A4A4A" stroke="#4A4A4A" stroke-width="1" points="294.2,591 295.7,591 295.7,592.5 294.2,592.5"/>
<polygon fill="#4A4A4A" stroke="#4A4A4A" stroke-width="1" points="231.3,650.7 234.2,650 234.7,651.3 232,652.2"/>
<polygon class="p" fill="#2569A8" points="307.5,605.8 310,607.5 311.9,607.9 313.5,608.7 315,609.7 317.6,608.9 320,609.2 322.3,610.2 324.2,610 326.2,610.8 327.5,611.7 329.5,613.5 330.8,615 332,616.5 333.3,618.3 330.8,619.3 329.2,620.8 327.5,622.3 325.8,623.3 325.9,625.6 326.7,628.3 324.1,627.3 321.7,627.5 320.1,627.8 318.4,629.2 316.7,629.2 315.7,628.1 314.2,626.7 312,626 310,625 307.1,625.4 305,625.8 302,625 301.6,623 302.8,620.5 302.5,618.3 302.7,616.6 303.1,614.4 304.2,612.5 305.6,610.9 305.8,609.2 306.6,607.3"/>
<polygon class="p" fill="#37A7B8" points="302,625 305,625.8 307.1,625.4 310,625 312,626 314.2,626.7 315.7,628.1 316.7,629.2 318.3,631.7 317.2,633.6 315.8,635 315.4,637.7 314.2,639.2 311.8,639 310,638.3 307.3,638.1 305,637.5 303.2,637.3 300.8,636.7 301,634.7 301,632.9 301.7,630.8 302.3,629.1 301.6,626.8"/>
<polygon class="p" fill="#1C1F82" points="328.3,607.5 330,605.7 331.7,605 333.3,605.7 335,605.8 337.8,606.3 340,605.8 340.8,608.3 341.7,610 342.1,612.1 342.2,613.3 343.3,615 343.8,616.4 344.4,618.4 345,620 346.3,621.8 347.5,624.2 348.5,625.8 349,627 350.8,628.3 350.3,630.8 350,633.3 349.1,634.9 349.2,636.7 349.4,638.6 350.1,640.2 350.8,641.7 351.2,644.1 351.7,646.7 351.8,648.9 353.3,649.9 353.3,651.7 353.4,654 354.2,656.7 353,658.9 351.7,660.8 350.1,662.8 349.2,665 347.5,667.5 345.3,668 343.6,667.7 341.7,668.3 339.1,668.6 337,669 335,668.7 332.4,668.7 330,668.3 328.4,667.3 326.7,666.7 328.1,664.7 329.2,662.5 330.1,660.7 330.1,659.4 330.8,657.5 330.9,654.9 331.7,652.5 330.3,651.1 329.2,650 330.1,648.5 330.8,646.7 329.5,645 329.2,643.3 326.8,642.7 325,641.7 323.4,640.6 322.1,640.4 320,640 318.1,639.5 316.1,639.5 314.2,639.2 315.4,637.7 315.8,635 317.2,633.6 318.3,631.7 316.7,629.2 318.4,629.2 320.1,627.8 321.7,627.5 324.1,627.3 326.7,628.3 325.9,625.6 325.8,623.3 327.5,622.3 329.2,620.8 330.8,619.3 333.3,618.3 332,616.5 330.8,615 329.5,613.5 327.5,611.7 326.2,610.8 324.2,610 326.4,609.1"/>
<polyline class="l" points="329.2,643.3 331.4,642.4 333.3,641.7 335,640.3 336.4,639.6 337.5,638.3 338.5,636.6 340,634.2 342.1,635.3 344.2,635.8 347,636 349.2,636.7"/>
<polygon class="p" fill="#FFFFBF" points="300.8,636.7 303.2,637.3 305,637.5 307.3,638.1 310,638.3 311.8,639 314.2,639.2 316.1,639.5 318.1,639.5 320,640 322.1,640.4 323.4,640.6 325,641.7 326.8,642.7 329.2,643.3 329.5,645 330.8,646.7 330.1,648.5 329.2,650 330.3,651.1 331.7,652.5 330.2,653.1 328.3,654 326.7,654.2 325,655 323.3,656.7 322.8,659.3 321.7,660.8 320.5,661.7 318.4,662.4 316.7,662.5 314.3,663.4 311.7,663.3 309.6,661.6 307.5,660.8 305.5,662.2 303.3,662.5 301.4,662.2 300,660.8 298.2,659.6 296.7,659.2 295,658.9 292.5,658.3 292.6,656.2 291.7,654.2 293.2,653.1 295,651.7 295.7,650.2 296.7,648.4 296.7,646.7 296.2,643.9 296.7,641.7 298.2,640.4 299.2,638.3"/>
<polygon class="p" fill="#37A7B8" points="331.7,652.5 330.9,654.9 330.8,657.5 330.1,659.4 330.1,660.7 329.2,662.5 328.1,664.7 326.7,666.7 325.9,668.6 325,670 323.3,671.3 321.7,673.3 320.4,675.3 319.2,676.7 318.8,679.2 318.3,681.7 317.7,683.8 315.8,685.8 313.7,685.9 312.5,686.7 310.8,685.3 310,683.3 308.8,681.4 307.5,679.2 306.6,677.2 305.8,675 304,674.4 301.7,674.2 300.2,674 298.3,675 299,672.9 299.2,670.8 301,668.8 301.7,666.7 302.2,664.9 303.3,662.5 305.5,662.2 307.5,660.8 309.6,661.6 311.7,663.3 314.3,663.4 316.7,662.5 318.4,662.4 320.5,661.7 321.7,660.8 322.8,659.3 323.3,656.7 325,655 326.7,654.2 328.3,654 330.2,653.1"/>
<polygon class="p" fill="#FFFFBF" points="247.5,675.8 248.5,674.3 249.2,672.5 251.2,670.4 253,670.1 255,670 257.2,670.9 259.2,670.8 261.8,670.6 264.2,670.8 266,670 268.3,670 270.1,668.9 272.5,668.8 273.8,667.4 275.8,666.7 276.6,665 277.5,663.3 278.2,661.6 278.6,660.1 279.2,658.3 280.4,655.8 281.7,656.2 281.6,658.2 282.5,660 282.1,662.5 282.1,664.2 283.3,666.7 283.8,668.2 285,670 286.1,671.6 286.7,673.3 287.6,675 288.3,676.7 287.9,678.8 285,680 283.1,679.4 281.7,679.6 279.7,679.7 277.5,680 275.4,680.7 273.3,680.8 270.9,681 268.3,681.2 265.6,681.6 263.3,681.2 260.8,681.1 258.3,681.7 256,681.4 254.2,681.2 252.5,681.2 250.4,680.4 248.3,678.3"/>
<polygon class="p" fill="#FFFFBF" points="247.9,675.8 249.2,674.3 250,671.7 252.1,670.8 253.8,673.3 253.2,675.8 252.5,677.5 250,679.2 248.3,677.9"/>
<polygon class="p" fill="#FFFFBF" points="253.8,670.8 256.7,670 257.7,671.6 258.8,672.5 258.8,674.6 257.9,676.7 256.8,677.8 255.8,679.2 254.2,677.5 253.9,676 254.6,674.2 253.7,672.7"/>
<polygon class="p" fill="#FFFFBF" points="258.8,671.7 260.6,671.5 262.5,671.2 264,672 265,673.3 264.4,674.8 263.8,677.1 262.3,678.1 260.8,679.2 258.8,677.5 258.3,675.5 259.1,673.7"/>
<polygon class="p" fill="#FFFFBF" points="265,672.5 267.1,672 268.3,670.8 270,670.1 271.7,670.4 272.3,671.9 273.3,673.3 273,675.7 272.1,677.5 270,678.2 268.8,679.2 265.8,677.9 265.2,676.3 265.4,674"/>
<polygon class="p" fill="#FFFFBF" points="272.1,669.2 273.7,668.8 275,667.5 277.5,668.3 277.9,670.1 279.2,671.7 278.2,673.6 277.5,675.8 276.3,677.6 274.6,678.3 272.9,676.7 273.3,675.1 273.8,672.9 273.4,670.7"/>
<polygon class="p" fill="#FFFFBF" points="276.7,665 277.5,663.2 278.8,660.8 279,658.8 280,656.2 281.2,655.8 281.5,658.3 282.1,660 282.4,662.8 281.7,665 280.7,666.3 280.4,668.3 278.3,667.9 278,666.2"/>
<polygon class="p" fill="#FFFFBF" points="279.2,672.5 280,671.3 281.7,670 282.9,671 284.2,672.5 284.9,674.3 285.4,675.8 286.7,678.3 284.2,679.2 281.7,678.3 280,676.7 279.9,674.2"/>
<polygon class="p" fill="#FFFFBF" points="286.7,658.3 287.6,656.8 288.8,655 290.8,654.2 290.7,655.5 291.2,657.5 290,660.4 287.9,661.2"/>
<polygon class="p" fill="#FFFFBF" points="284.6,660 286.7,661.7 287.3,663.1 287.5,665 285.4,665.8 284.2,663.3 284,661.5"/>
<polygon class="p" fill="#FFFFBF" points="280.8,666.7 283.3,667.1 283.6,669.3 283.8,670.8 281.2,670 280.4,668.1"/>
<polygon class="p" fill="#FFFFBF" points="250.8,672.5 252.5,672.1 252.3,674.2 251,674.3"/>
<polygon class="p" fill="#FFFFBF" points="260,673.3 261.8,673.2 261.7,675.2 260.2,675.4"/>
<polygon class="p" fill="#FFFFBF" points="267.5,673.8 269.6,673.3 269.3,675.7 267.7,675.8"/>
<polygon class="p" fill="#FFFFBF" points="275,670.8 276.7,670.4 276.8,672.9 275.3,673.3"/>
<polyline class="l" points="249.2,678.3 251.2,678.4 252.5,677.9 254,678.7 255.8,679.6 257.2,679.4 259.2,678.8 260.8,679.7 262.5,680 264.2,679.1 265.8,679.2 267.4,679.7 269.2,680.4 271.5,679.7 273.3,679.2 275.3,679.4 276.7,679.6"/>
<polyline class="l" points="251.7,670.4 252.7,671.9 252.9,673.8 251.7,676.7"/>
<polyline class="l" points="257.1,670 257.1,672 256.2,674.2 256.6,675.9 257.5,678.3"/>
<polyline class="l" points="262.1,671 262.7,672.7 262.9,675 262.4,677.2 261.7,679.2"/>
<polyline class="l" points="267.5,670.4 266.9,672.2 266.7,674.2 267.2,676 267.9,678.3"/>
<polyline class="l" points="272.9,669.2 271.8,670.8 271.7,673.3 272.3,675.9 273.3,677.9"/>
<polyline class="l" points="277.9,665.8 277.5,667.8 276.7,670 277.8,672.2 278.3,674.2 277.3,676.1 277.1,678.3"/>
<polyline class="l" points="281.7,665.8 282.5,667.6 283.3,670 283,671.8 282.1,674.2 282.9,676.3 283.8,678.3"/>
<polyline class="l" points="250,674.2 252.6,674.3 255,675 257.3,674.7 260,674.2 262.6,675.2 265,675.4 267.5,675 270,674.2 272.1,675.1 275,675 277.7,674.4 280,674.2 282.7,674.8 285,675.4"/>
<polygon class="p" fill="#FFFFBF" points="292.5,658.3 295,658.9 296.7,659.2 298.2,659.6 300,660.8 301.4,662.2 303.3,662.5 302.2,664.9 301.7,666.7 301,668.8 299.2,670.8 299,672.9 298.3,675 297.4,676.3 296.3,678.1 295.8,680 293.7,681.9 291.7,682.5 289.9,681.8 287.5,680.8 285.7,678.7 285,676.7 284.7,674.3 284.8,672.3 284.2,670 285,667.9 284.4,666.5 285,664.2 286.5,662.5 287.5,660 289.3,659.7 290.9,658.4"/>
<polygon class="p" fill="#FFFFBF" points="298.3,675 300.2,674 301.7,674.2 304,674.4 305.8,675 306.6,677.2 307.5,679.2 308.8,681.4 310,683.3 310.8,685.3 312.5,686.7 311.5,688.3 310,689.2 308.2,690.6 306.7,692.5 304.2,694.2 306,695.4 307.5,697.5 308.7,699.4 310,700 308.8,701.3 307.5,703.3 305.6,703.1 303.8,702.8 301.7,702.5 299.4,702.2 296.7,701.7 294.5,701.8 293.6,702.4 291.7,703.3 290.2,702.5 288.3,701.7 286.4,700.2 285,699.2 284.3,697.6 282.6,696.2 281.7,695 281.4,693 282.1,690.5 282.5,688.3 283.5,685.5 283.3,683.3 285.4,681.5 287.5,680.8 289.9,681.8 291.7,682.5 293.7,681.9 295.8,680 296.3,678.1 297.4,676.3"/>
<polygon class="p" fill="#2569A8" points="255.8,685.8 257.6,685.1 260,684.2 262.7,683.6 265,683.3 267.3,682.3 269.2,682.5 270,685 268.6,686.2 266.7,686.7 265.3,687.4 263,688.5 261.7,689.2 259.9,689.5 257.5,690.3 255.3,688.3"/>
<polygon class="p" fill="#1C1F82" points="270,680.8 272,680.9 274.7,679.9 276.7,680 279.6,679.8 281.7,679.2 282,681.1 283.3,683.3 283.5,685.5 282.5,688.3 282.1,690.5 281.4,693 281.7,695 282.6,696.2 284.3,697.6 285,699.2 286.4,700.2 288.3,701.7 290.2,702.5 291.7,703.3 292.1,705.7 292.5,708.3 291.5,711 291.7,713.3 290,714.8 289.2,716.7 290.1,718.2 291.7,720 294.2,720.4 296.7,720.8 298.5,721.8 300.8,722.5 300.3,724.4 300.3,726 300,728.3 300.1,730.3 298.7,732.2 298.6,734.4 298.3,736.7 265,736.7 264.8,734.4 263.9,732.4 263.9,730 263.3,728.3 262.6,726.2 262.2,723.6 261.7,721.7 261.3,719.5 260.9,717.6 260.8,715 260.1,712.5 260.5,710.2 260,708.3 260,706.1 260.4,703.6 260.8,701.7 260.1,700 258.9,698.4 258.3,696.7 258.8,694.6 259.2,691.7 257.5,690.3 259.9,689.5 261.7,689.2 263,688.5 265.3,687.4 266.7,686.7 268.6,686.2 270,685 269.2,682.5"/>
<polyline class="l" points="263.3,723.3 264.8,722.4 266.6,721.6 268.3,720.8 270.2,720.2 271.9,719.5 273.3,718.3 275.3,717.7 277.6,717.8 280,716.7 282.2,716.1 285,715.8 287.2,716 289.2,716.7"/>
<polyline class="l" points="289.2,716.7 287.6,718 287.6,720.1 285.8,721.7 285.1,723.5 284.8,725 284.2,726.7 284.2,729.2 285,730.8"/>
<polygon class="p" fill="#FFFFBF" points="291.7,703.3 293.6,702.4 294.5,701.8 296.7,701.7 299.4,702.2 301.7,702.5 303.8,702.8 305.6,703.1 307.5,703.3 308.8,701.3 310,700 312.5,700.8 314.2,701.7 316.6,701.5 318.3,700.8 319.1,703.2 320,705 321.6,706.8 323.3,708.3 325.1,709.3 326.7,710.8 327.4,712.8 328.3,715 327.8,716.5 327,718.2 326.7,720 324.4,721.5 323.3,723.3 321.6,725 320,726.7 318.1,728 316.7,729.2 315.6,730.6 315.4,732.9 314,734.8 313.3,736.7 311.1,737.1 308,736.2 306.2,737.2 303.5,736.9 301,737 298.3,736.7 298.6,734.4 298.7,732.2 300.1,730.3 300,728.3 300.3,726 300.3,724.4 300.8,722.5 298.5,721.8 296.7,720.8 294.2,720.4 291.7,720 290.1,718.2 289.2,716.7 290,714.8 291.7,713.3 291.5,711 292.5,708.3 292.1,705.7"/>
<polyline class="l" points="300.8,718.3 303,717.3 305,717.5 307.1,717.9 309.2,718.3 308.6,720.5 308.3,723.3 306.5,725.2 305.8,727.5 303.7,727.6 301.7,726.7 301.4,724.6 300.8,722.5"/>
<polygon class="p" fill="#1C1F82" points="312.5,686.7 313.7,685.9 315.8,685.8 316.9,686.7 318.3,687.9 320,689.2 321.6,689.7 323.3,691.3 325,691.7 327.1,692.2 328.7,692.6 330.8,692.5 330.6,694.5 331.7,696.7 330.5,698.6 329.2,700.8 327.7,703.2 326.7,705 326,706.7 324.2,708.3 322.2,707.3 321.6,705.5 320,705 319.1,703.2 318.3,700.8 316.6,701.5 314.2,701.7 312.5,700.8 310,700 308.7,699.4 307.5,697.5 306,695.4 304.2,694.2 306.7,692.5 308.2,690.6 310,689.2 311.5,688.3"/>
<polygon class="p" fill="#2569A8" points="325,670 325.9,668.6 326.7,666.7 328.4,667.3 330,668.3 332.4,668.7 335,668.7 334.4,671.1 335,673.3 336.5,674.4 337.5,676.7 337.4,678.6 337.5,681.3 338.3,683.3 338.3,685.5 338.6,687.5 339.2,690 339.7,692.5 340,695 337.2,694.3 335,694.2 332.9,693.3 330.8,692.5 328.7,692.6 327.1,692.2 325,691.7 323.3,691.3 321.6,689.7 320,689.2 318.3,687.9 316.9,686.7 315.8,685.8 317.7,683.8 318.3,681.7 318.8,679.2 319.2,676.7 320.4,675.3 321.7,673.3 323.3,671.3"/>
<polygon class="p" fill="#93D4A7" points="335,668.7 337,669 339.1,668.6 341.7,668.3 343.6,667.7 345.3,668 347.5,667.5 347.8,669.4 348.4,671.4 348.3,673.3 349.1,675.6 349.2,678.3 350,679.8 351.5,680.9 352.5,682.5 351.6,684.6 351.7,686.7 350.5,687.5 348.6,689.1 347.5,690 346.7,691.2 345.9,693 345.8,695 346.4,697.2 346.7,700 345.5,701.7 345,704.2 346.5,705.6 348.3,706.7 349.6,705.3 351.4,703.9 352.5,701.7 354.3,702.7 355.4,703.5 356.7,705 358.3,706.6 359.2,709.2 359.7,711.5 360,713.3 359.7,715.5 358.8,716.5 358.3,718.3 356.2,719.4 355,720.8 354.7,722.5 354.2,725 352,725.6 350,726.7 347.4,726.4 345,725.8 343.2,724.8 342,724.6 340,724.2 338.5,723.3 336.3,723 335,721.7 333.3,721.1 330.8,720.8 329.7,719 329,717.1 328.3,715 327.4,712.8 326.7,710.8 325.3,710 324.2,708.3 326,706.7 326.7,705 327.7,703.2 329.2,700.8 330.5,698.6 331.7,696.7 330.6,694.5 330.8,692.5 332.9,693.3 335,694.2 337.2,694.3 340,695 339.7,692.5 339.2,690 338.6,687.5 338.3,685.5 338.3,683.3 337.5,681.3 337.4,678.6 337.5,676.7 336.5,674.4 335,673.3 334.4,671.1"/>
<polyline class="l" points="328.3,715 330.7,714.6 332.9,714.3 335,714.2 336.9,713.3 339.4,713.9 341.2,713.5 343.3,712.5 345.7,712.1 347.2,711.6 349.6,711.7 351.7,711.7 354.5,711.2 356.7,711.6 359.2,710.8"/>
<polygon class="p" fill="#2569A8" points="350.8,628.3 352.3,629.1 353.9,630.7 355,631.7 356.9,632.5 358.6,632.8 360,633.3 361.9,633.6 363.1,634.4 365,635 367,635.7 368.3,636.5 370,637.5 369.5,640.2 368.3,641.7 368.4,643.2 367.1,644.9 366.7,646.7 367,649.3 367.5,651.7 368.5,652.8 370.2,654.1 371.7,655 372.7,656.8 374,658.3 376,658.5 378.3,659.6 381.1,659.5 383.3,660 383.4,662.5 383.2,665.4 383.4,667.3 383.3,670 381.3,670.1 378.5,669.8 376.6,669.8 374,670 371.4,671 370,672.5 367.5,672.6 365,671.7 362.8,671.3 360,670.8 358.6,670.7 356.7,670 355,669.2 352.9,668.2 351.1,667 349.2,665 350.1,662.8 351.7,660.8 353,658.9 354.2,656.7 353.4,654 353.3,651.7 353.3,649.9 351.8,648.9 351.7,646.7 351.2,644.1 350.8,641.7 350.1,640.2 349.4,638.6 349.2,636.7 349.1,634.9 350,633.3 350.3,630.8"/>
<polygon class="p" fill="#1C1F82" points="347.5,667.5 349.2,665 351.1,667 352.9,668.2 355,669.2 356.7,670 358.6,670.7 360,670.8 362.8,671.3 365,671.7 367.5,672.6 370,672.5 371.4,671 374,670 376.6,669.8 378.5,669.8 381.3,670.1 383.3,670 383.3,711.7 381.3,711.5 378.8,711.4 376.5,711.2 374,711.7 372.3,712.6 371.7,714.2 370,715 368.7,716.1 366.7,716.7 364.6,715.1 363.3,713.3 361.8,711.9 360.9,710.3 359.2,709.2 358.3,706.6 356.7,705 355.4,703.5 354.3,702.7 352.5,701.7 351.4,703.9 349.6,705.3 348.3,706.7 346.5,705.6 345,704.2 345.5,701.7 346.7,700 346.4,697.2 345.8,695 345.9,693 346.7,691.2 347.5,690 348.6,689.1 350.5,687.5 351.7,686.7 351.6,684.6 352.5,682.5 351.5,680.9 350,679.8 349.2,678.3 349.1,675.6 348.3,673.3 348.4,671.4 347.8,669.4"/>
<polyline class="l" points="375,673.3 373.2,674.3 371.7,675.1 370,676.7 369.9,678.7 369.4,679.9 368.3,681.7 368.8,683.8 370,685.8 371.7,686.3 373.2,686.9 375,687.5"/>
<polygon class="p" fill="#1C1F82" points="370,637.5 372.4,637.6 374,638.7 376.2,639.4 378.6,639.1 381.2,639.7 383.3,640 383.4,642.7 383.3,645.2 383.8,647.4 382.7,649.8 382.9,652.2 383.8,655.2 383.8,657.5 383.3,660 381.1,659.5 378.3,659.6 376,658.5 374,658.3 372.7,656.8 371.7,655 370.2,654.1 368.5,652.8 367.5,651.7 367,649.3 366.7,646.7 367.1,644.9 368.4,643.2 368.3,641.7 369.5,640.2"/>
<polygon class="p" fill="#FFFFBF" points="366.7,716.7 368.7,716.1 370,715 371.7,714.2 372.3,712.6 374,711.7 376.5,711.2 378.8,711.4 381.3,711.5 383.3,711.7 383.3,714.1 382.8,716.3 383.1,719.3 383.7,721.9 383.6,724.3 383.1,726.7 382.8,729.5 383.5,731.9 382.9,734.5 383.3,736.7 341.7,736.7 342.1,734.8 342.2,732.3 343.3,730 341.7,728.6 340,726.7 342.9,726.5 345,725.8 347.4,726.4 350,726.7 352,725.6 354.2,725 354.7,722.5 355,720.8 356.2,719.4 358.3,718.3 358.8,716.5 359.7,715.5 360,713.3 361.3,713 363.3,713.3 364.6,715.1"/>
<polygon class="p" fill="#37A7B8" points="330.8,720.8 333.3,721.1 335,721.7 336.3,723 338.5,723.3 340,724.2 340,726.7 337.7,727 335.8,727.5 335.2,729.9 335.8,731.9 334.7,734.3 335,736.7 332.4,736.2 330.5,736.9 328.2,736.9 325.6,736.8 323.8,736.7 321.6,736.3 319.1,736.9 316.7,736.7 316.7,734 316.4,731.8 316.7,729.2 318.1,728 320,726.7 321.6,725 323.3,723.3 324.4,721.5 326.7,720 327,718.2 327.8,716.5 328.3,715 329,717.1 329.7,719"/>
<polygon class="p" fill="#2569A8" points="335.8,727.5 337.7,727 340,726.7 341.7,728.6 343.3,730 342.2,732.3 342.1,734.8 341.7,736.7 339.7,736.2 336.9,736.1 335,736.7 334.7,734.3 335.8,731.9 335.2,729.9"/>
<polyline class="l" points="297.5,728 299.2,728.3 301.6,728.5 303.3,729.5 305.5,729.4 307.8,729.9 310,729.7 312.2,728.4 314,727.8 316.7,727.5"/>
</g>
<g clip-path="url(#c9)">
<polygon class="p" fill="#1C1F82" points="404,595 449,588.3 454,625 414,625"/>
<polygon class="p" fill="#2569A8" points="557.3,563.3 607.3,563.3 607.3,610.8 605.3,612 602.8,611.6 600,613 598,613.7 595.8,614.1 593.5,615.5 591.2,616.1 588.6,617 585.5,616.8 583.7,618.5 581.3,618.5 578.9,619 576.1,619.7 574,620.8 573.7,618.7 574.4,616 574.5,613.4 574.2,611.4 574.5,608.9 574.3,606.8 574,604.2 572.8,604.9 570.6,604.7 569,605.8 567.6,606.5 565.8,607.7 564.8,609.2 564.5,607.6 564.6,605.1 564,603.3 562.9,601.2 563,599.2 562.3,596.7 561.5,594.6 560.3,591.7 559,590 559.9,588.6 562.1,587.5 563.2,585.8 562.3,584.1 561.9,582.2 560.7,580 559.7,578.2 558.8,576.4 558.2,575 558.2,572.8 557.4,570.2 557.9,568.3 557.3,565.7"/>
<polygon class="p" fill="#93D4A7" points="521.5,563.3 557.3,563.3 557.3,565.7 557.9,568.3 557.4,570.2 558.2,572.8 558.2,575 558.8,576.4 559.7,578.2 560.7,580 561.9,582.2 562.3,584.1 563.2,585.8 562.1,587.5 559.9,588.6 559,590 560.3,591.7 561.5,594.6 562.3,596.7 563,599.2 562.9,601.2 564,603.3 564.6,605.1 564.5,607.6 564.8,609.2 563.5,611.3 562.3,612.5 560.8,611.6 559.3,610.9 557.3,610 554.6,609.2 552.3,609.2 550.7,610.4 549.2,610.7 547.3,611.7 545.9,611 543.8,610.6 542.3,610 540.1,610.9 538.2,610.8 537.8,608.3 538.5,605.9 538.2,603.3 537.8,601.2 537.4,599.3 537.1,597 537.3,595 537.1,593 537,590.3 536.5,588.3 534.3,588.3 532.4,586.8 530.7,586.7 528.7,587 525.9,586.4 524,585.8 522.1,586.6 519.8,586.7 520,584.8 520.6,582.5 520.7,580 521,578.1 520.3,575.5 519.8,573.3 519.8,570.6 521.2,568.1 521.7,565.8"/>
<polygon class="p" fill="#2569A8" points="538.2,610.8 540.1,610.9 542.3,610 543.8,610.6 545.9,611 547.3,611.7 549.2,610.7 550.7,610.4 552.3,609.2 554.6,609.2 557.3,610 559.3,610.9 560.8,611.6 562.3,612.5 563.5,611.3 564.8,609.2 565.8,607.7 567.6,606.5 569,605.8 570.6,604.7 572.8,604.9 574,604.2 574.3,606.8 574.5,608.9 574.2,611.4 574.5,613.4 574.4,616 573.7,618.7 574,620.8 571.9,621.2 569.5,622.8 567.1,623.2 564.2,623.9 562,625.3 559.8,625.7 557.3,626.7 555.2,628.1 553.3,628.6 551.1,629.6 548.2,630 546.2,631.1 544,631.7 541.7,632.6 539.8,634.3 537.6,634.6 535.7,635.8 534.2,637.3 532.1,638.4 530.7,640 529.4,641.3 528.1,643.3 527.3,645 526.2,647.5 524.1,648.7 523.2,650.8 521.9,652 520.7,653.3 519.1,652 517.5,650.5 515.7,650 513.8,649.2 512.3,649.4 510.7,648.3 509,647.2 506.5,646.7 506.2,644.5 505.7,641.7 506.8,639.9 509,638.3 507,637.1 505.7,635.8 503.6,635.4 501,635.4 499,635 498.3,633.2 497.4,631.5 497.3,630 498,628 499,625.8 501.3,624.3 502.3,622.5 503.8,621.1 505.7,620 507,621.7 507.3,623.3 508.4,624.7 508.9,626.9 509.8,628.3 511.6,628.6 513.8,628.2 515.7,627.5 517.8,627.8 519.9,626.6 522.3,626.7 524.4,625.5 527,624.5 529,624.2 530.9,623.3 533.2,623.8 534.8,623.3 535.7,621.8 536.5,620 536.5,618.3 536.4,616.5 537.3,614.2 538.3,612.6"/>
<polygon class="p" fill="#2569A8" points="495.7,578.3 497.5,579.4 498.6,579.9 500.7,580.8 502.4,581.3 505,582.2 506.5,583.3 508.2,584.1 510.7,585 511.6,583.8 512.7,582 514,580.8 515.6,582.4 517.3,583.3 518.4,585.3 519.8,586.7 522.1,586.6 524,585.8 525.9,586.4 528.7,587 530.7,586.7 532.4,586.8 534.3,588.3 536.5,588.3 537,590.3 537.1,593 537.3,595 537.1,597 537.4,599.3 537.8,601.2 538.2,603.3 538.5,605.9 537.8,608.3 538.2,610.8 538.3,612.6 537.3,614.2 536.4,616.5 536.5,618.3 536.5,620 535.7,621.8 534.8,623.3 533.2,623.8 530.9,623.3 529,624.2 527,624.5 524.4,625.5 522.3,626.7 519.9,626.6 517.8,627.8 515.7,627.5 513.8,628.2 511.6,628.6 509.8,628.3 508.9,626.9 508.4,624.7 507.3,623.3 507,621.7 505.7,620 506.1,617.4 506.5,615 505.9,613.2 505.7,611.7 507.2,610.2 509,608.3 510.7,606.4 511.5,604.2 510,602.3 509,600.8 506.3,600.2 504,600 503.3,598.4 501.5,596.7 500.5,594.9 499.8,592.5 498.5,591.1 497.7,589.8 496.5,588.3 495.3,586.7 494.8,584.2 495.2,582.1 495.1,580.5"/>
<polygon class="p" fill="#37A7B8" points="467.3,563.3 521.5,563.3 521.7,565.8 521.2,568.1 519.8,570.6 519.8,573.3 520.3,575.5 521,578.1 520.7,580 520.6,582.5 520,584.8 519.8,586.7 518.4,585.3 517.3,583.3 515.6,582.4 514,580.8 512.7,582 511.6,583.8 510.7,585 508.2,584.1 506.5,583.3 505,582.2 502.4,581.3 500.7,580.8 498.6,579.9 497.5,579.4 495.7,578.3 493.4,579.7 491.5,580 489.5,580.1 487.3,580.8 485,580.2 483,579.6 480.7,579.2 478.6,578.9 477.3,577.5 475.7,577.5 474.2,577.1 472.4,576.2 470.7,575 469.4,573.8 467.3,573.3 466.5,574.9 464.8,576.7 464.4,575.2 463.8,573 463.2,571.7 464.2,569.3 465.1,567.5 465.6,565.5"/>
<polygon class="p" fill="#1C1F82" points="445.7,563.3 448.4,562.9 450.7,563.7 453.2,562.7 455.6,563.8 458,563 460.4,563.5 462.9,563 464.6,563.7 467.3,563.3 466.2,565.2 465.9,567.6 465.4,569.3 464.8,571.7 464.3,573.7 463.2,575.8 462,577.4 459.8,578.3 458,577.7 456.5,576.7 454.5,575.7 452.3,574.2 450.6,572.7 448.2,571.7 448,569.5 447.3,567.2 446.8,565.3"/>
<polygon class="p" fill="#93D4A7" points="464.8,576.7 466.5,574.9 467.3,573.3 469.4,573.8 470.7,575 472.4,576.2 474.2,577.1 475.7,577.5 477.3,577.5 478.6,578.9 480.7,579.2 483,579.6 485,580.2 487.3,580.8 489.5,580.1 491.5,580 493.4,579.7 495.7,578.3 495.1,580.5 495.2,582.1 494.8,584.2 495.3,586.7 496.5,588.3 497.7,589.8 498.5,591.1 499.8,592.5 500.5,594.9 501.5,596.7 503.3,598.4 504,600 506.3,600.2 509,600.8 510,602.3 511.5,604.2 510.7,606.4 509,608.3 507.2,610.2 505.7,611.7 505.9,613.2 506.5,615 506.1,617.4 505.7,620 503.8,621.1 502.3,622.5 501.3,624.3 499,625.8 497.3,628.3 496.3,626.4 496.8,625.1 495.7,623.3 494.8,621.6 495.1,620.1 494,618.3 494,616.2 494.5,614.5 494.8,612.5 494,610.8 494,609.2 491.9,609.2 489,609.2 486.6,609.4 484,610 482.5,609.2 480.2,609.2 479,608.3 476.5,608.3 474,608.3 472.5,610.1 471.5,612.5 470.5,614.2 469.8,616.7 468,617.5 465.7,617.8 464,617.5 461.8,618.5 459.9,618.5 457.3,619.2 455.3,619.9 453.6,619.9 451.5,620 451.7,617.2 452.3,615 454,614.2 454.8,612.5 453.9,611 452.3,609.2 452.1,607.2 450.7,605 452.5,602.8 453.2,600.8 454.2,599.8 456,599.1 457.3,597.5 458.8,596.4 460.7,596.3 462.3,595 464.8,594 466.5,592.5 467.6,591.5 469.3,589.8 470.7,589.2 471.7,588.1 473.2,586.7 472.6,584.6 471.5,583.3 469.7,582 467.3,580.8 465.9,581.3 464,582.5 462.9,584.3 460.7,585.8 459.1,584.3 457.3,583.3 457.9,581.8 457.3,580 459.3,579.5 460.7,578.3 462.7,577.7"/>
<polygon class="p" fill="#37A7B8" points="365.7,563.3 433.2,563.3 432.7,565.4 432.8,567.4 433.3,569.2 433.2,571.7 432.7,573.8 432.5,576.1 432.3,578.3 431.9,580.5 431.5,582.3 431.5,584.2 430.3,586.7 429,588.3 426.4,588.1 424,587.5 422,588.4 419.8,589.2 420,591.1 420.7,592.9 420.7,595 420.7,596.9 419.5,598.4 419,600 417.2,599.1 415.7,599.2 413.9,598.3 412.3,596.7 409.8,598.3 408.1,600 406.5,600.8 405.6,599.1 404,597.5 402.6,595.4 400.7,594.2 399.2,594 397.3,595 395.6,596 394.5,596.9 392.3,597.5 389.7,597.3 388,598 385.7,598.3 383.3,598.5 381.4,597.3 379,597.5 377.6,597.2 376,596.5 374,595.8 371.9,595.8 370,594.9 367.5,594.7 365.7,595"/>
<polyline class="l" points="393.2,593.3 394,591 395.7,589.2 397.3,587.9 399.3,587.7 401.5,586.7 402.9,585.9 405.3,585.7 407.3,585.3 409.1,586 410.9,586.6 413.2,586.7 414.9,588.1 417.3,589.2 419.8,589.2"/>
<polygon class="p" fill="#FFFFBF" points="406.5,571.7 407.8,570.4 409.8,569.2 411.4,569.7 414.1,568.9 415.7,569.2 417.2,570.4 417.7,571.7 416.3,572.8 414.8,574.2 412.5,574.2 409.8,573.7 408.1,573.2"/>
<polygon class="p" fill="#1C1F82" points="390.7,568.3 392.8,568.1 395.3,568 397.3,568.3 397.2,570.3 396.5,571.7 394.4,572 392.3,571.3 391.9,569.6"/>
<polygon class="p" fill="#FFFFBF" points="433.2,563.3 435.5,562.7 438,563.1 440.9,563 443,563.8 445.7,563.3 446.8,565.3 447.3,567.2 448,569.5 448.2,571.7 450.6,572.7 452.3,574.2 454.5,575.7 456.5,576.7 456.7,578.1 457.3,580 455.7,580.8 453.9,581.3 452.3,582.3 450.7,582.5 450,584.3 450.4,586.2 449.8,588.3 448.2,590.8 445.6,590.7 444,591.7 441.9,592.4 439.8,593.3 438,594.4 435.7,595 433.6,596 431.5,597.5 430.9,599.7 429,601.7 428.2,603.5 427.3,604.8 426.5,606.7 425.3,608.8 424,610 421.5,610.5 419,610.8 416.8,611.3 414.8,611.7 415.5,609.4 415.7,607.5 417.5,605.5 418.2,603.3 418.3,601.8 419,600 419.5,598.4 420.7,596.9 420.7,595 420.7,592.9 420,591.1 419.8,589.2 422,588.4 424,587.5 426.4,588.1 429,588.3 430.3,586.7 431.5,584.2 431.5,582.3 431.9,580.5 432.3,578.3 432.5,576.1 432.7,573.8 433.2,571.7 433.3,569.2 432.8,567.4 432.7,565.4"/>
<polygon class="p" fill="#FFFFBF" points="450.7,582.5 452.3,582.3 453.9,581.3 455.7,580.8 457.3,580 457.9,581.8 457.3,583.3 459.1,584.3 460.7,585.8 462.9,584.3 464,582.5 465.9,581.3 467.3,580.8 469.7,582 471.5,583.3 472.6,584.6 473.2,586.7 471.7,588.1 470.7,589.2 469.3,589.8 467.6,591.5 466.5,592.5 464.8,594 462.3,595 460.7,596.3 458.8,596.4 457.3,597.5 456,599.1 454.2,599.8 453.2,600.8 452.5,602.8 450.7,605 452.1,607.2 452.3,609.2 453.9,611 454.8,612.5 452.3,611.7 451,611 449,610 448.1,607.7 447.3,605.8 447.3,603.4 446.5,600.8 447.1,599.3 447.5,596.7 448.2,595 448.7,592.9 449,590.5 449.8,588.3 450.4,586.2 450,584.3"/>
<polygon class="p" fill="#FFFFBF" points="365.7,595 367.5,594.7 370,594.9 371.9,595.8 374,595.8 376,596.5 377.6,597.2 379,597.5 381.4,597.3 383.3,598.5 385.7,598.3 388,598 389.7,597.3 392.3,597.5 394.5,596.9 395.6,596 397.3,595 399.2,594 400.7,594.2 402.6,595.4 404,597.5 405.6,599.1 406.5,600.8 408.4,602.3 409.8,603.3 411.2,605.1 412.3,607.5 414,609.5 414.8,611.7 416.8,611.9 419,612.5 420.4,613.4 422.3,614.2 421.1,615.5 419.3,615.9 418.2,617.5 417.1,619.2 415.7,620 414.9,622.2 414.8,624.2 415.5,626.1 416.5,627.5 417.6,629.6 419,630.8 418.2,633 417.3,635 416.4,636.4 414.8,638.3 413.2,640 411.5,641.7 409.9,642.6 408.6,643.3 407.3,645 406,646.5 404,647.5 402.1,648.8 400.7,650.8 398.5,649.2 397.3,647.5 395.3,646.3 394,645 391.7,644.8 389,644.2 387,643.8 385.9,642.9 384,641.7 382.2,640.3 380.6,640 379,639.2 376.9,638.9 375.3,638.3 374,637.5 371.6,637.7 369.7,637.1 367.9,637.5 365.7,636.7"/>
<polygon class="p" fill="#1C1F82" points="406.5,600.8 408.1,600 409.8,598.3 412.3,596.7 413.9,598.3 415.7,599.2 414.9,600.9 414.8,603.3 415.4,605.6 416.5,607.5 415.8,609.7 414.8,611.7 414,609.5 412.3,607.5 411.2,605.1 409.8,603.3 408.4,602.3"/>
<polygon class="p" fill="#1C1F82" points="448.2,590.8 447.4,593 447.3,595 447.4,596.6 447,599.3 446.5,600.8 445.3,602.6 444.9,604.6 444,605.8 442.8,607.6 442.3,610 442.2,612.2 441.5,615 442.1,616.6 442.9,618.2 443.2,620 445.5,621.1 447.3,622.5 448,625 448.2,627.5 447.2,629.4 445.7,631.7 444.9,633.6 444,635.8 444,638.3 443.2,640 441.6,642 439.9,643 438.2,644.2 436.3,645.8 434.7,646.6 433.2,648.3 432.2,650.1 430.7,650.9 429,652.5 427.5,654 426.4,655.8 424.8,657.5 423.6,658.5 421.5,659.6 420.7,660.8 419.2,661.7 417.4,662.7 415.7,663.3 413.8,664.5 411.5,665.3 410.3,663.3 408.9,662.6 407.3,660.8 406.4,659.3 405.4,657.6 404,655.8 402.6,653.9 401.6,652.6 400.7,650.8 402.1,648.8 404,647.5 406,646.5 407.3,645 408.6,643.3 409.9,642.6 411.5,641.7 413.2,640 414.8,638.3 416.4,636.4 417.3,635 418.2,633 419,630.8 417.6,629.6 416.5,627.5 415.5,626.1 414.8,624.2 414.9,622.2 415.7,620 417.1,619.2 418.2,617.5 419.3,615.9 421.1,615.5 422.3,614.2 420.4,613.4 419,612.5 416.8,611.9 414.8,611.7 416.8,611.3 419,610.8 421.5,610.5 424,610 425.3,608.8 426.5,606.7 427.3,604.8 428.2,603.5 429,601.7 430.9,599.7 431.5,597.5 433.6,596 435.7,595 438,594.4 439.8,593.3 441.9,592.4 444,591.7 445.6,590.7"/>
<polygon class="p" fill="#2569A8" points="444,605.8 445.4,606.9 446.5,609.2 449,610 451,611 452.3,611.7 452.1,613.9 451.5,615.8 451.3,617.8 449.8,620 449,621.6 447.3,622.5 445.5,621.1 443.2,620 442.9,618.2 442.1,616.6 441.5,615 442.2,612.2 442.3,610 442.8,607.6"/>
<polyline class="l" points="429,601.7 430.7,603.1 433.2,604.2 436,604 438.2,603.3 440.4,602.2 442.3,600.8 444.3,600.4 446.5,600.8"/>
<polyline class="l" points="433.2,604.2 434.2,605.8 435.4,607.3 436.5,608.3 438.5,608.9 440.4,610 442.3,610"/>
<polyline class="l" points="415.7,620 417.7,619.6 419.9,619.3 422.3,619.2 424.7,619.2 426.6,619.8 429,620 429.9,622.3 429.8,625 430.6,626.5 432,627.5 433.2,629.2 434.9,631 436.5,631.9 438.2,632.5 440.3,633.7 441.8,634.9 444,635.8"/>
<polyline class="l" points="429,620 430.9,621 432.3,621.7 434.1,623.1 434.9,624.1 436.5,625.8 438.6,627.7 440.7,628.3 442.1,629.8 444.1,630.2 445.7,631.7"/>
<polyline class="l" points="419,630.8 421.1,630.7 423.8,630.2 425.7,630 427.2,630.8 429.3,631.4 431.5,631.7 433.2,629.2"/>
<polygon class="p" fill="#1C1F82" points="365.7,636.7 367.9,637.5 369.7,637.1 371.6,637.7 374,637.5 375.3,638.3 376.9,638.9 379,639.2 380.6,640 382.2,640.3 384,641.7 385.9,642.9 387,643.8 389,644.2 391.7,644.8 394,645 395.3,646.3 397.3,647.5 398.5,649.2 400.7,650.8 401.6,652.6 402.6,653.9 404,655.8 405.4,657.6 406.4,659.3 407.3,660.8 408.9,662.6 410.3,663.3 411.5,665.3 410.7,667.3 410.7,670 411.6,671.8 412.3,673.3 413.2,675 414.7,676.1 415.9,678.9 417.3,680 417.7,682.2 418.9,684 419.8,685.8 419.8,687.7 420.8,690 420.7,691.7 421.6,693.8 423,694.7 424,696.7 424.4,698.2 424.5,700 425.7,701.7 425.1,704.1 423.9,706.4 423.2,708.3 423.2,710.4 422.1,713 422.3,715 423,717.4 423,719.4 424,721.7 423.1,723.8 423.2,726.7 420.9,727.5 418.1,727.7 415.7,727.5 413.6,728 411.7,728.3 409,728.3 407,727.4 405.9,726.3 404,725.8 401.9,725.2 399.4,723.5 397.3,723.3 395.2,722.4 393.7,721.3 392.3,720.8 390.7,719 388.8,718.6 387.3,716.7 385.6,716.4 384,715 382.8,713.9 381.1,712.5 379,711.7 376.3,711.7 374,712.5 372.2,712.5 369.5,713 367.7,712.7 365.7,713.3"/>
<polyline class="l" points="400.7,650.8 400.8,652.7 401.5,655 400.3,656.2 399.8,658.3 397.2,658.2 395.5,658.8 393.4,657.9 390.7,658.3 388.7,658.7 386.2,659.5 384,660 382.4,661.5 380.7,662.6 379,663.3 377.2,664.2 375.7,665.2 374,666.7"/>
<polyline class="l" points="399.8,658.3 401.2,660.2 403,661.6 404.8,663.3 406.8,665 408.1,666.6 409.8,668.3"/>
<polyline class="l" points="374,670 376.5,670.8 378.8,670.2 380.7,670.8 383,670.2 385,670.5 387.3,670 389.6,670 391.7,671.4 394,671.7 395.9,672.5 398.7,672.4 400.7,673.3 403,673.5 405.7,672.5 407.5,672.3 409,670.8 410.7,670.8"/>
<polyline class="l" points="400.7,673.3 399.1,674.8 398.3,676.7 397.3,678.3 397.4,681.1 396.5,683.3 396.9,685.4 398.5,686.8 399,688.3 398.8,690.4 398.9,692.6 398.2,695 398.3,697.4 399,700 397.2,701.2 395.7,703.2 394,705 392.8,706 390.7,706.7 388.9,708.6 387.8,710.3 385.7,711.7 384.3,713.4 384,715"/>
<polyline class="l" points="379,675 380.6,677.1 382.3,678.3 384.1,677.1 385.7,676.7 386.4,678.2 387.6,679.7 389,680.8 390.4,682.5 392.3,683.3 394.3,682.9 396.5,683.3"/>
<polyline class="l" points="374,685 376.1,684.6 379,684.2 380.7,684 382.3,683.3 383.6,685 384.1,686.2 384.8,688.3 385.9,690.1 386.8,691.4 387.3,693.3 387.2,695.6 387.5,698 388.2,700 388.7,702.3 390.1,704.3 390.7,706.7"/>
<polyline class="l" points="377.3,643.3 376.6,645.5 376.5,647.7 376.5,650 376.6,652 377.4,654.2 378.2,656.7 378.1,658.9 377.8,660.7 377.3,662.5"/>
<polygon class="p" fill="#2569A8" points="443.2,640 444.1,641.3 445.9,642.2 447.3,643.3 449,644.8 450.6,645.8 451.5,647.5 452.6,648.6 454.4,649.7 455.7,650.8 456,653.1 456.3,654.8 456.5,656.7 457.6,658.1 457.7,660.1 459,661.7 459.9,663.9 461.7,664.8 462.3,666.7 464.3,667.5 465.7,669.1 467.3,670 470,669.5 472.3,669.2 474,668.7 476.5,668.3 478.2,669.8 480.7,670.8 482.1,671.8 483.2,673.3 483.1,675.7 483.2,678.3 483.2,680.3 482.6,683 482.3,685 482,687.2 481.2,688.8 481.4,690.9 480.7,693.3 478.3,693.3 475.8,693.5 474,694.2 471.8,693.9 469.3,695.2 467.3,695 465.1,694.5 463.1,695.2 460.7,695.3 458.4,695.1 456.4,694.9 454,695 451.6,695.2 449.3,695.4 447.3,695.3 445.4,695.7 444,696.7 442,698.2 440.7,700 438.9,699.4 437.4,699.1 435.7,698.3 432.9,698 430.7,697.5 429,696.5 427.4,696 425.7,695.8 424,696.7 423,694.7 421.6,693.8 420.7,691.7 420.8,690 419.8,687.7 419.8,685.8 418.9,684 417.7,682.2 417.3,680 415.9,678.9 414.7,676.1 413.2,675 412.3,673.3 411.6,671.8 410.7,670 410.7,667.3 411.5,665.3 413.8,664.5 415.7,663.3 417.4,662.7 419.2,661.7 420.7,660.8 421.5,659.6 423.6,658.5 424.8,657.5 426.4,655.8 427.5,654 429,652.5 430.7,650.9 432.2,650.1 433.2,648.3 434.7,646.6 436.3,645.8 438.2,644.2 439.9,643 441.6,642"/>
<polygon class="p" fill="#2569A8" points="444,639.2 445.7,638.8 447.6,638.3 449,637.5 450.2,636.8 452.6,636.3 454,635.8 455.9,635.4 457.5,634.2 459,634.2 461.2,633.6 462.9,633 464.8,633 465.3,634.6 465.4,636.6 465.7,638.3 466.4,640.6 466.5,643.3 467.4,645.3 469.1,646.7 469.8,648.3 471.8,649.5 474,650 475.9,650.9 478.2,652.5 479.5,653.9 480.9,655.4 482.3,655.8 484.5,656.3 486.5,656.1 489,655.8 491.9,655.9 494,655.3 495.9,655.6 498.2,655.8 498.3,657.5 497.6,659.7 497.3,661.7 497.1,664 496.3,665.3 496.5,667.5 498.3,667.6 500.7,667.5 502.4,666.8 503.6,665.7 505.7,665 508.1,663.9 509.8,662.5 511.8,661.2 514,660.8 512.8,663 510.6,664.8 509.8,666.7 508.6,668.5 507.2,670.5 505.7,671.7 504.2,672.9 502.9,673.5 501.5,675 502.4,676.5 502.5,678.3 503.2,680 504.8,681.5 506.5,683.3 506.5,686.1 506.5,688.3 504.6,689.9 502.3,690.8 500.3,691.2 498.7,691.7 497.3,692.5 496.1,690.4 496.8,688.9 495.7,686.7 495.3,684.7 494.8,682.3 494,680 491.8,679.8 489.8,679.2 488,678.5 485.4,678.2 483.2,678.3 483.1,675.7 483.2,673.3 482.1,671.8 480.7,670.8 478.2,669.8 476.5,668.3 474,668.7 472.3,669.2 470,669.5 467.3,670 465.7,669.1 464.3,667.5 462.3,666.7 461.7,664.8 459.9,663.9 459,661.7 457.7,660.1 457.6,658.1 456.5,656.7 456.3,654.8 456,653.1 455.7,650.8 454.4,649.7 452.6,648.6 451.5,647.5 450.6,645.8 449,644.8 447.3,643.3 446.1,642.3 445.5,640.3"/>
<polygon class="p" fill="#37A7B8" points="451.5,620 453.6,619.9 455.3,619.9 457.3,619.2 459.9,618.5 461.8,618.5 464,617.5 465.7,617.8 468,617.5 469.8,616.7 470.5,614.2 471.5,612.5 472.5,610.1 474,608.3 476.5,608.3 479,608.3 480.2,609.2 482.5,609.2 484,610 486.6,609.4 489,609.2 491.9,609.2 494,609.2 494,610.8 494.8,612.5 494.5,614.5 494,616.2 494,618.3 495.1,620.1 494.8,621.6 495.7,623.3 496.8,625.1 496.3,626.4 497.3,628.3 497.3,630 497.4,631.5 498.3,633.2 499,635 501,635.4 503.6,635.4 505.7,635.8 507,637.1 509,638.3 506.8,639.9 505.7,641.7 506.2,644.5 506.5,646.7 509,647.2 510.7,648.3 512.3,649.4 513.8,649.2 515.7,650 517.5,650.5 519.1,652 520.7,653.3 519,655.8 517.4,657.5 515.4,658.9 514,660.8 511.8,661.2 509.8,662.5 508.1,663.9 505.7,665 503.6,665.7 502.4,666.8 500.7,667.5 498.3,667.6 496.5,667.5 496.3,665.3 497.1,664 497.3,661.7 497.6,659.7 498.3,657.5 498.2,655.8 495.9,655.6 494,655.3 491.9,655.9 489,655.8 486.5,656.1 484.5,656.3 482.3,655.8 480.9,655.4 479.5,653.9 478.2,652.5 475.9,650.9 474,650 471.8,649.5 469.8,648.3 469.1,646.7 467.4,645.3 466.5,643.3 466.4,640.6 465.7,638.3 465.4,636.6 465.3,634.6 464.8,633 462.9,633 461.2,633.6 459,634.2 457.5,634.2 455.9,635.4 454,635.8 452.6,636.3 450.2,636.8 449,637.5 447.6,638.3 445.7,638.8 444,639.2 444.3,636.7 445.4,634.3 445.7,631.7 447.2,629.4 448.2,627.5 448,625 447.3,622.5 449,621.6 449.8,620"/>
<polygon class="p" fill="#37A7B8" points="424,696.7 425.7,695.8 427.4,696 429,696.5 430.7,697.5 432.9,698 435.7,698.3 437.4,699.1 438.9,699.4 440.7,700 442,698.2 444,696.7 445.4,695.7 447.3,695.3 449.3,695.4 451.6,695.2 454,695 456.4,694.9 458.4,695.1 460.7,695.3 463.1,695.2 465.1,694.5 467.3,695 469.3,695.2 471.8,693.9 474,694.2 475.8,693.5 478.3,693.3 480.7,693.3 479.6,695.8 479.3,697.5 478.2,700 477.5,701.9 476.8,704.2 476.5,706.7 476.8,708.7 475.6,711 475.7,713.3 475.3,714.9 473.9,716.8 474,718.3 474.9,720.4 474.8,723.3 474.8,725.3 473.2,727.9 473.2,730 473,732.2 473.1,734.9 472.3,736.7 424,736.7 423.9,733.8 423.5,731.6 423.2,729.6 423.2,726.7 423.1,723.8 424,721.7 423,719.4 423,717.4 422.3,715 422.1,713 423.2,710.4 423.2,708.3 423.9,706.4 425.1,704.1 425.7,701.7 424.5,700 424.4,698.2"/>
<polyline class="l" points="440.7,700 441.2,702 441.8,703.6 441.5,705.8 441,708.2 440.7,710.8 441.7,713 443.2,714.2 444.6,714.8 446.8,716 448.2,716.7 450.2,715.4 452.3,715 454.7,714.9 457.3,715.8 459.8,716.3 462.1,716.6 464,716.7 466.2,716.5 467.7,716.5 469.8,716.7 471.8,717.1 474,717"/>
<polygon class="p" fill="#93D4A7" points="379,711.7 381.1,712.5 382.8,713.9 384,715 385.6,716.4 387.3,716.7 388.8,718.6 390.7,719 392.3,720.8 393.7,721.3 395.2,722.4 397.3,723.3 399.4,723.5 401.9,725.2 404,725.8 405.9,726.3 407,727.4 409,728.3 411.7,728.3 413.6,728 415.7,727.5 418.1,727.7 420.9,727.5 423.2,726.7 423.2,729.6 423.5,731.6 423.9,733.8 424,736.7 386.5,736.7 385.9,734.1 385.1,731.5 384.5,729.5 384,726.7 383.4,724.5 382.2,721.7 380.7,720 380.1,718.1 379.5,715.9 379.5,713.9"/>
<polygon class="p" fill="#FFFFBF" points="365.7,712.5 367.7,712 370,712.5 372.3,712.7 374,712.5 376.3,711.7 379,711.7 379.5,713.9 379.5,715.9 380.1,718.1 380.7,720 382.2,721.7 383.4,724.5 384,726.7 384.5,729.5 385.1,731.5 385.9,734.1 386.5,736.7 384,736.9 382.2,736.2 379.7,736.2 377.5,736.8 374.9,736.9 372.6,737.1 370.5,736.6 368,736.1 365.7,736.7 365.7,733.9 365.3,732 365.4,729.4 366,727.3 365.3,725 366.3,721.9 366.2,719.9 365.4,717.6 365.4,714.7"/>
</g>
<g clip-path="url(#c10)">
<polygon class="p" fill="#2569A8" points="269.2,736.7 266.7,738.3 264.7,739.2 263.5,739.9 261.7,740.8 260.2,741.5 258.7,743.4 256.7,744.2 255.3,745.6 254.2,747.5 252.9,749.1 251.3,749.7 250,751.7 248,751.4 246.7,750.8 244.8,750.2 243.3,749.2 241.7,748.3 239.3,747.7 236.7,748 234.7,748.7 233.2,749.3 231.7,749.7 230.6,750.8 229.1,752.7 228.3,754.2 227.2,756 227.2,757.5 226.7,759.2 227.7,760.6 227.7,762.1 228.3,764.2 230.1,766.1 230.8,768.3 231.4,770.5 230.9,773 230.8,775 233.1,774.5 235.1,774.3 236.7,774.2 239.4,774.8 241.7,775 244.1,774.3 246.7,773.7 246.4,775.2 245,776.7 243,778.3 241.7,780 241,781.5 239.5,782.7 238.3,784.2 237.2,785.3 236,787 235,788.3 233.6,789.7 232.5,790.7 231.7,792.5 231.5,794.7 231,796 230,797.5 230.2,799.7 230.3,802.5 231.5,804.2 233.3,805.8 235.3,807.4 237.5,808 239.5,807.4 241.1,807.1 242.5,806.3 244.6,805.9 246.7,804.2 248.1,801.9 250,800.8 251,799.5 252.7,798.4 254.2,797.5 255.2,796 257,795.4 258.3,794.2 260.4,792.3 261.7,790.8 262.1,788.8 263.3,786.7 265.5,785.7 268.3,785.8 269.5,784.7 270,782.5 271.9,781 274.2,780 275.6,779.8 277.8,778.6 279.2,778.3 281.3,778.1 283,777.1 285,777 286.9,777.1 289.3,776.1 291.7,775.8 294.3,776.1 296.1,774.9 298.3,775 300.8,774.2 301,772.3 301.7,770 300.4,768 299.2,766.7 298.1,764.5 296.7,763.3 295.2,761.5 294.2,760 292.5,759.2 290.8,757.5 289.5,755.8 288.3,755 291.1,755.6 293.3,755 294.9,754.4 297.6,754.1 299.2,754.2 297.8,752.2 296.7,750 296.4,748.2 295.1,746.8 295,745 293.8,744.1 292.8,742.5 291.7,740.8 289.7,738.9 288.3,737.5 286.6,735.7 285,735 282.5,735.6 280.2,735.5 278.3,735.8 276.3,736.8 273.3,736.7 271.6,736.2"/>
<polyline class="l" points="250,751.7 251,753.8 252.5,755.8 255.1,755.9 257.5,756.7 259.3,755.8 261.8,755.6 263.3,755 265.1,754.6 266.3,753.4 268.3,753.3 270,754.1 272,754.5 273.3,755.8 275.4,755.8 277.1,755.5 279.2,755 281.2,755.5 283.3,755.8 282.5,758.3 280,758.4 278.3,759.2 276.9,761.1 275.8,762.5 275.2,764.6 274.2,766.7 273.6,768 271.5,769.5 270.8,770.8 269.2,770.2 267.5,769.2 265.7,770.4 264.2,770.8 262.6,770.5 260.8,769.2 260.1,767.3 260.3,765.3 260,763.3 259.5,761.5 259.2,759.2 257.5,756.7"/>
<polyline class="l" points="264.2,770.8 262.5,772.1 260.8,772.8 259.2,774.2 257.9,775.9 255.8,777.5 257.3,779.1 258.3,780 259.9,780.8 261.7,781.7 263.7,780.6 265,779.2 267.2,778.3 269.1,778.9 270.8,778.3 272.6,778.7 274.2,780"/>
<polyline class="l" points="283.3,755.8 285.5,755.2 288.3,755"/>
<polygon class="p" fill="#1C1F82" points="265,723.3 316.7,723.3 315.8,724.9 314.1,727 312.7,728.2 311.6,730 310,731.7 309.9,733.8 309.2,735.8 310.2,737.8 311.5,738.4 312.5,740 314.4,740.9 316.7,741.7 318.2,743.3 320,744.2 322.2,743.9 325,743.3 326.5,743.9 327.2,745.8 329.2,746.7 331,746.4 332.7,745.7 335,745.8 336.6,746 338.7,747.1 340,748.3 340.9,750.2 341.1,751.7 341.7,753.3 341,755.1 340.2,756.5 339.2,758.3 337.6,759.8 336.8,761.3 335.8,762.5 334.8,763.9 333.3,766 332.5,767.5 332.1,769.6 330.8,771.3 328.9,770.7 327.2,771 325,770 322.1,770 320,769.2 318.4,768.9 316.7,767.5 314.7,766.7 312.5,765.8 310.4,765.7 309.2,764.8 307.5,764.2 304.9,765.2 303.3,766.7 302.5,768.4 301.7,770 300.4,768 299.2,766.7 298.1,764.5 296.7,763.3 295.2,761.5 294.2,760 292.5,759.2 290.8,757.5 289.5,755.8 288.3,755 291.1,755.6 293.3,755 294.9,754.4 297.6,754.1 299.2,754.2 297.8,752.2 296.7,750 296.4,748.2 295.1,746.8 295,745 293.8,744.1 292.8,742.5 291.7,740.8 289.7,738.9 288.3,737.5 286.6,735.7 285,735 282.5,735.6 280.2,735.5 278.3,735.8 276.3,736.8 273.3,736.7 271.6,736.2 269.2,736.7 267.8,735.4 265.8,734.2 265.7,732.3 265,730 264.8,727.9 265.2,725.6"/>
<polyline class="l" points="285,735 285.7,733.1 285.8,730.8 288.3,729.2"/>
<polygon class="p" fill="#1C1F82" points="301.7,770 302.5,768.4 303.3,766.7 304.9,765.2 307.5,764.2 309.2,764.8 310.4,765.7 312.5,765.8 314.7,766.7 316.7,767.5 317.3,770.3 317.5,772.5 316,774.7 315,776.7 314.9,778.7 314,779.8 313.3,781.7 314.1,783.2 315,785 315.8,786.7 316.2,789 316.8,790.7 316.7,792.5 318.1,794.6 319.2,796.7 320.1,799.1 321.7,800.8 322.3,802.4 322.5,804.2 320.5,804.4 318.3,805.8 316.1,806 314.2,807 313.8,804.3 312.5,802.5 311.5,801.2 310.2,799.1 310,797.5 309.9,796 308.6,793.9 308.3,792.5 306.8,791.4 306.2,790 305,788.3 304.9,786.4 303.4,784.6 303.3,782.5 302.7,780.7 302,778.4 301.7,776.7 300.8,774.2 301,772.3"/>
<polygon class="p" fill="#37A7B8" points="268.3,785.8 269.5,784.7 270,782.5 271.9,781 274.2,780 275.6,779.8 277.8,778.6 279.2,778.3 281.3,778.1 283,777.1 285,777 286.9,777.1 289.3,776.1 291.7,775.8 294.3,776.1 296.1,774.9 298.3,775 300.8,774.2 301.7,776.7 302,778.4 302.7,780.7 303.3,782.5 303.4,784.6 304.9,786.4 305,788.3 306.2,790 306.8,791.4 308.3,792.5 308.6,793.9 309.9,796 310,797.5 310.2,799.1 311.5,801.2 312.5,802.5 313.8,804.3 314.2,807 311.9,808.2 310,808.7 307.5,808.4 305.8,807.5 303.9,806.6 302.5,805 301.3,803.4 300.8,801.7 298.8,800.9 297.5,799.2 295,798.6 293.3,797.5 290.6,796.6 288.3,796.7 286.7,795.9 284.5,795.3 283.3,794.2 282,793.1 280,791.7 278.4,789.6 276.7,788.3 274.7,787.9 273.3,786.7 270.4,786.5"/>
<polygon class="p" fill="#37A7B8" points="316.7,767.5 318.4,768.9 320,769.2 322.1,770 325,770 327.2,771 328.9,770.7 330.8,771.3 332,772.9 333.3,775 334.3,777.2 335,779.2 336.7,779.7 338,780.9 340,781.7 340.7,782.9 342.2,784.6 343.3,785.8 345.1,787.5 345.8,789.2 347.8,789.9 350,790 351.4,792.3 352.5,794.2 352.6,796.3 352.5,798.3 350.7,799.4 349.1,800.1 347.5,800.8 346.3,802.6 345,804.2 344.2,806.3 344.2,808.3 343.9,809.8 343.3,811.7 341.3,811.9 340,812.5 337.8,811.6 336.7,810 334.8,809.2 333.3,807.5 331.6,806.1 330.8,804.2 329.1,803 326.7,802.5 324.5,802.6 323.3,803.3 322.5,804.2 322.3,802.4 321.7,800.8 320.1,799.1 319.2,796.7 318.1,794.6 316.7,792.5 316.8,790.7 316.2,789 315.8,786.7 315,785 314.1,783.2 313.3,781.7 314,779.8 314.9,778.7 315,776.7 316,774.7 317.5,772.5 317.3,770.3"/>
<polygon class="p" fill="#2569A8" points="341.7,753.3 344.3,752.8 346.7,752.5 348.2,752.5 349.5,751.1 351.7,750.8 353.8,751.5 355.8,751.7 357,753.5 357.2,755.5 358.3,756.7 359.2,759.1 360.8,760.8 361.4,762.2 361.7,764 362.5,765.8 363,767.9 363.8,768.8 364.2,770.8 364.5,772.6 365.6,773.6 365.8,775.8 365,777.9 365,780.4 365,783.3 364.2,785 362.3,784.5 360,783.3 358.4,782 356.7,780.8 354.5,781.5 351.7,781.7 349.8,782.4 348.3,783.3 347.6,784.9 347.5,786.7 345.8,789.2 345.1,787.5 343.3,785.8 342.2,784.6 340.7,782.9 340,781.7 338,780.9 336.7,779.7 335,779.2 334.3,777.2 333.3,775 332,772.9 330.8,771.3 332.1,769.6 332.5,767.5 333.3,766 334.8,763.9 335.8,762.5 336.8,761.3 337.6,759.8 339.2,758.3 340.2,756.5 341,755.1"/>
<polygon class="p" fill="#37A7B8" points="316.7,723.3 319.3,723.9 321.1,723.1 323.8,723 325.9,722.7 328.5,722.7 330.5,723.2 332.7,723.7 335,723.3 334.9,725.3 335,727.4 335.1,729.7 335.8,731.7 335.8,734.5 336.7,736.7 334.8,737.5 332.5,738.3 330.6,738.1 328.6,738.7 326.7,739.2 325.1,740.8 323.3,741.7 321.7,743.3 320,744.2 318.2,743.3 316.7,741.7 314.4,740.9 312.5,740 311.5,738.4 310.2,737.8 309.2,735.8 309.9,733.8 310,731.7 311.6,730 312.7,728.2 314.1,727 315.8,724.9"/>
<polygon class="p" fill="#2569A8" points="323.3,741.7 325.1,740.8 326.7,739.2 328.6,738.7 330.6,738.1 332.5,738.3 334.8,737.5 336.7,736.7 337.9,738.2 338.3,740 339.2,741.7 339.2,744.2 339.8,746.1 340,748.3 338.7,747.1 336.6,746 335,745.8 332.7,745.7 331,746.4 329.2,746.7 327.2,745.8 326.5,743.9 325,743.3"/>
<polygon class="p" fill="#2569A8" points="335,723.3 337.2,723.7 339.5,723.3 341.5,722.8 343.3,723.3 344.1,725 344.9,726.9 345.6,729.2 346.2,731.7 347.5,733.3 349.1,734.6 351.3,735.9 353.3,737.5 356.1,736.7 358.3,736.7 361,737.4 363.3,737.5 364.7,739.2 365.8,741.7 365.7,744 366.7,746.7 368.6,748.4 370,750 372.1,750.5 374,751.7 376.4,751.3 378.5,751.8 381.3,751.5 383.3,751.7 382.9,754.3 383.6,756.5 383.8,758.4 383.6,761.2 383.4,763 383.7,765.1 382.9,767.7 383.3,770 381.1,770.1 378.6,769.2 376.1,769.2 374,769.2 371.8,769.6 370.1,770.7 368.3,770.8 365.8,771.7 364.2,770.8 363.8,768.8 363,767.9 362.5,765.8 361.7,764 361.4,762.2 360.8,760.8 359.2,759.1 358.3,756.7 357.2,755.5 357,753.5 355.8,751.7 353.8,751.5 351.7,750.8 349.5,751.1 348.2,752.5 346.7,752.5 344.3,752.8 341.7,753.3 341.1,751.7 340.9,750.2 340,748.3 339.8,746.1 339.2,744.2 339.2,741.7 338.3,740 337.9,738.2 336.7,736.7 335.8,734.5 335.8,731.7 335.1,729.7 335,727.4 334.9,725.3"/>
<polygon class="p" fill="#FFFFBF" points="343.3,723.3 383.3,723.3 382.9,725.7 382.9,728.8 383,731.4 383.4,733.4 382.8,736 383.6,738.6 383.8,741.7 383,744.2 383.1,746.7 383,749.3 383.3,751.7 381.3,751.5 378.5,751.8 376.4,751.3 374,751.7 372.1,750.5 370,750 368.6,748.4 366.7,746.7 365.7,744 365.8,741.7 364.7,739.2 363.3,737.5 361,737.4 358.3,736.7 356.1,736.7 353.3,737.5 351.3,735.9 349.1,734.6 347.5,733.3 346.2,731.7 345.6,729.2 344.9,726.9 344.1,725"/>
<polygon class="p" fill="#FFFFBF" points="368.3,770.8 370.1,770.7 371.8,769.6 374,769.2 376.1,769.2 378.6,769.2 381.1,770.1 383.3,770 383.3,808.3 381.1,807.8 378.5,808.2 376.1,807.6 374,807.5 371.9,806.8 369.2,805.8 369.1,803.4 368.1,801.8 367.5,800 367.8,798 366.5,795.3 366.7,793.3 366.6,791 366.6,788.6 365.8,786.7 365.2,785.4 365,783.3 365,780.4 365,777.9 365.8,775.8 365.3,773.8 365.8,771.7"/>
<polygon class="p" fill="#37A7B8" points="348.3,783.3 349.8,782.4 351.7,781.7 354.5,781.5 356.7,780.8 358.4,782 360,783.3 362.3,784.5 364.2,785 365,783.3 365.2,785.4 365.8,786.7 366.6,788.6 366.6,791 366.7,793.3 366.5,795.3 367.8,798 367.5,800 368.3,802.4 368.3,805 366.6,804.2 364.2,803.3 363.4,801.3 361.7,800 359.5,799.2 357.5,798.3 354.8,797.8 352.5,798.3 352.6,796.3 352.5,794.2 351.4,792.3 350,790 347.8,789.9 345.8,789.2 347.5,786.7 347.6,784.9"/>
<polygon class="p" fill="#2569A8" points="352.5,798.3 354.8,797.8 357.5,798.3 359.5,799.2 361.7,800 363.4,801.3 364.2,803.3 366.6,804.2 368.3,805 369.2,805.8 367.4,807 365.8,809.2 364.7,811.1 364.2,813.3 363.2,815.8 363.3,818.3 363.7,821 364.2,823.3 362.7,825.1 360.8,826.7 359.1,828.1 357.5,830 356.1,832.1 355.8,834.2 354.8,836.4 353.3,838.3 352.2,836.4 351.7,835 351.1,832.9 350.4,831.3 349.2,830 348.4,828.2 348.1,826.3 347.5,825 346.9,823 345.8,821.9 345,820 344.7,818.4 344.5,816.4 345,814.2 343.3,811.7 343.9,809.8 344.2,808.3 344.2,806.3 345,804.2 346.3,802.6 347.5,800.8 349.1,800.1 350.7,799.4"/>
<polygon class="p" fill="#2569A8" points="369.2,805.8 371.9,806.8 374,807.5 376.1,807.6 378.5,808.2 381.1,807.8 383.3,808.3 383.7,810.8 383.8,813.4 383.5,815.4 383.7,818 383,820.4 383.1,823 383.5,825.3 383.5,827.4 383.3,830 383.2,832.5 383.7,835.2 383.3,837.5 381,837.6 378.7,837.2 376.5,836.7 374,836.7 371.8,836.2 369,836.1 366.7,835.8 364.7,835.7 362.4,835.7 360.8,835 358.6,834.3 355.8,834.2 356.1,832.1 357.5,830 359.1,828.1 360.8,826.7 362.7,825.1 364.2,823.3 363.7,821 363.3,818.3 363.2,815.8 364.2,813.3 364.7,811.1 365.8,809.2 367.4,807"/>
<polygon class="p" fill="#37A7B8" points="355.8,834.2 358.6,834.3 360.8,835 362.4,835.7 364.7,835.7 366.7,835.8 369,836.1 371.8,836.2 374,836.7 376.5,836.7 378.7,837.2 381,837.6 383.3,837.5 383.3,868.3 381.2,868.1 378.4,867.3 376.4,866 374,865.8 371.7,865 370.1,863.8 370,862 368.3,860.8 367.3,859.2 366.6,857.3 365,855.8 364.3,854.2 362.6,853.7 361.7,851.7 360,850.3 357.5,849.2 357,847 356.8,844.8 355.8,843.3 355.1,841.9 354.2,839.6 353.3,838.3 354.8,836.4"/>
</g>
<g clip-path="url(#c11)">
<polygon class="p" fill="#37A7B8" points="422.3,723.3 472.3,723.3 471.2,725.7 470.4,727.9 469.8,730.2 469,732.5 467.1,734 466.5,735.8 464.8,735.1 462.5,735.1 460.7,735 458.1,734.5 455.9,733.8 454,733.3 451.7,733.8 449,734.2 446.4,734.5 444.8,733.7 442.3,733.7 440,733.5 437.3,734.2 434.7,734.7 432.3,735 430.3,734.2 428.6,734.2 427.3,733.3 425.6,732.9 424,731.7 423.9,729.8 423.3,727.8 423.2,725.5"/>
<polygon class="p" fill="#1C1F82" points="442.3,733.7 444.8,733.7 446.4,734.5 449,734.2 451.7,733.8 454,733.3 455.9,733.8 458.1,734.5 460.7,735 462.5,735.1 464.8,735.1 466.5,735.8 466,737.9 466.4,739.8 465.7,741.7 463.6,742.5 462.3,744.2 460.5,745.8 459.8,747.5 458.8,748.9 457.3,750.8 457.1,753 457.6,755.1 457.3,756.7 458.7,757.8 459.3,759.2 457.1,759.2 455.7,758.3 453.1,757.9 451.5,756.7 449.4,755.5 447.3,755 446.5,753.6 445.8,751.6 444.8,750 443.7,748.5 443.3,746.9 442.3,745 441.5,743.1 441.4,741.1 441.5,739.2 441.6,737.1 442.1,735.2"/>
<polygon class="p" fill="#2569A8" points="424,731.7 425.6,732.9 427.3,733.3 428.6,734.2 430.3,734.2 432.3,735 434.7,734.7 437.3,734.2 440,733.5 442.3,733.7 442.1,735.2 441.6,737.1 441.5,739.2 441.4,741.1 441.5,743.1 442.3,745 443.3,746.9 443.7,748.5 444.8,750 443.2,750.9 440.7,751.7 439.3,752.5 437.4,753.9 436.5,755 434.1,756.4 432.3,757.5 432.2,755.3 431.6,753.6 431.5,751.7 431.1,748.8 430.7,746.7 429.2,745.5 428.5,743.4 427.3,742.5 425.7,741.1 425.1,739.3 424,738.3 422.5,736.7 422.3,735 423.4,733"/>
<polygon class="p" fill="#93D4A7" points="387.3,723.3 422.3,723.3 423.2,725.5 423.3,727.8 423.9,729.8 424,731.7 423.4,733 422.3,735 422.5,736.7 424,738.3 425.1,739.3 425.7,741.1 427.3,742.5 428.5,743.4 429.2,745.5 430.7,746.7 431.1,748.8 431.5,751.7 431.6,753.6 432.2,755.3 432.3,757.5 431.6,759.6 431.5,761.7 431.6,764.1 430.7,765.8 428.8,766.7 427,767.3 424.8,767.5 424.1,769.1 422.9,770.9 421.5,771.7 420.1,772.9 418.8,774.4 418.2,775.8 417,778.3 415.7,780 414.4,781.1 413.2,783.3 411,783.6 410.4,784.8 408.2,785 406.1,784.5 404,784.2 402.9,782 401.5,780 399.4,778.9 397.3,778.3 395.2,777.7 393.6,778.1 391.5,777.5 390.7,775.4 390.7,773.3 390.3,771.4 389,770 386.7,769.5 385.7,768.3 384.9,766 384.8,763.3 385.3,760.5 385.7,758.3 386.5,756.1 386.1,753.7 386.5,751.7 386.3,749.1 386.9,747.4 387.3,745 387.6,742.9 387.5,740.5 388.2,738.3 388,735.7 388.1,733.6 387.3,731.7 387.5,729.6 387.2,727.4 387.8,725.3"/>
<polygon class="p" fill="#2569A8" points="444.8,750 445.8,751.6 446.5,753.6 447.3,755 449.4,755.5 451.5,756.7 453.1,757.9 455.7,758.3 457.1,759.2 459.3,759.2 458.3,761.2 456.5,762.5 455.4,764.2 455.3,765.8 454.8,767.5 454.4,770 454.9,772.3 454.8,774.2 453.4,776.2 451.5,777.5 451.6,779.5 450.9,781.7 450.7,783.3 449.6,785 448.7,785.8 447.3,787.5 447.4,789.9 446.3,792.2 446.5,794.2 447.8,796.1 448.2,798.3 450.1,799.5 452,800.8 450.1,802.9 449,805 448.2,806.3 447.6,808.6 447.3,810 446.9,812 445.9,813.6 444.8,815 444.6,817.3 445.7,820 444.8,821.4 442.6,821.7 441.5,823.3 439.1,824.6 437.3,825.8 435.2,825.9 433.2,825.8 430.7,826.7 428.6,827.3 426.5,827.6 424,828.3 422.1,827.5 419.9,827.3 418.2,827.5 416.8,825.4 415.7,823.3 415.6,820.7 414.5,818.9 414,816.7 413.2,814.8 412.2,811.9 411.5,810 411,808.1 410.7,805 409.8,803.3 410.2,801.2 410.3,798.5 410.7,796.7 411.3,794.3 410.7,792.4 410.7,790 410.4,787.7 409.8,785.8 411.2,784.8 413.2,783.3 414.4,781.1 415.7,780 417,778.3 418.2,775.8 418.8,774.4 420.1,772.9 421.5,771.7 422.9,770.9 424.1,769.1 424.8,767.5 427,767.3 428.8,766.7 430.7,765.8 431.6,764.1 431.5,761.7 431.6,759.6 432.3,757.5 434.1,756.4 436.5,755 437.4,753.9 439.3,752.5 440.7,751.7 443.2,750.9"/>
<polygon class="p" fill="#2569A8" points="391.5,777.5 393.6,778.1 395.2,777.7 397.3,778.3 399.4,778.9 401.5,780 402.9,782 404,784.2 406.1,784.5 408.2,785 409.8,785.8 410.4,787.7 410.7,790 410.7,792.4 411.3,794.3 410.7,796.7 410.3,798.5 410.2,801.2 409.8,803.3 410.7,805 411,808.1 411.5,810 412.2,811.9 413.2,814.8 414,816.7 414.5,818.9 415.6,820.7 415.7,823.3 416.8,825.4 418.2,827.5 419.9,827.3 422.1,827.5 424,828.3 422.1,830.1 420.7,831.7 419.5,833.2 419.6,835.2 418.2,836.7 417.5,839.4 417.3,841.7 417.1,843.5 416.1,844.6 415.7,846.7 412.9,846.6 410.7,846.7 408.8,847.1 406.5,846.7 407,844.6 407.4,841.9 408.2,840 406.5,840.2 404.8,840.9 403.2,841.7 401.6,842.3 399.9,843.2 398.2,844.2 396.4,844.6 394,845.8 392.3,844.9 391.5,843.3 391.5,841.5 389.8,839.2 389.8,837.5 387.7,838.9 385.7,839.2 383.6,840.4 381.5,840.8 379.6,840.8 377.9,839.3 376.4,838.7 374,838.3 371.8,837.8 369.9,838.7 367.6,838 365.7,838.3 365.7,836.1 365.9,832.9 365.3,830.2 365.2,828.1 366.1,825.3 366,822.6 365.7,820 365.6,817.3 366,815.2 366,812.5 365.7,810 368,809.1 369.8,808.7 372,809.1 374,808.3 375.9,809.8 378.2,810.8 380.1,809.6 381.5,807.5 383.4,806.3 384.3,804.7 385.7,803.3 387.3,801.9 389.8,800.8 389.5,798.8 390.1,796.6 390.7,795 390.2,792.8 390.2,790.4 389.8,788.3 390,785.7 390.8,783.7 390.7,781.7 391.2,779.8"/>
<polygon class="p" fill="#FFFFBF" points="365.7,723.3 368.1,723.2 370.8,723.8 373.1,723.5 375.4,723.7 377.4,723 379.8,723.1 382.6,723.8 385.2,723.2 387.3,723.3 387.8,725.3 387.2,727.4 387.5,729.6 387.3,731.7 388.1,733.6 388,735.7 388.2,738.3 387.5,740.5 387.6,742.9 387.3,745 386.9,747.4 386.3,749.1 386.5,751.7 386.1,753.7 386.5,756.1 385.7,758.3 385.3,760.5 384.8,763.3 384.9,766 385.7,768.3 386.7,769.5 389,770 390.3,771.4 390.7,773.3 390.7,775.4 391.5,777.5 391.2,779.8 390.7,781.7 390.8,783.7 390,785.7 389.8,788.3 390.2,790.4 390.2,792.8 390.7,795 390.1,796.6 389.5,798.8 389.8,800.8 387.3,801.9 385.7,803.3 384.3,804.7 383.4,806.3 381.5,807.5 380.1,809.6 378.2,810.8 375.9,809.8 374,808.3 372,809.1 369.8,808.7 368,809.1 365.7,810"/>
<polygon class="p" fill="#2569A8" points="365.7,751.7 368.2,752.2 370,752.7 372.5,752.8 374.8,752.5 376.5,754.6 377.3,756.7 377.8,758.5 377.5,760.3 377.3,762.5 375.5,764.4 374.8,766.7 372.6,767 370.3,766.8 367.8,767.6 365.7,767.5 365.3,765.2 366.1,762.9 365.8,760.8 366.3,758.6 366,755.9 365.5,754.2"/>
<polygon class="p" fill="#37A7B8" points="365.7,838.3 367.6,838 369.9,838.7 371.8,837.8 374,838.3 376.4,838.7 377.9,839.3 379.6,840.8 381.5,840.8 383.6,840.4 385.7,839.2 387.7,838.9 389.8,837.5 389.8,839.2 391.5,841.5 391.5,843.3 392.3,844.9 394,845.8 396.4,844.6 398.2,844.2 399.9,843.2 401.6,842.3 403.2,841.7 404.8,840.9 406.5,840.2 408.2,840 407.4,841.9 407,844.6 406.5,846.7 408.8,847.1 410.7,846.7 412.9,846.6 415.7,846.7 415.8,849.2 416.5,851.7 417.3,854.7 415.6,854.9 414.4,856.5 412.3,856.7 409.6,856.8 407.3,857.5 407.1,859.9 406.4,861.1 405.7,863.3 405.5,864.8 404.5,867 404,868.3 402.8,869.7 402,871.3 400.6,870.3 399,869.2 397,868.7 394.8,867.5 392.9,866.3 390.6,866.3 389,865.3 386.5,865.4 384.4,864.9 382.3,865 380.4,865.6 378,864.8 375.9,865.6 374,865.3 371.8,865.9 369.9,865.7 367.9,866 365.7,865.8 365.9,863.2 365.3,860.9 365.9,858.3 365.2,855.9 365.7,853.1 366,850.7 365.3,848.3 365.6,845.8 365.2,843.2 365.2,841.1"/>
</g>
<g clip-path="url(#c12)">
<polygon class="p" fill="#37A7B8" points="313.8,390.8 434.7,390.8 434.7,478.3 313.8,478.3"/>
<polygon class="p" fill="#FFFFBF" points="313.8,390.8 316.4,390.3 318.5,390.5 321.4,390.6 323.4,391.2 326.2,390.5 328.7,391 330.4,390.9 333.2,391.2 335.9,390.4 338.3,390.9 340.5,390.8 340.8,392.6 340,394.4 340.1,396.7 338.8,398.8 336.9,398.7 334.7,399.2 333.1,400.4 330.5,400.8 329.7,402.1 328,403.3 326.2,404.2 325.5,405.8 323,407.5 321.3,408.9 320.5,410.8 318,411.7 315.8,411.4 313.8,411.7 313.3,409.7 313.9,407.3 313.7,404.9 313.7,402.6 313.7,400.4 313.8,397.9 314.3,395.3 314.1,393.1"/>
<polygon class="p" fill="#1C1F82" points="340.5,390.8 343,391.1 345.7,391.1 347.9,390.8 350.5,391.3 353.4,391.2 355.3,390.8 358,390.8 358.3,393 357.7,395.7 357.6,398.3 357.4,400.9 358,403.3 358.8,405.8 357.2,407.5 355.9,408.3 355.3,410.4 354.7,411.7 354.4,413.5 353.8,415 352.2,413.8 350.9,410.8 349.7,408.3 349.2,405.8 350.9,404.2 349.7,402.9 347.6,402.1 345.5,400.8 343,401.7 340.5,401.2 338,402.1 336.4,402.3 334.7,401.7 332.5,400.8 330.5,400.8 333.1,400.4 334.7,399.2 336.9,398.7 338.8,398.8 340.1,396.7 340,394.4 340.8,392.6"/>
<polygon class="p" fill="#37A7B8" points="330.5,400.8 332.5,400.8 334.7,401.7 336.4,402.3 338,402.1 340.5,401.2 343,401.7 345.5,400.8 347.6,402.1 349.7,402.9 350.9,404.2 349.2,405.8 349.7,408.3 350.9,410.8 352.2,413.8 353.8,415 352.9,416.6 352.6,419.2 352,421.6 351.8,423.3 351.7,425.1 351.3,427.5 351,429.2 350.9,430.8 348.8,431.7 346.3,430.8 343.8,430.4 343,429.6 341.1,429.7 339.7,430.8 337.2,431.7 335.9,429.2 335.7,427.5 335.5,425.8 333.8,423.8 332.6,422.6 331.3,421.7 329.7,420 327.2,418.3 325.1,419.2 323.8,417.1 325.5,415.8 323,414.6 320.5,413.3 318.8,412.1 320.5,410.8 321.3,408.9 323,407.5 325.5,405.8 326.2,404.2 328,403.3 329.7,402.1"/>
<polygon class="p" fill="#2569A8" points="355.9,408.3 357.2,407.5 358.8,408.3 358.3,409.9 358.8,411.7 358.2,413.4 358,415 357.8,416.6 356.8,418.3 356.6,419.8 355.9,421.7 355.1,423.6 355.1,425 354.5,426.5 354.7,428.3 354.8,430 355.1,431.7 353.8,432.1 350.9,430.8 351,429.2 351.3,427.5 351.7,425.1 351.8,423.3 352,421.6 352.6,419.2 352.9,416.6 353.8,415 354.4,413.5 354.7,411.7 355.3,410.4"/>
<polygon class="p" fill="#FFFFBF" points="358,390.8 360.6,391 363.4,391.3 365.3,390.4 368,390.8 368.3,393 367.7,394.9 367.6,397.5 366.3,399.8 365.9,401.7 365.3,403.9 364.2,405.8 363.8,408.8 364.7,409.9 365.5,411.7 367.2,413.8 368.8,415.8 368,417.5 365.5,418.3 364.4,419.3 363.4,420.8 362.4,422.1 362.2,424.2 361.3,426 360.5,427.5 359.8,428.5 358.4,430 356.3,431.7 355.1,431.7 354.8,430 354.7,428.3 354.5,426.5 355.1,425 355.1,423.6 355.9,421.7 356.6,419.8 356.8,418.3 357.8,416.6 358,415 358.2,413.4 358.8,411.7 358.3,409.9 358.8,408.3 358.8,405.8 358,403.3 357.4,400.9 357.6,398.3 357.7,395.7 358.3,393"/>
<polygon class="p" fill="#93D4A7" points="368,390.8 399.7,390.8 399.2,392.9 398.5,395.3 398.4,397.5 400.1,400 403,400.4 404.7,399.7 406.3,399.2 408.4,398.8 407.2,401.2 405.7,402.3 405.1,403.8 404.3,405.2 403,406.2 401.3,408.3 402.8,408.5 404.7,409.2 407.6,409.6 408.8,411.7 410.5,413.8 412.6,415 411.3,417.5 409.5,418.1 408,418.8 406.7,419.2 404.7,418.8 403.1,417.8 401.3,417.1 399.9,416.1 398,415 396.9,413.4 395.5,412.9 393,411.2 391.4,410.9 389.7,410.8 387.6,410.8 386.3,411.7 384.5,411.8 383,412.9 381.1,413.8 379.7,413.8 378.2,414.2 376.3,415.4 374.2,416.2 373,417.1 370.5,417.5 368.8,415.8 367.2,413.8 365.5,411.7 364.7,409.9 363.8,408.8 364.2,405.8 365.3,403.9 365.9,401.7 366.3,399.8 367.6,397.5 367.7,394.9 368.3,393"/>
<polygon class="p" fill="#37A7B8" points="399.7,390.8 434.7,390.8 435,393.3 434.8,395.6 434.3,397.6 435.2,399.7 435,402.2 434.4,404.4 434.5,407 434.7,409.2 432.1,409.5 430,408.8 427.2,410 424.7,411.7 423.4,412.4 422.2,414.2 421,415.4 418.8,415.8 416.8,416.1 415.5,415.4 412.6,415 410.5,413.8 408.8,411.7 407.6,409.6 404.7,409.2 402.8,408.5 401.3,408.3 403,406.2 404.3,405.2 405.1,403.8 405.7,402.3 407.2,401.2 408.4,398.8 406.3,399.2 404.7,399.7 403,400.4 400.1,400 398.4,397.5 398.5,395.3 399.2,392.9"/>
<polygon class="p" fill="#93D4A7" points="425.5,396.7 428,397.1 430,398.3 432.4,398.1 434.7,398.3 434.2,400.8 434.9,403.1 434.5,406.1 434.7,408.3 432.2,407.7 430,407.5 428.6,407.1 427.2,405.8 424.7,404.2 423.8,401.7 424.2,398.8"/>
<polygon class="p" fill="#37A7B8" points="370.5,417.5 373,417.1 374.2,416.2 376.3,415.4 378.2,414.2 379.7,413.8 381.1,413.8 383,412.9 384.5,411.8 386.3,411.7 387.6,410.8 389.7,410.8 391.4,410.9 393,411.2 395.5,412.9 396.9,413.4 398,415 399.9,416.1 401.3,417.1 403.1,417.8 404.7,418.8 406.7,419.2 408,418.8 409.5,418.1 411.3,417.5 412.6,415 415.5,415.4 416.8,416.1 418.8,415.8 418.6,417.2 418,419.2 418,421.1 418.4,423.3 417.6,424.8 416.8,426.7 415.9,428 415.1,430 414.2,431.2 413.4,433.3 412.2,435.8 413,438.3 412.9,440.3 413.8,441.7 415,443.5 415.9,445 417.5,446.6 418,448.3 418.5,450.1 419.2,452.5 419.2,454.4 418.4,456.7 418,458.4 417.6,460.8 417.7,462.9 416.8,464.2 417.5,466.1 418,467.5 419.7,468.7 420.5,470 420.3,471.5 421.3,473.3 420.3,475.9 420.5,478.3 418.6,478.1 416.2,478.7 413.8,478.2 411.4,478 409.4,477.8 406.6,478.4 404.7,478.3 404.6,476.5 403.8,474.2 403.3,472 403,470 401.8,469.1 400.5,467.5 399.1,466.1 397.2,465.8 395.3,465.7 393,465 391,464.1 389.7,462.5 387.8,461.8 386.3,460.8 385,460.2 383.8,458.8 382.4,458.9 380.5,459.2 377.6,458.8 378,456.2 380.2,455.7 381.9,455.7 383.8,454.6 383.1,452.8 382.2,451.7 381.2,449.8 380.9,448.3 380.6,446.3 379.7,445 379,443.1 379.2,441.7 379.5,440 379.7,438.3 378,437.1 376.3,435 378,433.6 379.7,433.3 380.9,431.7 379.7,430.4 377.6,430 376.3,427.5 374.7,425 372.6,422.9 370.5,420.8 369.7,419.2"/>
<polygon class="p" fill="#93D4A7" points="418.8,415.8 421,415.4 422.2,414.2 423.4,412.4 424.7,411.7 427.2,410 430,408.8 432.1,409.5 434.7,409.2 434.7,478.3 432.2,477.8 429.8,477.8 427.9,478.3 426,478.4 423.1,477.9 421.3,478.3 421.9,475.5 421.3,473.3 420.3,471.5 420.5,470 419.7,468.7 418,467.5 417.5,466.1 416.8,464.2 417.7,462.9 417.6,460.8 418,458.4 418.4,456.7 419.2,454.4 419.2,452.5 418.5,450.1 418,448.3 417.5,446.6 415.9,445 415,443.5 413.8,441.7 412.9,440.3 413,438.3 412.2,435.8 413.4,433.3 414.2,431.2 415.1,430 415.9,428 416.8,426.7 417.6,424.8 418.4,423.3 418,421.1 418,419.2 418.6,417.2"/>
<polygon class="p" fill="#1C1F82" points="424.7,448.3 427.2,446.7 430,445.8 432.2,446.3 434.7,445.8 434.5,448.4 434.2,450.8 434.7,453.3 432.3,453 430,452.5 428.4,452 427.2,450.8 425.9,450"/>
<polygon class="p" fill="#2569A8" points="421.3,475 422.8,474.3 423.8,472.5 425.8,471.9 427.2,471.2 430,471.7 432.3,471.8 434.7,471.7 434.7,473.5 435,476.1 434.7,478.3 432.5,477.8 430.2,478.8 427.6,478.7 425.1,478.5 422.5,478.6 420.5,478.3 420.4,476.5"/>
<polyline class="l" points="419.2,448.3 422.2,449.2 424.7,448.3"/>
<polygon class="p" fill="#93D4A7" points="365.5,418.3 368,417.5 368.8,415.8 370.5,417.5 369.7,419.2 370.5,420.8 372.6,422.9 374.7,425 376.3,427.5 377.6,430 379.7,430.4 380.9,431.7 379.7,433.3 378.2,434.3 376.3,434.2 374.9,433.9 373,434.6 371.3,433.3 369.7,431.7 367.2,430.8 365.5,429.2 363.8,428.3 361.3,429.2 358.8,430.8 356.3,431.7 358.4,430 359.8,428.5 360.5,427.5 361.3,426 362.2,424.2 362.4,422.1 363.4,420.8 364.4,419.3"/>
<polygon class="p" fill="#2569A8" points="343,429.6 343.8,430.4 346.3,430.8 348.8,431.7 350.9,430.8 353.8,432.1 355.1,431.7 356.3,431.7 358.8,430.8 361.3,429.2 363.8,428.3 365.5,429.2 367.2,430.8 369.7,431.7 371.3,433.3 370.9,436.2 370.1,438.8 368,439.6 366.3,440.4 365.9,443.3 364.7,445.8 362.2,446.7 361.3,448.3 358.8,449.2 356.3,450.4 353.8,451.2 351.3,452.5 350.1,454.1 349.2,455 346.8,454.2 344.7,453.3 344.7,451.4 343.8,450 343.9,448.2 343.4,446.7 343.6,444.7 344.2,443.3 344.7,440.4 343,439.2 341.3,438.1 340.9,436.7 341.3,434.2 343,432.1"/>
<polygon class="p" fill="#93D4A7" points="371.3,433.3 373,434.6 374.9,433.9 376.3,434.2 377.6,435.8 378,437.1 379.7,438.3 379.5,440 379.2,441.7 379,443.1 379.7,445 380.6,446.3 380.9,448.3 381.2,449.8 382.2,451.7 383.1,452.8 383.8,454.6 381.9,455.7 380.2,455.7 378,456.2 376.3,457.1 374.4,456.4 373,456.7 371.9,455.5 369.7,455 367.2,453.3 365.9,450.8 365.1,448.3 364.7,445.8 365.9,443.3 366.3,440.4 368,439.6 370.1,438.8 370.9,436.2"/>
<polygon class="p" fill="#93D4A7" points="344.7,453.3 346.8,454.2 349.2,455 350.1,454.1 351.3,452.5 353.8,451.2 356.3,450.4 358.8,449.2 361.3,448.3 362.2,446.7 364.7,445.8 365.1,448.3 365.9,450.8 367.2,453.3 369.7,455 371.9,455.5 373,456.7 374.4,456.4 376.3,457.1 376,458.6 374.7,460 373,462.5 371.3,465 370,464.6 368,464.2 365.5,465.8 363,467.5 361.4,467.6 359.7,466.7 357.6,466.7 356.3,466.2 353.8,467.5 352.2,469.6 351.3,470.7 349.7,471.7 347.2,472.9 345.9,470 345.9,468.7 345.5,466.7 345.8,465.2 345.1,463.3 345.4,460.9 344.7,459.2 344.6,457.6 344.7,455.8"/>
<polygon class="p" fill="#93D4A7" points="376.3,457.1 378,456.2 377.6,458.8 380.5,459.2 382.4,458.9 383.8,458.8 385,460.2 386.3,460.8 387.8,461.8 389.7,462.5 391,464.1 393,465 395.3,465.7 397.2,465.8 399.1,466.1 400.5,467.5 401.8,469.1 403,470 403.3,472 403.8,474.2 404.6,476.5 404.7,478.3 364.7,478.3 366.2,476.6 367.6,474.4 369.7,472.5 368,470 365.5,468.8 363,467.5 365.5,465.8 368,464.2 370,464.6 371.3,465 373,462.5 374.7,460 376,458.6"/>
<polyline class="l" points="365.5,465.8 366.5,467.6 368,468.3 370.2,468.6 371.3,469.6 372.7,469.3 374.7,469.2 376.6,468.2 378,467.5 379.9,466.4 381.3,466.2 383.8,466.7 386.3,465.8 388.8,466.7 391.3,468.3 392.2,470"/>
<polyline class="l" points="383.8,466.7 383,468.3 381.5,468.9 379.7,469.6 378.3,470.2 376.3,470.8 374.2,472 372.2,472.5 370,473.3 368,475"/>
<polygon class="p" fill="#1C1F82" points="340.9,436.7 341.3,438.1 343,439.2 344.7,440.4 344.2,443.3 343.6,444.7 343.4,446.7 343.9,448.2 343.8,450 344.7,451.4 344.7,453.3 344.7,455.8 344.6,457.6 344.7,459.2 345.4,460.9 345.1,463.3 345.8,465.2 345.5,466.7 345.9,468.7 345.9,470 347.2,472.9 349.7,471.7 351.3,470.7 352.2,469.6 353.8,467.5 356.3,466.2 357.6,466.7 359.7,466.7 361.4,467.6 363,467.5 365.5,468.8 368,470 369.7,472.5 370.6,474.2 370.6,476.7 371.3,478.3 313.8,478.3 314.1,476.4 313.4,473.7 313.6,471.9 314.3,469.8 313.8,467.5 315.9,466.9 318,466.7 320.5,467.5 323,468.3 321.9,466.7 321.3,464.2 320.9,462.4 320.5,460.8 322.2,458.3 323.8,456.2 324.8,455 325.5,453.3 325.1,450.4 327.2,448.3 329.7,446.7 332.2,445.8 333.4,443.3 335.9,441.7 337.4,440.4 338,439.2 340,438.2"/>
<polyline class="l" points="334.7,446.7 334.5,448.1 333.4,450 333.7,451.9 333.8,453.3 332.8,454.5 332.6,456.7 332.6,458.7 333.4,460 335.1,461.7 333,463.3 331.7,463.8 329.7,464.2 328,465.8 330.5,467.5 333.4,467.5 333,470.4 333.8,473.3 335.1,473.8 337.2,473.8"/>
<polyline class="l" points="343.8,440 342.9,442.5 343,445 342.4,447.4 342.6,450 343,452.3 343,455"/>
<polygon class="p" fill="#FFFFBF" points="343,429.6 343,432.1 341.3,434.2 340.9,436.7 340,438.2 338,439.2 337.4,440.4 335.9,441.7 333.4,443.3 332.2,445.8 329.7,446.7 327.2,448.3 325.1,450.4 325.5,453.3 324.8,455 323.8,456.2 322.2,458.3 320.5,460.8 320.9,462.4 321.3,464.2 321.9,466.7 323,468.3 320.5,467.5 318,466.7 315.9,466.9 313.8,467.5 314.2,465 314.1,462.5 313.4,460.1 313.6,457.2 313.3,455.3 313.4,452.4 313.8,450 316.2,450.4 318,450 319.7,448.3 321.3,445.8 322,444.4 323.8,443.3 324.8,441.7 326.3,441.2 328.4,439.2 328,436.2 329.7,433.8 331.4,432.9 332.2,431.7 334.7,432.5 337.2,431.7 339.7,430.8 341.1,429.7"/>
<polygon class="p" fill="#93D4A7" points="313.8,411.7 315.8,411.4 318,411.7 318.8,412.1 320.5,413.3 323,414.6 325.5,415.8 323.8,417.1 325.1,419.2 327.2,418.3 329.7,420 331.3,421.7 332.6,422.6 333.8,423.8 335.5,425.8 335.7,427.5 335.9,429.2 337.2,431.7 334.7,432.5 332.2,431.7 331.4,432.9 329.7,433.8 328,436.2 328.4,439.2 326.3,441.2 324.8,441.7 323.8,443.3 322,444.4 321.3,445.8 319.7,448.3 318,450 316.2,450.4 313.8,450"/>
</g>
<g clip-path="url(#c13)">
<polygon class="p" fill="#37A7B8" points="325.8,545.8 446.7,545.8 446.7,633.3 325.8,633.3"/>
<polyline class="l" points="330,550 332.4,550.8 334.2,550.8 335.8,551.7 338.3,552.1 340.2,553.1 342.5,553.3 344.9,554.1 346.7,554.6 348.4,555.2 350.8,555.8 352.7,555.9 354.2,556.7"/>
<polygon class="p" fill="#FFFFBF" points="330,602.1 331.8,601.2 333.3,600.8 335.2,599.8 336.7,600 338.2,599.2 340,599.2 341.7,596.7 343.2,596 345,595.4 346.7,593.3 345,590.8 345.9,590 347.5,588.8 348.1,586.5 347.9,584.2 350.8,583.3 352.7,583.2 354.2,584.2 353.5,582.9 353.3,580.8 353.7,579.1 353.8,576.7 353.6,574.5 354.2,572.1 356.7,571.8 357.2,573.4 358.3,575 359.2,577 359.6,578.8 361.5,578.8 363.3,579.2 365.5,578.5 367.5,578.8 369.3,579.1 371.7,579.2 373.8,581.2 374.6,582.7 375,585 375.5,587 375.4,589.2 375.2,591 376.2,593.3 377.5,595.4 377.9,597.1 380.8,598.3 382.6,597.6 384.2,597.9 385.5,598.4 387.5,599.2 389.9,598.6 391.7,598.3 394.6,598.8 395.2,597.1 395.8,595 398.3,594.2 400.8,593.3 402.5,595.4 404.2,597.9 405.4,600 407.5,601.7 409.1,603.5 410,605 409.9,606.7 410.4,608.3 410.8,611.2 412.8,611.4 414.2,611.2 416.7,611.7 419.2,612.5 421.2,614.6 420.3,615.8 418.3,616.7 416.7,619.2 416.3,620.8 415,622.5 414.2,625 414.8,627.1 415.8,628.3 416.7,630 416.3,631.5 417.5,633.3 349.2,633.3 348.8,631.4 348.3,629.2 346.9,627.4 345.8,625 344.8,623.3 344.2,621.7 344.2,619.8 344.6,618.3 344,616.8 342.5,615.8 340.8,613.3 341.5,612 341.2,610 340,607.5 337.5,605.8 335.5,606.1 334.2,605.4 331.2,605 330,603.3 327.9,603 325.8,603.3 325.8,601.7 327.5,601.9"/>
<polygon class="p" fill="#1C1F82" points="325.8,603.3 327.9,603 330,603.3 331.2,605 334.2,605.4 335.5,606.1 337.5,605.8 340,607.5 341.2,610 341.5,612 340.8,613.3 342.5,615.8 344,616.8 344.6,618.3 344.2,619.8 344.2,621.7 344.8,623.3 345.8,625 346.9,627.4 348.3,629.2 348.8,631.4 349.2,633.3 346.6,633.1 344.1,633.4 341.6,633.1 338.7,633.7 335.8,633.5 333.4,633.3 331.2,633.6 328,632.9 325.8,633.3 325.5,630.6 325.6,628.2 325.2,626 325.3,623.4 325.3,620.9 325.6,618.3 326.3,615.4 325.3,613.4 325.3,610.4 326.3,608 325.6,605.7"/>
<polygon class="p" fill="#2569A8" points="325.8,615 328.4,614.6 330.8,615.4 332.9,617.5 332.5,620.4 330.4,621.7 328.3,621.7 325.8,621.7 325.6,619.6 325.5,617.2"/>
<polygon class="p" fill="#93D4A7" points="355,552.1 356.7,554.2 358.4,554.2 360,555 361.6,555.7 363.3,556.2 364.6,556.7 365.8,558.3 366.8,559.3 367.9,560.8 368.7,562.9 369.2,564.2 369.3,566.3 370,567.5 371.8,567 373.3,567.1 374.2,569.6 373.8,571.2 370.8,571.7 368.8,571.3 367.5,572.1 365,572.5 363.3,572.2 361.7,572.1 360.4,571.6 358.3,571.8 356.7,571.8 354.2,572.1 352.4,571.1 350.8,571.2 348.9,571.6 347.5,572.1 346.7,573.1 345,574.2 342.9,574.6 341.8,573.2 340.8,571.7 342.3,570.7 343.3,569.6 345,568.3 346.7,567.1 347.5,565.2 348.8,564.2 350,562.7 350.8,561.2 352.3,560 352.9,558.3 353.6,557 354.2,555"/>
<polygon class="p" fill="#FFFFFF" points="363.3,556.2 362.9,554.6 365.8,552.9 368.8,550.8 370.8,549.2 379.2,549.2 380.4,553.3 380,557.5 377.9,560 375.8,562.5 374.2,565 371.7,566.7 370,567.5 369.2,564.2 367.9,560.8 365.8,558.3"/>
<polygon class="p" fill="#1C1F82" points="390.8,568.8 392.5,566.2 393.3,565.3 395,564.2 397.5,562.9 399,562.6 400.8,562.5 403.3,563.8 402.5,565.8 401.7,567.1 400,567.9 398.2,569 397.5,570.4 395,572.1 392.1,571.2 390.4,570"/>
<polygon class="p" fill="#FFFFBF" points="406.2,572.1 406.9,570.9 408.8,570 410.4,570.1 412.1,569.2 415,567.9 416.4,567.2 417.5,565.8 418.8,563.8 420.4,563.3 421.7,565 420.4,567.5 419.2,570 417.5,572.5 415.8,574.6 414.2,575.8 411.7,574.6 408.8,574.2 406.7,573.3"/>
<polygon class="p" fill="#2569A8" points="400.8,552.5 403.3,551.7 404.8,552.3 406.7,552.1 407.8,551.2 410,551.2 411.5,550 413.3,549.2 415.9,549.7 417.7,549.2 420.2,549.7 422.3,549.5 425,549.2 426.1,550.5 427.1,552.5 427.5,555 425.8,557.1 424.4,557.5 422.5,557.9 420.7,559.2 419.2,559.2 417.3,560.2 415.8,560.4 414,560 412.5,559.6 410.3,559.2 409.2,558.3 407.3,557.9 405.8,557.1 404,556 402.5,555"/>
<polygon class="p" fill="#1C1F82" points="397.5,549.2 399.7,549.5 401.7,549.2 404.3,549.2 406.3,549.2 408.9,549 410.7,549.5 413.3,549.2 411.5,550 410,551.2 407.8,551.2 406.7,552.1 404.8,552.3 403.3,551.7 400.8,552.5 398.3,551.2"/>
<polygon class="p" fill="#1C1F82" points="425,549.2 427.4,548.6 429.5,549.3 431.9,548.7 435,549 436.7,549.5 439.7,549.6 441.9,549.4 444.4,549.1 446.7,549.2 447.1,551.6 447,554.5 446.8,556.4 446.4,559.5 447.2,561.8 447,564.1 447,566.3 446.7,569.2 444.6,568.2 442,567.9 439.7,566.5 438.3,565 435.8,563.8 433.3,564.6 431.4,563.5 430,562.5 428.8,560 427.9,557.1 427.5,555 427.1,552.5 426.1,550.5"/>
<polygon class="p" fill="#FFFFBF" points="435.8,563.8 438.3,565 439.7,566.5 442,567.9 444.6,568.2 446.7,569.2 446.7,571.7 446.3,574.2 446.6,576.2 446.5,578.7 446.8,581.5 447.1,583.7 446.3,586.3 446.7,588.6 446.7,590.9 446.7,593.3 444.7,593 442,592.9 440.1,593 438.3,593.8 436.8,592.8 435,592.5 432.1,593.3 430.9,594.3 430,595.8 428.8,598.8 427.9,601.7 427.9,603.4 426.7,605 425,607.5 423.9,608.3 422.5,609.6 421.2,611.2 419.2,612.5 416.7,611.7 414.2,611.2 415.4,608.3 417.1,607.5 417.5,605 416.7,602.1 417.1,600 419.6,599.2 420,596.2 419.7,594.2 419.6,592.5 419.6,591 420,589.2 421.7,587.9 424.2,589.2 426.7,588.8 429.6,588.3 429.6,586.3 430.4,585 432.1,582.5 432.6,581.2 432.9,579.2 433.3,577.1 433.3,575 433.8,572.5 434.2,570.8 433.5,568.8 433.8,567.1 434.6,564.6"/>
<polygon class="p" fill="#1C1F82" points="405.4,600 405.8,597.5 408.3,595.8 410.4,596.7 412.5,598.3 415,599.6 417.1,600 416.7,602.1 417.5,605 417.1,607.5 415.4,608.3 414.2,611.2 412.8,611.4 410.8,611.2 410.4,608.3 409.9,606.7 410,605 409.1,603.5 407.5,601.7"/>
<polygon class="p" fill="#1C1F82" points="419.2,612.5 421.2,611.2 422.5,609.6 423.9,608.3 425,607.5 426.7,605 427.9,603.4 427.9,601.7 428.8,598.8 430,595.8 430.9,594.3 432.1,593.3 435,592.5 436.8,592.8 438.3,593.8 440.1,593 442,592.9 444.7,593 446.7,593.3 446.7,633.3 444.7,633.3 442.2,633.3 439.3,633.7 436.6,633.9 434.9,633.6 432.5,633.4 430,632.8 427.6,633.7 424.7,633.6 422.4,633.8 419.6,633.5 417.5,633.3 416.3,631.5 416.7,630 415.8,628.3 414.8,627.1 414.2,625 415,622.5 416.3,620.8 416.7,619.2 418.3,616.7 420.3,615.8 421.2,614.6"/>
<polygon class="p" fill="#2569A8" points="441.2,608.3 443.1,607.9 444.7,608.1 446.7,607.5 446.3,609.7 447.1,611.6 446.8,613.8 446.7,615.8 444.1,615.1 441.7,615 441.7,613.2 440.8,611.7 440.9,609.9"/>
<polyline class="l" points="420,612.5 421.3,613.8 423.3,614.2 425,614.7 426.7,614.6 428.5,614.6 430,614.2 431.4,613.7 433.3,612.5 434.2,611.3 435.8,610 437.5,608.3 436.7,605.4 435,603.3 437.5,602.1 439.4,602.7 440.8,602.5 442.5,603.3"/>
<polyline class="l" points="430,614.2 429.1,615.9 429.2,617.5 428.8,619.1 428.8,620.8 429.2,622.1 430,624.2 431.3,625.3 432.5,626.7 433.1,628.8 434.2,630.4"/>
<polyline class="l" points="437.5,608.3 440,610 441.2,608.3"/>
<polyline class="l" points="392.1,598.3 392.4,596.3 392.9,595 393.6,593.5 394.6,592.1 395.7,591.1 396.7,589.6 397.7,587.9 399.2,587.1 400.8,586.6 402.5,585.8 404.2,585.6 405.8,584.6 407.1,585.2 409.2,585.4 411.1,585.4 412.5,585 414.2,585.9 415.8,585.8 417.9,586.7 418.3,589.2 418.9,591.2 418.8,592.5 419.6,594.3 419.6,596.2 420,599.2"/>
</g>
<g clip-path="url(#c14)">
<polygon class="p" fill="#37A7B8" points="235.8,520.8 356.7,520.8 356.7,608.3 235.8,608.3"/>
<polygon class="p" fill="#93D4A7" points="235.8,520.8 238.6,521.4 240.8,520.4 243.9,521.1 245.8,521.3 248.3,520.4 251.3,521 253.8,520.8 253.5,522.8 254.2,525 254.6,527.5 255.3,529.2 255.8,531.7 256.9,533 257.9,535 260,537.1 258.1,538.1 256.7,539.2 255.3,540.3 253.3,541.2 252.3,542.9 251.2,544.6 251.5,546.8 250.8,548.3 249.7,549.6 248.8,551.7 247,552.2 245,552.9 242.7,553.7 240,554.2 237.9,554.7 235.8,554.6"/>
<polygon class="p" fill="#93D4A7" points="306.7,520.8 356.7,520.8 357.1,523.5 357.3,526 357,528.5 356.9,530.4 356.9,533.3 356.7,535.8 354.1,536.6 352,537.5 349.7,537.8 347.5,539.2 345.5,540.1 343.3,540.8 341.7,542.5 339.6,543.6 337.5,544.2 336,546.4 334.2,547.5 331.7,547.9 329.7,548 327.5,547.1 325,546.4 323.3,545.4 321.2,544.2 320.7,542.4 320.4,540 320,538 320,535.8 317.5,534.2 316.3,533 314.2,531.7 312.4,530.8 310.8,529.2 309.4,528.2 307.9,526.7 308,524.5 307.3,522.9"/>
<polyline class="l" points="322.1,529.2 325,530.4 326.6,531 328.3,532.1 329,533.4 330.8,534.2 332.1,535.5 333.3,536.2 335,537.3 336.7,538.3 338.8,538.9 340,540 342.5,541.2"/>
<polyline class="l" points="322.1,529.2 324.2,527.5 325.1,526 326.7,524.6"/>
<polyline class="l" points="344.2,539.2 344.1,536.4 345,534.2 345.7,532.9 347.5,531.7 348.7,530.6 350,529.2 351.5,528.3 352.5,526.7"/>
<polygon class="p" fill="#FFFFBF" points="343.3,540.8 345.5,540.1 347.5,539.2 349.7,537.8 352,537.5 354.1,536.6 356.7,535.8 356.3,538.3 357.1,540.5 356.7,542.1 356.6,544.1 356.7,546.7 354.3,547.1 352,547.5 349.8,547.2 348.3,546.7 346.7,545.7 345,545 342.9,542.9"/>
<polygon class="p" fill="#93D4A7" points="352,560 354.6,559.3 356.7,559.2 356.2,562 356.6,563.9 356.9,566.3 356.7,569.2 356.7,571.7 354.6,571.8 352,571.7 350.3,573.3 347.5,574.2 345.8,575.2 344.2,575 342.1,572.9 341.2,571.2 342.2,569.9 344.2,569.2 345.9,567 347.5,565.8 348.7,564.5 350,562.5 350.6,561.4"/>
<polygon class="p" fill="#FFFFBF" points="356.7,582.5 354.2,582.6 352,583.3 349.7,584.2 348.3,585.8 347.4,588.2 346.7,590 345.9,591.9 344.2,593.3 343.2,595.3 341.3,596.1 340.8,597.5 339,598.3 337.4,599.3 335.8,600 333.4,600.9 331.7,602.5 330.4,605 331.1,606.8 331.7,608.3 334,607.9 336.4,608.8 338.9,608.5 341.7,608.8 344.1,608.5 346.3,608.4 349.2,607.7 351.7,607.8 354.2,608.4 356.7,608.3 356.3,605.8 356.5,603 356.9,600.7 357,597.8 356.5,595.2 356.9,593 356.6,590.2 356.3,587.4 356.9,584.9"/>
<polyline class="l" points="331.7,547.9 333.8,548.8 335,550 337.3,550.1 339.2,550.8 341.3,552.3 343.3,552.5 345.3,553.6 347.5,554.2 350.4,554.3 352.5,555.4"/>
<polyline class="l" points="335,546.7 336.4,546 337.5,544.6 340,543.8 342.9,542.9"/>
<polygon class="p" fill="#2569A8" points="303.3,520.8 304.7,521.3 306.7,520.8 307.3,522.9 308,524.5 307.9,526.7 309.4,528.2 310.8,529.2 312.4,530.8 314.2,531.7 316.3,533 317.5,534.2 320,535.8 320,538 320.4,540 320.7,542.4 321.2,544.2 319.3,545.5 318.3,546.7 316.6,548.1 315,548.3 313.8,549 311.7,549.6 309.7,549.6 308.3,550.4 306.2,550 305.8,548.5 305.4,546.7 305.3,544.4 305,542.5 304.6,540 304.6,538.6 305,536.7 303.8,534.2 302.5,532.5 303.2,531.1 303.3,529.2 303.7,527.1 303.6,524.6 303.3,523.2"/>
<polygon class="p" fill="#2569A8" points="300,537.5 301.7,535.4 303.8,535 305,536.7 304.6,538.6 304.6,540 302.5,541.2 300.8,540.4"/>
<polygon fill="#4A4A4A" fill-opacity="0.5" stroke="#4A4A4A" stroke-opacity="0.7" stroke-width="0.8" points="280.4,535.4 284.2,534.2 288.3,534.6 291.7,535.8 295,534.2 297.5,535.4 298.3,539.2 297.5,544.2 298.3,548.3 297.5,552.5 298.3,556.7 299.6,560.8 300,565 298.3,568.3 295,570 291.7,568.3 288.3,566.7 285,564.2 283.3,560.8 284.6,557.1 286.7,555.8 288.8,554.2 291.2,551.7 293.3,549.6 292.5,548.8 290,550.4 287.9,552.5 285.4,553.8 283.3,551.7 285,548.3 283.3,545 280.8,541.7 278.8,540.8 281.7,538.8"/>
<polygon fill="#4A4A4A" fill-opacity="0.5" stroke="#4A4A4A" stroke-opacity="0.7" stroke-width="0.8" points="269.2,560.8 272.5,558.3 275.8,557.1 278.3,556.7 279.2,560 277.9,564.2 275.8,568.3 273.3,569.2 271.7,565.8 268.8,564.2"/>
<polygon fill="#4A4A4A" fill-opacity="0.5" stroke="#4A4A4A" stroke-opacity="0.7" stroke-width="0.8" points="256.7,575 260,571.7 263.3,570.4 266.7,570.8 268.3,573.3 266.7,576.7 264.2,579.2 260.8,578.3 258.3,576.7"/>
<polygon fill="#4A4A4A" fill-opacity="0.5" stroke="#4A4A4A" stroke-opacity="0.7" stroke-width="0.8" points="249.2,581.7 252.5,580.4 256.7,581.7 257.9,584.2 255.8,586.7 252.5,588.3 250.4,586.7"/>
<polygon fill="#4A4A4A" fill-opacity="0.5" stroke="#4A4A4A" stroke-opacity="0.7" stroke-width="0.8" points="310,553.3 312.5,556.7 315,558.3 317.5,561.7 320.8,561.7 324.2,562.1 326.7,564.2 327.1,568.3 326.7,572.5 323.3,576.7 320,580 316.7,581.7 313.3,580 311.7,576.7 312.5,574.2 310.8,574.6 308.3,571.7 306.7,566.7 305.8,561.7 307.5,557.5"/>
<polygon class="p" fill="#FFFFFF" points="299.6,520.8 303.3,520.8 303.3,529.2 302.5,532.5 301.2,534.2 299.6,536.7 299.2,538.8 300.4,540.4 302.1,542.1 303.8,544.6 305,548.3 305.4,553.3 305,558.3 304.2,562.5 303.3,566.7 302.1,571.7 300.8,576.7 300,581.7 298.8,586.7 298.3,590 297.5,591.7 295,588.3 296.7,583.3 298.3,578.3 299.6,572.5 300.4,566.7 301.2,561.7 302.1,556.7 302.5,551.7 302.5,547.5 302.1,544.6 300.4,542.9 298.8,540.8 298.3,538.3 298.8,535.8 300,533.3 300.4,530 299.6,526.7"/>
<polygon class="p" fill="#FFFFFF" points="281.7,552.5 283.3,551.7 285.4,553.8 287.9,552.5 290,550.4 292.5,548.8 293.3,549.6 291.2,551.7 288.8,554.2 286.7,555.8 284.6,557.1 283.3,560.8 282.1,565 280.8,569.2 280,572.5 279.2,575 277.5,577.5 276.2,580 277.1,583.3 280,585.8 283.3,588.3 286.7,589.6 290.8,590 294.2,589.2 297.5,591.7 298.3,590 301.7,590.8 304.2,589.6 305.8,585 307.1,580 308.3,576.7 310.8,574.6 312.5,574.2 310.8,576.7 309.6,580 308.8,583.3 310,586.7 313.3,587.9 315.8,586.7 317.1,585 317.5,586.7 315.8,589.2 313.3,590.8 311.7,594.2 310.8,598.3 309.6,602.5 308.8,608.3 296.7,608.3 297.5,605 297.1,600.8 294.2,598.3 290.8,595.8 287.5,593.3 283.3,592.1 279.2,592.1 274.2,593.3 269.2,595 264.2,597.1 259.6,598.8 257.9,601.7 256.7,608.3 235.8,608.3 235.8,591.7 240,590.8 244.2,594.2 248.3,597.5 252.5,600 255.4,598.3 255,594.2 255.4,590.8 257.9,588.3 261.7,585.8 265.8,583.3 269.2,580 272.5,575.8 275,571.7 277.5,566.7 279.6,561.7 281.2,557.5 282.5,554.2"/>
<polygon class="p" fill="#37A7B8" points="302.1,571.7 303.3,570 304.6,572.5 304.5,574.4 305,576.7 304.5,579.5 304.6,581.7 304.1,584.2 304.2,586.7 303,588.7 302.9,590.8 300.8,591.2 298.8,589.2 298.3,587.8 298.3,585.8 298.9,584.2 299.6,581.7 299.7,578.8 300.4,576.7 301.2,575.3 301.2,573.3"/>
<polygon fill="#4A4A4A" fill-opacity="0.5" stroke="#4A4A4A" stroke-opacity="0.7" stroke-width="0.8" points="283.3,571.7 286.7,570 290.8,569.2 295,570.4 297.5,573.3 296.7,577.5 294.2,581.7 290.8,585 287.5,586.7 284.2,586.2 280.8,584.6 277.5,582.5 276.7,580 278.3,576.7 280.8,575"/>
<polygon class="p" fill="#37A7B8" points="259.6,599.2 261.9,598.9 264.2,597.5 265.7,596.6 267.2,596.2 269.2,595.4 270.9,594.8 272.2,594.2 274.2,593.8 276.5,593.3 279.2,592.5 281.1,592.6 283.3,592.5 285.6,593.2 287.5,593.8 289.3,594.5 290.8,596.2 293,597.3 294.2,598.8 295.4,599.8 296.7,601.2 296.7,603.1 297.1,605 296.4,607 296.7,608.3 257.1,608.3 257.7,605.9 258,604.1 257.9,602.1 259.1,600.6"/>
<polygon fill="#4A4A4A" stroke="#4A4A4A" stroke-width="1" points="260.4,588.8 262.9,588.3 263.8,590.4 261.7,591.2"/>
<polygon fill="#4A4A4A" stroke="#4A4A4A" stroke-width="1" points="259.2,592.9 260.8,592.9 260.8,594.2 259.3,594.2"/>
<polygon fill="#4A4A4A" stroke="#4A4A4A" stroke-width="1" points="294,590.8 295.7,590.8 295.7,592.7 294,592.7"/>
<polyline class="l" points="263.3,559.2 263.8,560.7 264.2,562.5 265.9,564.2 267.5,565 269.5,565.9 270.8,566.7 272.5,568 273.3,569.2"/>
<polyline class="l" points="278.3,540.8 280.2,542.3 281.7,544.2 283.4,545.5 283.8,547.4 285,548.3"/>
<polyline class="l" points="295,530 295.6,531.8 296.7,533.3 297.5,535.4"/>
<polyline class="l" points="286.7,537.5 288.4,538.8 288.4,540.2 290,541.7 289.9,543.2 289,544.9 288.3,546.7 290.1,548.7 291.7,550 291.2,551.4 290.5,553.7 290,555 291.7,556.6 293.3,558.3 291.6,560.3 290.8,562.5 292.6,564.5 294.2,565.8"/>
<polyline class="l" points="291.7,536.7 292.8,539.2 294.2,540.8 294.2,543.6 293.3,545.8 294.5,548 295.8,550 295.5,551.3 295,553.1 294.2,555 294.8,556.7 295.6,558.3 296.7,560 296,561.5 295.4,563.2 295,565"/>
<polyline class="l" points="281.7,538.3 283.8,539.8 285,541.7 285.3,543.2 286.7,545"/>
<polyline class="l" points="313.3,558.3 314.6,560.3 315.2,562.2 316.7,564.2 316.3,566.4 315.7,567.8 315,570 317,570.9 317.8,571.6 319.2,573.3 318.2,575.1 317.5,576.5 317.5,578.3"/>
<polyline class="l" points="320,562.5 321.3,564.8 322.5,566.7 321.6,568.6 321,570.1 320.8,571.7 322.9,572.7 324.2,574.2"/>
<polyline class="l" points="271.7,560 273.4,561.3 274.2,562.5 273.5,564.3 273.3,565.8 275.8,566.7"/>
<polyline class="l" points="259.2,574.2 261.3,574.6 262.5,575 261.7,577.5 263,577.1 265,576.7"/>
</g>
<g clip-path="url(#c15)">
<polygon class="p" fill="#37A7B8" points="313.8,470.8 434.7,470.8 434.7,558.3 313.8,558.3"/>
<polygon class="p" fill="#93D4A7" points="325.5,500.8 327.2,502.5 329,502.6 330.5,502.1 331.8,501.4 333.8,500.8 335.7,499.7 338,499.2 339.8,499.2 342.2,498.3 344,498.6 346.3,499.2 346.8,500.6 348.4,501.7 349.8,502.7 350.5,504.2 351.8,504.5 353.8,505 355.6,505.8 357.2,506.7 358.5,508.2 359.7,509.2 361.1,510.4 362.2,512.5 363.2,514.1 364.7,515.8 365.2,517.5 366.3,519.2 367.7,521 368,522.9 369.9,523.6 371.3,525 371.5,527.4 370.9,529.2 371,531.1 371.3,532.5 369.7,532.8 368,533.3 366.3,533.7 364.7,533.8 362.4,533.7 360.5,534.2 358.7,534.8 356.3,535 354.7,536.4 353,536.7 351.5,538 349.7,538.8 347.7,539.4 346.3,540 344.7,540.6 343,540.8 342.2,542.5 340.5,543.5 338.8,543.3 337.3,544.9 336.3,545.8 334.8,547 333,547.5 331.5,547.3 329.7,546.7 327.8,546.3 326.3,546.2 324.7,546.2 323,545.8 321.3,543.3 321.3,541 321.8,538.3 321.6,536.5 321.3,534.2 319.8,534.4 318,533.8 316.1,533.5 313.8,533.8 314.4,531.8 313.6,529.5 314.2,527.1 314.2,524.3 313.3,522.1 313.8,519.9 313.7,518.1 313.8,515.4 316,515.1 318,515.4 320,515.2 322.1,515.5 324.7,515 324.2,512.8 324.2,510 323.8,508.1 323,506.7 323.3,505.1 323.8,503.3 323.8,501.4 323,500"/>
<polygon class="p" fill="#1C1F82" points="313.8,470.8 368,470.8 367.5,473.6 368.3,475.5 367.6,478.3 365.7,480.1 364.7,481.7 363,482.9 360.9,482.9 359.7,482.1 359.3,483.6 358,485 356.9,486.2 354.7,486.7 353,487.8 351.3,488.3 348.8,489.2 349.4,490.4 350.9,491.7 352.4,493.5 353.8,494.6 355.9,494.8 358,495.4 360.1,496.4 362.2,497.1 363.5,498.1 365.5,499.2 367.1,499.6 368.8,500 369.8,501 371.3,502.5 371.9,504 373.4,505 373.7,507.1 374.7,509.2 376,511.1 376.3,513.3 377.2,515.3 378,516.7 378.7,519.1 380.1,520.8 378.8,523.3 380.1,525.4 378,525 375.5,523.3 373,522.5 371.3,525 369.9,523.6 368,522.9 367.7,521 366.3,519.2 365.2,517.5 364.7,515.8 363.2,514.1 362.2,512.5 361.1,510.4 359.7,509.2 358.5,508.2 357.2,506.7 355.6,505.8 353.8,505 351.8,504.5 350.5,504.2 349.8,502.7 348.4,501.7 346.8,500.6 346.3,499.2 344,498.6 342.2,498.3 339.8,499.2 338,499.2 335.7,499.7 333.8,500.8 331.8,501.4 330.5,502.1 329,502.6 327.2,502.5 325.5,500.8 323,500 323.8,501.4 323.8,503.3 323.3,505.1 323,506.7 323.8,508.1 324.2,510 324.2,512.8 324.7,515 322.1,515.5 320,515.2 318,515.4 316,515.1 313.8,515.4"/>
<polyline class="l" points="331.3,474.6 330.3,476.5 330.2,478.6 329.7,480 328.6,482.8 328.4,485 329,487.7 329.2,490 330,492.1 329.7,494.2 328,495 326.3,495.8 325.2,497.6 325.1,499.2 325.5,500.8"/>
<polygon class="p" fill="#FFFFBF" points="313.8,495 315.7,495.1 318,495 320.5,496.2 321.3,497.7 322.6,498.8 322.2,501.7 319.7,503.3 318,503.8 315.6,504 313.8,503.8 313.7,501.3 314,499.2 313.7,497.5"/>
<polygon class="p" fill="#37A7B8" points="368,470.8 370.3,470.5 373,470.8 373.2,472.7 373.2,475.2 372.6,476.7 373.9,478 375.5,480 378.4,481.2 376.3,483.3 374.7,485.8 374.5,488.1 375.1,489.6 376,491.4 376.3,492.9 375.5,495.8 375.7,497.9 375.1,500 374.8,502 374.7,504.2 373.4,505 371.9,504 371.3,502.5 369.8,501 368.8,500 367.1,499.6 365.5,499.2 363.5,498.1 362.2,497.1 360.1,496.4 358,495.4 355.9,494.8 353.8,494.6 352.4,493.5 350.9,491.7 349.4,490.4 348.8,489.2 351.3,488.3 353,487.8 354.7,486.7 356.9,486.2 358,485 359.3,483.6 359.7,482.1 360.9,482.9 363,482.9 364.7,481.7 365.7,480.1 367.6,478.3 368.3,475.5 367.5,473.6"/>
<polygon class="p" fill="#93D4A7" points="373,470.8 422.2,470.8 422.4,473 421.2,474.4 421.3,476.7 419.6,477.9 419.2,479.2 418,482.1 416.4,482 414.7,482.9 412.3,482.4 410.5,482.1 408.3,483.3 406.3,483.3 403.8,485 402.6,486.7 402.9,488.4 402.2,490.8 401.7,493.6 401.8,495.8 399.6,496.5 398,497.1 396.1,496.7 393.8,496.7 392,497.3 389.7,498.3 387.7,499 386.3,500 384.7,502.1 382.2,500.8 380.6,501.1 378.8,501.7 376.3,503.3 374.7,504.2 374.8,502 375.1,500 375.7,497.9 375.5,495.8 376.3,492.9 376,491.4 375.1,489.6 374.5,488.1 374.7,485.8 376.3,483.3 378.4,481.2 375.5,480 373.9,478 372.6,476.7 373.2,475.2 373.2,472.7"/>
<polyline class="l" points="378.4,481.2 380.4,480 382.2,479.6 383.5,478.7 385.5,477.9 387.7,477.6 389.7,477.5 391.6,477 393.8,476.2 395.9,475.9 398,475.8 400,476.3 402.2,476.2 404.1,476.2 405.5,475.4 407.1,476.3 408.8,476.7 410.6,477.7 412.2,477.9 414.7,479.2 416.5,479.2 418,478.8"/>
<polygon class="p" fill="#37A7B8" points="405.1,470.8 407.2,470.7 409.9,470.8 412.7,470.3 415.1,470.4 417.6,471.2 420,470.7 422.2,470.8 421.6,472.8 420.8,474.4 420.9,476.2 418,477.1 415.9,476.9 414.7,476.2 412.4,476.1 410.5,475.8 408.8,475.3 406.3,475.4 405.3,472.8"/>
<polygon class="p" fill="#2569A8" points="422.2,470.8 424.4,470.6 427.1,470.4 429.8,471 432.1,471.1 434.7,470.8 434.7,503.3 432.1,502.8 430,502.9 428.6,503.8 427.2,505 425.4,504.1 423.8,504.2 422.1,504.6 420.5,504.6 419.1,504.2 417.2,503.8 415,504.2 413.8,505 411.3,504.2 408.4,502.9 405.5,502.1 403.4,502.5 403.1,500.7 402.2,499.2 401.7,497.4 401.8,495.8 401.7,493.6 402.2,490.8 402.9,488.4 402.6,486.7 403.8,485 406.3,483.3 408.3,483.3 410.5,482.1 412.3,482.4 414.7,482.9 416.4,482 418,482.1 419.2,479.2 419.6,477.9 421.3,476.7 421.2,474.4 422.4,473"/>
<polygon class="p" fill="#37A7B8" points="374.7,504.2 376.3,503.3 378.8,501.7 380.6,501.1 382.2,500.8 384.7,502.1 386.3,500 387.7,499 389.7,498.3 392,497.3 393.8,496.7 396.1,496.7 398,497.1 399.6,496.5 401.8,495.8 401.7,497.4 402.2,499.2 403.1,500.7 403.4,502.5 403.5,504.7 403,506.7 403.1,508.6 402.2,510.8 401.3,513.1 400.9,515 400.4,516.5 400.1,518.3 400.9,519.9 400.9,521.7 401.5,522.9 401.3,525 400.6,526.2 400.1,528.3 399.5,529.8 398,530.8 397.3,532.2 395.5,533.3 393,535 390.5,535.4 389.2,533.3 390.5,530.8 392.2,528.3 390.9,525.8 388.8,525.4 386.3,527.1 383.8,528.3 381.3,527.5 380.1,525.4 378.8,523.3 380.1,520.8 378.7,519.1 378,516.7 377.2,515.3 376.3,513.3 376,511.1 374.7,509.2 373.7,507.1 373.4,505"/>
<polygon class="p" fill="#37A7B8" points="403.4,502.5 405.5,502.1 408.4,502.9 411.3,504.2 413.8,505 415,504.2 417.2,503.8 419.1,504.2 420.5,504.6 422.1,504.6 423.8,504.2 425.4,504.1 427.2,505 426.1,506.3 425.5,508.3 424.1,509.7 423.4,510.8 423.4,512.5 424.2,514.2 423.4,515.8 423.8,517.5 422.6,520.4 420.5,522.5 418,524.2 416.7,525 414.7,525 412.3,525.8 410.5,525.4 408.7,524.7 407.2,524.2 405.3,523.2 403.8,522.9 400.9,521.7 400.9,519.9 400.1,518.3 400.4,516.5 400.9,515 401.3,513.1 402.2,510.8 403.1,508.6 403,506.7 403.5,504.7"/>
<polygon class="p" fill="#2569A8" points="427.2,505 428.6,503.8 430,502.9 432.1,502.8 434.7,503.3 434.4,505.7 435.2,508.5 434.3,511.4 434.6,513.8 434.8,516 434.1,518.6 434.3,521.7 434.3,523.9 434.7,526.7 432.2,527 430,526.2 428.3,525.9 426.3,525 423.8,523.8 422.6,522.8 420.5,522.5 422.6,520.4 423.8,517.5 423.4,515.8 424.2,514.2 423.4,512.5 423.4,510.8 424.1,509.7 425.5,508.3 426.1,506.3"/>
<polygon class="p" fill="#1C1F82" points="400.9,521.7 403.8,522.9 405.3,523.2 407.2,524.2 408.7,524.7 410.5,525.4 412.3,525.8 414.7,525 416.7,525 418,524.2 420.5,522.5 422.6,522.8 423.8,523.8 426.3,525 428.3,525.9 430,526.2 432.2,527 434.7,526.7 434.7,558.3 432.7,558.1 430,558.3 429.2,556.4 428,555 426.2,553.4 425.5,551.7 425.5,549.5 424.7,547.5 425.1,545.8 425.1,543.3 424.2,540.8 421.3,541.7 419.8,542.7 418,542.9 415.8,543.8 413.8,544.2 412.2,544.8 410.5,545.8 409.2,546.8 408.4,548.3 409.7,550.8 408,552.5 406.2,552.3 404.7,551.7 403.1,550.7 401.3,550 399.3,549.4 398,548.3 396.3,546.2 397.8,544.9 399.2,543.3 400.4,541.9 402.2,540.8 403.5,539.4 404.7,538.8 406.8,536.7 405.2,535.6 403.8,535 402.2,532.5 400.8,530.4 400.1,528.3 400.6,526.2 401.3,525 401.5,522.9"/>
<polygon class="p" fill="#2569A8" points="408.4,548.3 409.2,546.8 410.5,545.8 412.2,544.8 413.8,544.2 415.8,543.8 418,542.9 419.8,542.7 421.3,541.7 424.2,540.8 425.1,543.3 425.1,545.8 424.7,547.5 425.5,549.5 425.5,551.7 426.2,553.4 428,555 429.2,556.4 430,558.3 427.8,558.1 425.1,557.7 422.4,557.9 420,558 417.5,558.6 415.3,558.5 412.7,558.6 410.6,558.2 407.5,558.1 405.4,558.8 402.6,558.6 400.5,558.3 399,556.3 398.8,554.2 398.3,552.1 397.2,550.8 396.7,548.1 396.3,546.2 398,548.3 399.3,549.4 401.3,550 403.1,550.7 404.7,551.7 406.2,552.3 408,552.5 409.7,550.8"/>
<polyline class="l" points="390.5,535.4 388,536.7 388.4,538.8 390.1,540.4 391.3,541.7 392.4,543 393.8,544.2 394.8,545.4 396.3,546.2"/>
<polyline class="l" points="371.3,525 371.5,527.4 370.9,529.2 371,531.1 371.3,532.5 372.9,533.3 374.7,534.6 376.2,535.4 378,535.4 379.6,535 381.3,535 383.3,535 384.7,535.8 386.3,536.2 388,536.7"/>
<polyline class="l" points="388,536.7 387.1,538.7 386.3,540.8 385,542.8 384.7,545 384.1,547.2 383,548.3 381.3,549.6 380.1,551.2"/>
<polyline class="l" points="371.3,536.7 373.3,537.1 375.5,537.1 377.8,536.7 379.7,536.7 381.5,537 383.8,537.1 386.1,536.9 388,536.7"/>
<polyline class="l" points="327.2,502.5 327.3,505.1 327.6,507.5 329.9,508.4 331.3,510 333.5,510.9 334.7,512.5 336.1,513.2 337.6,515 338.4,513.4 339.7,511.7 341,510 342.2,508.3 341.8,509.9 342.6,511.7 344.7,511.5 346.3,510.8 347.2,509.1 348.4,508.3 349,506.1 350.1,504.2"/>
<polyline class="l" points="331.3,510 330.9,511.9 330.6,513.7 329.7,515 328.8,517.3 327.6,519.2 327.5,521.6 328.4,523.3 326.6,524.9 325.5,526.7 323.6,528.1 322.2,529.2"/>
<polyline class="l" points="342.2,511.7 341.5,513.6 341.8,515.8 343.8,517.3 345.5,518.3 347.3,520 348,521.7 348.3,524.1 348.8,525.8 348.5,527.7 349.2,530 347,530.3 345.5,530 345.4,531.8 344.7,533.3 344.5,535.7 344.7,538.3 343,540.8"/>
<polyline class="l" points="349.2,525 352.2,523.8 353.4,524.5 355.5,524.6 358,522.9 359.3,522.4 361.3,522.5 363.4,524.2 364.7,526.2 366.2,526.8 368,527.1 369.3,527.7 371.3,528.3"/>
<polyline class="l" points="322.2,529.2 324.1,531 326.3,531.7 328.5,533.4 330.5,534.2 331.8,536.3 333.8,537.5 335.5,538.8 338,539.2 340.3,540.1 342.2,540.4"/>
<polygon class="p" fill="#FFFFBF" points="343,542.5 344.9,541.3 346.3,540.4 347.8,540.3 349.7,539.2 351.4,538.1 353,537.1 354.3,536.1 356.3,535.4 358.6,534.7 360.5,534.6 362.5,533.9 364.7,534.2 366.3,533.6 368,533.8 369.3,534.2 371.3,534.6 373.8,536.2 373,538.3 371.3,540.8 370.3,542.7 370.5,544.2 368,543.3 365.5,542.1 363,542.5 361.4,543.7 359.7,544.2 358.3,544.7 356.3,545 354.4,545.6 353,546.2 351.4,546.4 349.7,546.7 348.4,545.8 346.3,545.8 343.8,544.6"/>
<polygon class="p" fill="#2569A8" points="313.8,534.2 315.9,534.9 318.8,534.6 319.5,536.3 320.9,537.5 321.4,539.6 321.3,541.7 320.8,543.2 320.9,545 318.4,545.2 316,546.1 313.8,545.8 313.4,543.1 313.5,541.5 314.2,539 313.8,536.8"/>
<polyline class="l" points="323,545.8 324.7,546.2 326.3,546.2 327.8,546.3 329.7,546.7 331.5,547.2 333,548.3 334.2,549.4 336.3,550 338.4,550.9 340.5,551.7 342.8,552.3 344.7,553.3 346.9,554.2 348.8,555.4"/>
<polyline class="l" points="333,547.5 334.6,547 336.3,546.2 337.8,546.2 339.7,546.7 341.7,547 343,548.3 345.5,548.8 347.2,549.6 349.5,550.3 351.3,550.4 352.5,551.6 354.7,552.1 354.9,554.1 355.5,555.4"/>
<polygon class="p" fill="#FFFFFF" points="363,555 365.5,552.5 368.8,550.4 373,549.6 377.2,550 380.1,551.2 379.7,555 379.2,558.3 362.2,558.3"/>
</g>
<g clip-path="url(#c16)">
<polygon fill="#4A4A4A" fill-opacity="0.88" points="418.4,100 421.2,100.6 425,102.2 428.1,103.4 429.1,106.2 428.4,108.8 427.5,111.2 428.8,113.8 430,116.2 431.2,118.1 431.2,120.6 428.8,120 426.2,121.2 423.8,122.5 422.5,125 422.5,128.1 420,126.9 418.1,128.8 416.9,130 415,130 413.8,131.2 411.9,130 410.6,128.1 408.8,127.5 406.9,130 405,130.6 403.1,130 401.2,130 399.4,128.1 398.1,125.9 400.6,124.1 403.8,122.2 406.2,121.2 408.1,118.8 410.6,115.6 413.8,111.9 416.9,109.1 417.5,105.6 418.1,102.5"/>
<polygon fill="#4A4A4A" fill-opacity="0.88" points="402.5,130.6 405,130 405.6,133.8 406.9,137.5 408.8,138.8 410.6,137.5 411.6,133.8 411.2,130.6 412.2,130.3 411.6,136.2 410.6,140 408.1,141.2 405.6,140 404.1,136.2 402.8,133.1"/>
<polygon fill="#93D4A7" points="413.8,112.5 415,112.2 414.7,114.1 413.4,114.4"/>
<polygon fill="#93D4A7" points="408.8,119.4 410,118.8 410.3,120.6 409.1,121.2"/>
<polygon fill="#93D4A7" points="416.2,120 417.8,119.7 417.5,121.6 416.2,121.9"/>
<polygon fill="#93D4A7" points="400.3,126.2 402.2,125.6 402.5,127.5 400.9,128.1"/>
<polygon fill="#93D4A7" points="405.3,126.2 407.2,125.9 407.5,127.8 405.6,128.1"/>
<polygon fill="#93D4A7" points="409.4,123.1 411.2,122.8 411.6,124.4 409.7,125"/>
<polygon fill="#93D4A7" points="412.5,116.2 414.1,115.6 414.4,117.5 412.8,118.1"/>
<polygon fill="#93D4A7" points="406.2,131.6 409.7,130.9 410.3,133.8 409.2,136.6 407.6,137.2 406.4,135"/>
<polygon fill="#2569A8" points="419.4,101.6 420.9,101.6 420.9,103.1 419.4,103.1"/>
<polygon fill="#2569A8" points="421.9,106.2 423.1,106.2 423.1,108.1 421.9,108.1"/>
<polygon fill="#2569A8" points="420,112.5 421.2,112.5 421.2,114.4 420,114.4"/>
<polygon fill="#2569A8" points="424.1,103.1 425.3,103.4 425,105 424.1,104.7"/>
<polygon fill="#2569A8" points="423.8,115 425,115 425,116.6 423.8,116.6"/>
<polygon fill="#2569A8" points="426.6,117.5 427.8,117.5 427.8,118.9 426.6,118.9"/>
<polygon fill="#FFFFFF" points="417.8,110 420.3,110.3 418.8,115 418.1,112.5"/>
<polygon fill="#FFFFFF" points="405.9,123.1 407.5,122.8 410,125.6 411.9,125.9 411.6,127.2 409.4,126.9"/>
<polygon fill="#FFFFFF" points="418.8,117.8 420.9,118.1 420.9,119.1 418.8,118.8"/>
<polygon fill="#FFFFFF" points="398.8,126.9 400,126.6 401.9,129.1 400.9,129.7"/>
</g>
</g>
<text x="119.5" y="39.5" font-size="35.2" fill="#000">Matriz de contiguidad</text>
<text class="ax" x="105" y="163.5" text-anchor="end">1°N</text>
<text class="ax" x="105" y="282.6" text-anchor="end">0°</text>
<text class="ax" x="105" y="401.8" text-anchor="end">1°S</text>
<text class="ax" x="105" y="520.9" text-anchor="end">2°S</text>
<text class="ax" x="105" y="640.0" text-anchor="end">3°S</text>
<text class="ax" x="105" y="759.1" text-anchor="end">4°S</text>
<text class="ax" x="105" y="878.3" text-anchor="end">5°S</text>
<text class="ax" x="164.7" y="940.8" text-anchor="middle">81°W</text>
<text class="ax" x="284.3" y="940.8" text-anchor="middle">80°W</text>
<text class="ax" x="403.9" y="940.8" text-anchor="middle">79°W</text>
<text class="ax" x="523.5" y="940.8" text-anchor="middle">78°W</text>
<text class="ax" x="643.1" y="940.8" text-anchor="middle">77°W</text>
<text class="ax" x="762.7" y="940.8" text-anchor="middle">76°W</text>
<text class="ax" x="882.3" y="940.8" text-anchor="middle">75°W</text>
<text x="942.5" y="374.3" font-size="29.3" fill="#000">w=cont.matY - Quantiles</text>
<rect x="944.15" y="393.35" width="42.3" height="42.1" fill="#FFFFBF" stroke="#4A4A4A" stroke-width="2.5"/>
<text class="lg" x="1002.8" y="424.4">[-1,0.592]</text>
<rect x="944.15" y="439.43" width="42.3" height="42.1" fill="#93D4A7" stroke="#4A4A4A" stroke-width="2.5"/>
<text class="lg" x="1002.8" y="470.5">(0.592,0.636]</text>
<rect x="944.15" y="485.51" width="42.3" height="42.1" fill="#37A7B8" stroke="#4A4A4A" stroke-width="2.5"/>
<text class="lg" x="1002.8" y="516.6">(0.636,0.652]</text>
<rect x="944.15" y="531.59" width="42.3" height="42.1" fill="#2569A8" stroke="#4A4A4A" stroke-width="2.5"/>
<text class="lg" x="1002.8" y="562.6">(0.652,0.677]</text>
<rect x="944.15" y="577.67" width="42.3" height="42.1" fill="#1C1F82" stroke="#4A4A4A" stroke-width="2.5"/>
<text class="lg" x="1002.8" y="608.7">(0.677,1]</text>
</svg>
</body></html>
